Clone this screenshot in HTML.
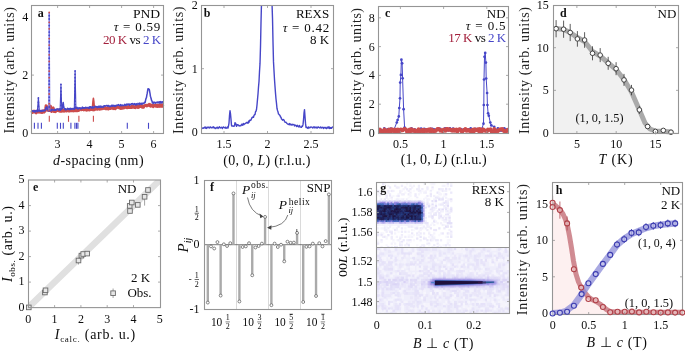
<!DOCTYPE html><html><head><meta charset="utf-8"><style>html,body{margin:0;padding:0;background:#fff;overflow:hidden}svg{display:block;will-change:transform} text{font-family:"Liberation Serif", serif}</style></head><body><svg width="685" height="351" viewBox="0 0 685 351"><rect width="685" height="351" fill="#fff"/><path d="M32.00,111.85 L32.40,112.48 L32.80,112.23 L33.20,111.25 L33.60,111.19 L34.00,111.24 L34.40,111.92 L34.80,111.30 L35.20,112.29 L35.60,112.17 L36.00,112.94 L36.40,112.69 L36.80,111.24 L37.20,111.55 L37.60,111.27 L38.00,112.17 L38.40,111.96 L38.80,110.97 L39.20,112.19 L39.60,111.43 L40.00,111.69 L40.40,112.35 L40.80,111.23 L41.20,111.77 L41.60,112.16 L42.00,112.64 L42.40,111.50 L42.80,110.94 L43.20,110.70 L43.60,112.13 L44.00,112.32 L44.40,111.90 L44.80,111.44 L45.20,111.18 L45.60,108.72 L46.00,105.67 L46.40,105.75 L46.80,107.15 L47.20,108.46 L47.60,109.42 L48.00,110.45 L48.40,110.42 L48.80,110.52 L49.20,110.58 L49.60,108.24 L50.00,106.37 L50.40,106.00 L50.80,107.17 L51.20,109.72 L51.60,111.59 L52.00,109.39 L52.40,108.27 L52.80,108.30 L53.20,107.77 L53.60,109.71 L54.00,111.65 L54.40,111.01 L54.80,111.36 L55.20,111.79 L55.60,111.72 L56.00,110.74 L56.40,110.14 L56.80,110.04 L57.20,110.31 L57.60,110.55 L58.00,109.85 L58.40,110.03 L58.80,109.86 L59.20,111.02 L59.60,110.27 L60.00,110.47 L60.40,111.42 L60.80,110.64 L61.20,109.86 L61.60,110.35 L62.00,111.30 L62.40,109.67 L62.80,110.66 L63.20,110.67 L63.60,110.62 L64.00,111.27 L64.40,110.04 L64.80,109.83 L65.20,110.54 L65.60,110.12 L66.00,111.06 L66.40,111.12 L66.80,111.03 L67.20,109.83 L67.60,110.06 L68.00,109.39 L68.40,109.83 L68.80,111.20 L69.20,111.14 L69.60,111.16 L70.00,109.67 L70.40,109.60 L70.80,110.43 L71.20,110.85 L71.60,110.45 L72.00,109.29 L72.40,110.92 L72.80,110.58 L73.20,109.42 L73.60,109.71 L74.00,110.96 L74.40,109.80 L74.80,110.43 L75.20,109.21 L75.60,110.75 L76.00,109.21 L76.40,110.86 L76.80,109.58 L77.20,109.12 L77.60,110.77 L78.00,109.87 L78.40,109.66 L78.80,110.42 L79.20,109.25 L79.60,109.21 L80.00,109.23 L80.40,108.95 L80.80,109.37 L81.20,109.81 L81.60,109.47 L82.00,109.61 L82.40,109.63 L82.80,109.44 L83.20,108.55 L83.60,108.87 L84.00,109.95 L84.40,109.13 L84.80,109.57 L85.20,108.65 L85.60,108.91 L86.00,109.94 L86.40,109.50 L86.80,110.18 L87.20,109.56 L87.60,109.34 L88.00,109.20 L88.40,109.23 L88.80,109.65 L89.20,110.12 L89.60,109.33 L90.00,109.87 L90.40,108.41 L90.80,108.29 L91.20,108.27 L91.60,109.67 L92.00,108.39 L92.40,109.39 L92.80,109.81 L93.20,108.46 L93.60,108.80 L94.00,109.96 L94.40,108.28 L94.80,108.97 L95.20,108.31 L95.60,109.34 L96.00,108.99 L96.40,107.89 L96.80,109.08 L97.20,107.94 L97.60,109.37 L98.00,107.98 L98.40,107.83 L98.80,108.27 L99.20,108.56 L99.60,109.33 L100.00,107.97 L100.40,108.79 L100.80,107.81 L101.20,108.98 L101.60,107.73 L102.00,108.84 L102.40,107.71 L102.80,107.66 L103.20,108.41 L103.60,108.59 L104.00,108.00 L104.40,108.50 L104.80,107.64 L105.20,107.50 L105.60,108.00 L106.00,108.88 L106.40,108.34 L106.80,108.01 L107.20,107.80 L107.60,108.74 L108.00,107.63 L108.40,109.10 L108.80,108.85 L109.20,108.18 L109.60,107.96 L110.00,108.53 L110.40,107.82 L110.80,108.52 L111.20,107.90 L111.60,107.18 L112.00,107.19 L112.40,107.54 L112.80,107.17 L113.20,108.73 L113.60,107.53 L114.00,107.53 L114.40,107.24 L114.80,107.43 L115.20,108.83 L115.60,107.35 L116.00,107.46 L116.40,106.82 L116.80,107.75 L117.20,107.18 L117.60,106.77 L118.00,106.92 L118.40,106.80 L118.80,107.30 L119.20,107.84 L119.60,108.15 L120.00,108.06 L120.40,107.39 L120.80,108.56 L121.20,108.02 L121.60,106.64 L122.00,108.31 L122.40,107.98 L122.80,106.77 L123.20,107.47 L123.60,108.05 L124.00,107.59 L124.40,107.77 L124.80,106.84 L125.20,106.63 L125.60,106.55 L126.00,107.44 L126.40,107.55 L126.80,107.26 L127.20,107.85 L127.60,107.24 L128.00,107.54 L128.40,107.67 L128.80,106.32 L129.20,107.61 L129.60,107.61 L130.00,107.10 L130.40,107.05 L130.80,107.61 L131.20,107.34 L131.60,106.32 L132.00,107.50 L132.40,107.12 L132.80,106.09 L133.20,107.29 L133.60,107.28 L134.00,106.94 L134.40,106.82 L134.80,107.65 L135.20,107.80 L135.60,105.86 L136.00,107.44 L136.40,106.68 L136.80,106.18 L137.20,106.16 L137.60,106.00 L138.00,107.60 L138.40,107.32 L138.80,107.43 L139.20,106.10 L139.60,106.59 L140.00,105.60 L140.40,106.47 L140.80,105.83 L141.20,106.16 L141.60,105.51 L142.00,107.17 L142.40,107.32 L142.80,107.24 L143.20,106.16 L143.60,107.37 L144.00,106.05 L144.40,105.81 L144.80,105.38 L145.20,105.63 L145.60,105.41 L146.00,105.75 L146.40,105.27 L146.80,106.06 L147.20,105.34 L147.60,105.76 L148.00,105.18 L148.40,105.12 L148.80,105.16 L149.20,104.30 L149.60,105.71 L150.00,104.97 L150.40,104.81 L150.80,106.34 L151.20,105.86 L151.60,105.78 L152.00,105.09 L152.40,105.23 L152.80,105.85 L153.20,106.68 L153.60,105.76 L154.00,105.24 L154.40,105.52 L154.80,105.30 L155.20,105.94 L155.60,106.28 L156.00,105.59 L156.40,105.50 L156.80,104.85 L157.20,106.64 L157.60,105.69 L158.00,106.39 L158.40,105.18 L158.80,105.42 L159.20,106.51 L159.60,106.32 L160.00,104.62 L160.40,106.33 L160.80,105.69 L161.20,105.28 L161.60,106.12 L162.00,106.40 L162.40,104.65 L162.80,105.46" stroke="#cc4c4c" stroke-width="2.8" fill="none" stroke-linejoin="round" stroke-linecap="round" />
<path d="M92.30,109.07 L93.00,101.00 L93.40,98.30 L93.80,101.00 L94.50,108.96" stroke="#cc4c4c" stroke-width="1.6" fill="none" stroke-linejoin="round" stroke-linecap="round" />
<path d="M32.00,110.94 L32.40,110.79 L32.80,111.23 L33.20,111.43 L33.60,111.28 L34.00,110.70 L34.40,111.85 L34.80,110.86 L35.20,111.99 L35.60,111.08 L36.00,110.49 L36.40,110.85 L36.80,110.55 L37.20,111.64 L37.60,111.23 L38.00,110.87 L38.40,110.35 L38.80,110.55 L39.20,110.87 L39.60,111.10 L40.00,110.61 L40.40,111.22 L40.80,110.99 L41.20,111.45 L41.60,110.48 L42.00,110.18 L42.40,111.17 L42.80,110.72 L43.20,110.97 L43.60,110.79 L44.00,110.35 L44.40,110.74 L44.80,110.35 L45.20,110.60 L45.60,108.98 L46.00,107.55 L46.40,107.27 L46.80,106.82 L47.20,108.88 L47.60,109.66 L48.00,109.58 L48.40,110.74 L48.80,109.90 L49.20,110.87 L49.60,110.17 L50.00,110.84 L50.40,110.78 L50.80,110.03 L51.20,110.75 L51.60,109.55 L52.00,109.65 L52.40,110.03 L52.80,109.64 L53.20,109.87 L53.60,110.07 L54.00,110.24 L54.40,110.10 L54.80,109.17 L55.20,110.30 L55.60,110.30 L56.00,109.63 L56.40,109.98 L56.80,109.05 L57.20,109.17 L57.60,108.97 L58.00,109.10 L58.40,109.41 L58.80,110.20 L59.20,109.01 L59.60,109.30 L60.00,108.91 L60.40,110.27 L60.80,109.43 L61.20,108.79 L61.60,108.99 L62.00,108.51 L62.40,108.44 L62.80,104.42 L63.20,102.53 L63.60,105.69 L64.00,107.92 L64.40,108.67 L64.80,109.57 L65.20,109.59 L65.60,108.67 L66.00,109.86 L66.40,109.55 L66.80,109.41 L67.20,109.03 L67.60,108.22 L68.00,108.59 L68.40,109.22 L68.80,108.80 L69.20,109.64 L69.60,108.61 L70.00,108.37 L70.40,108.30 L70.80,109.39 L71.20,108.68 L71.60,109.17 L72.00,108.92 L72.40,109.08 L72.80,108.57 L73.20,109.04 L73.60,109.03 L74.00,108.35 L74.40,109.20 L74.80,107.81 L75.20,107.14 L75.60,107.11 L76.00,107.11 L76.40,107.86 L76.80,108.27 L77.20,107.51 L77.60,108.50 L78.00,108.93 L78.40,108.80 L78.80,107.72 L79.20,107.82 L79.60,108.26 L80.00,107.96 L80.40,108.72 L80.80,107.97 L81.20,108.65 L81.60,108.65 L82.00,108.00 L82.40,107.15 L82.80,107.39 L83.20,108.34 L83.60,107.79 L84.00,107.90 L84.40,107.81 L84.80,108.21 L85.20,107.82 L85.60,107.34 L86.00,107.68 L86.40,108.05 L86.80,107.52 L87.20,107.59 L87.60,107.86 L88.00,107.58 L88.40,108.20 L88.80,108.07 L89.20,107.05 L89.60,108.12 L90.00,106.80 L90.40,107.26 L90.80,106.91 L91.20,107.57 L91.60,107.90 L92.00,107.59 L92.40,106.64 L92.80,107.93 L93.20,107.88 L93.60,107.11 L94.00,107.63 L94.40,106.96 L94.80,106.78 L95.20,106.72 L95.60,106.22 L96.00,106.86 L96.40,106.66 L96.80,106.92 L97.20,107.65 L97.60,107.60 L98.00,106.44 L98.40,107.23 L98.80,106.16 L99.20,107.39 L99.60,106.31 L100.00,107.34 L100.40,106.96 L100.80,105.91 L101.20,106.47 L101.60,107.26 L102.00,107.01 L102.40,107.07 L102.80,107.05 L103.20,106.19 L103.60,107.10 L104.00,105.80 L104.40,105.94 L104.80,105.79 L105.20,105.83 L105.60,105.96 L106.00,105.91 L106.40,105.70 L106.80,105.42 L107.20,105.39 L107.60,106.21 L108.00,106.06 L108.40,105.45 L108.80,105.94 L109.20,106.55 L109.60,106.00 L110.00,106.73 L110.40,106.47 L110.80,106.12 L111.20,105.63 L111.60,105.26 L112.00,106.21 L112.40,105.25 L112.80,106.31 L113.20,106.01 L113.60,105.29 L114.00,105.61 L114.40,105.56 L114.80,106.36 L115.20,105.67 L115.60,106.31 L116.00,105.31 L116.40,105.32 L116.80,105.48 L117.20,105.46 L117.60,105.05 L118.00,105.23 L118.40,104.60 L118.80,104.91 L119.20,105.36 L119.60,105.53 L120.00,105.86 L120.40,104.95 L120.80,104.64 L121.20,105.40 L121.60,105.68 L122.00,105.31 L122.40,105.58 L122.80,105.09 L123.20,105.56 L123.60,105.52 L124.00,105.60 L124.40,105.25 L124.80,104.16 L125.20,104.66 L125.60,105.39 L126.00,105.03 L126.40,105.09 L126.80,103.98 L127.20,105.14 L127.60,104.77 L128.00,103.99 L128.40,104.26 L128.80,104.25 L129.20,104.13 L129.60,105.33 L130.00,104.35 L130.40,104.81 L130.80,104.67 L131.20,103.78 L131.60,104.04 L132.00,104.09 L132.40,103.59 L132.80,103.97 L133.20,104.62 L133.60,103.95 L134.00,104.20 L134.40,103.62 L134.80,103.72 L135.20,104.87 L135.60,104.08 L136.00,104.87 L136.40,103.72 L136.80,104.77 L137.20,104.16 L137.60,104.04 L138.00,103.39 L138.40,103.96 L138.80,104.24 L139.20,104.53 L139.60,103.10 L140.00,103.82 L140.40,103.49 L140.80,103.53 L141.20,104.29 L141.60,104.12 L142.00,103.08 L142.40,103.99 L142.80,103.27 L143.20,103.36 L143.60,103.56 L144.00,103.12 L144.40,102.19 L144.80,102.94 L145.20,102.31 L145.60,100.10 L146.00,98.46 L146.40,97.81 L146.80,95.45 L147.20,93.45 L147.60,90.93 L148.00,88.71 L148.40,88.69 L148.80,89.18 L149.20,89.24 L149.60,91.02 L150.00,93.40 L150.40,96.15 L150.80,97.35 L151.20,99.06 L151.60,100.48 L152.00,101.01 L152.40,102.78 L152.80,102.04 L153.20,103.47 L153.60,102.18 L154.00,102.14 L154.40,102.14 L154.80,102.39 L155.20,103.37 L155.60,102.58 L156.00,102.74 L156.40,102.41 L156.80,102.28 L157.20,102.01 L157.60,102.79 L158.00,102.10 L158.40,102.12 L158.80,102.41 L159.20,103.03 L159.60,101.68 L160.00,102.75 L160.40,102.34 L160.80,101.56 L161.20,103.01 L161.60,102.87 L162.00,101.87 L162.40,101.69 L162.80,102.51" stroke="#4646c8" stroke-width="1.5" fill="none" stroke-linejoin="round" stroke-linecap="round" />
<path d="M37.50,110.55 L38.40,98.00 L39.30,110.55" stroke="#4646c8" stroke-width="1.2" fill="none" stroke-linejoin="round" stroke-linecap="round" />
<circle cx="38.40" cy="98.00" r="0.9" fill="#4646c8"/>
<circle cx="38.40" cy="102.18" r="0.9" fill="#4646c8"/>
<circle cx="38.40" cy="106.36" r="0.9" fill="#4646c8"/>
<circle cx="38.40" cy="110.55" r="0.9" fill="#4646c8"/>
<path d="M48.70,110.28 L49.20,12.50 L49.90,110.28" stroke="#7a7ae6" stroke-width="1.0" fill="none" stroke-linejoin="round" stroke-linecap="round" />
<circle cx="49.20" cy="12.50" r="0.9" fill="#cc4c4c"/>
<circle cx="49.20" cy="15.76" r="0.9" fill="#4646c8"/>
<circle cx="49.20" cy="19.02" r="0.9" fill="#4646c8"/>
<circle cx="49.20" cy="22.28" r="0.9" fill="#cc4c4c"/>
<circle cx="49.20" cy="25.54" r="0.9" fill="#4646c8"/>
<circle cx="49.20" cy="28.80" r="0.9" fill="#cc4c4c"/>
<circle cx="49.20" cy="32.06" r="0.9" fill="#4646c8"/>
<circle cx="49.20" cy="35.32" r="0.9" fill="#4646c8"/>
<circle cx="49.20" cy="38.57" r="0.9" fill="#cc4c4c"/>
<circle cx="49.20" cy="41.83" r="0.9" fill="#4646c8"/>
<circle cx="49.20" cy="45.09" r="0.9" fill="#cc4c4c"/>
<circle cx="49.20" cy="48.35" r="0.9" fill="#4646c8"/>
<circle cx="49.20" cy="51.61" r="0.9" fill="#4646c8"/>
<circle cx="49.20" cy="54.87" r="0.9" fill="#cc4c4c"/>
<circle cx="49.20" cy="58.13" r="0.9" fill="#4646c8"/>
<circle cx="49.20" cy="61.39" r="0.9" fill="#cc4c4c"/>
<circle cx="49.20" cy="64.65" r="0.9" fill="#4646c8"/>
<circle cx="49.20" cy="67.91" r="0.9" fill="#4646c8"/>
<circle cx="49.20" cy="71.17" r="0.9" fill="#cc4c4c"/>
<circle cx="49.20" cy="74.43" r="0.9" fill="#4646c8"/>
<circle cx="49.20" cy="77.69" r="0.9" fill="#cc4c4c"/>
<circle cx="49.20" cy="80.95" r="0.9" fill="#4646c8"/>
<circle cx="49.20" cy="84.20" r="0.9" fill="#4646c8"/>
<circle cx="49.20" cy="87.46" r="0.9" fill="#cc4c4c"/>
<circle cx="49.20" cy="90.72" r="0.9" fill="#4646c8"/>
<circle cx="49.20" cy="93.98" r="0.9" fill="#cc4c4c"/>
<circle cx="49.20" cy="97.24" r="0.9" fill="#4646c8"/>
<circle cx="49.20" cy="100.50" r="0.9" fill="#4646c8"/>
<circle cx="49.20" cy="103.76" r="0.9" fill="#cc4c4c"/>
<circle cx="49.20" cy="107.02" r="0.9" fill="#4646c8"/>
<circle cx="49.20" cy="110.28" r="0.9" fill="#cc4c4c"/>
<path d="M60.15,108.94 L60.95,84.30 L61.75,108.94" stroke="#4646c8" stroke-width="1.1" fill="none" stroke-linejoin="round" stroke-linecap="round" />
<circle cx="60.95" cy="84.30" r="0.9" fill="#4646c8"/>
<circle cx="60.95" cy="87.82" r="0.9" fill="#4646c8"/>
<circle cx="60.95" cy="91.34" r="0.9" fill="#4646c8"/>
<circle cx="60.95" cy="94.86" r="0.9" fill="#4646c8"/>
<circle cx="60.95" cy="98.38" r="0.9" fill="#4646c8"/>
<circle cx="60.95" cy="101.90" r="0.9" fill="#4646c8"/>
<circle cx="60.95" cy="105.42" r="0.9" fill="#4646c8"/>
<circle cx="60.95" cy="108.94" r="0.9" fill="#4646c8"/>
<path d="M74.30,107.94 L75.10,71.00 L75.90,107.94" stroke="#4646c8" stroke-width="1.1" fill="none" stroke-linejoin="round" stroke-linecap="round" />
<circle cx="75.10" cy="71.00" r="0.9" fill="#4646c8"/>
<circle cx="75.10" cy="74.36" r="0.9" fill="#4646c8"/>
<circle cx="75.10" cy="77.72" r="0.9" fill="#4646c8"/>
<circle cx="75.10" cy="81.07" r="0.9" fill="#4646c8"/>
<circle cx="75.10" cy="84.43" r="0.9" fill="#4646c8"/>
<circle cx="75.10" cy="87.79" r="0.9" fill="#4646c8"/>
<circle cx="75.10" cy="91.15" r="0.9" fill="#4646c8"/>
<circle cx="75.10" cy="94.51" r="0.9" fill="#4646c8"/>
<circle cx="75.10" cy="97.87" r="0.9" fill="#4646c8"/>
<circle cx="75.10" cy="101.22" r="0.9" fill="#4646c8"/>
<circle cx="75.10" cy="104.58" r="0.9" fill="#4646c8"/>
<circle cx="75.10" cy="107.94" r="0.9" fill="#4646c8"/>
<line x1="49.3" y1="115.8" x2="49.3" y2="121.8" stroke="#cc4c4c" stroke-width="1.1"/>
<line x1="68.5" y1="115.8" x2="68.5" y2="121.8" stroke="#cc4c4c" stroke-width="1.1"/>
<line x1="78.9" y1="115.8" x2="78.9" y2="121.8" stroke="#cc4c4c" stroke-width="1.1"/>
<line x1="93.4" y1="115.8" x2="93.4" y2="121.8" stroke="#cc4c4c" stroke-width="1.1"/>
<line x1="34.4" y1="122.8" x2="34.4" y2="128.8" stroke="#4646c8" stroke-width="1.1"/>
<line x1="38" y1="122.8" x2="38" y2="128.8" stroke="#4646c8" stroke-width="1.1"/>
<line x1="41.4" y1="122.8" x2="41.4" y2="128.8" stroke="#4646c8" stroke-width="1.1"/>
<line x1="57.3" y1="122.8" x2="57.3" y2="128.8" stroke="#4646c8" stroke-width="1.1"/>
<line x1="60.5" y1="122.8" x2="60.5" y2="128.8" stroke="#4646c8" stroke-width="1.1"/>
<line x1="63.3" y1="122.8" x2="63.3" y2="128.8" stroke="#4646c8" stroke-width="1.1"/>
<line x1="70.9" y1="122.8" x2="70.9" y2="128.8" stroke="#4646c8" stroke-width="1.1"/>
<line x1="74.9" y1="122.8" x2="74.9" y2="128.8" stroke="#4646c8" stroke-width="1.1"/>
<line x1="76.5" y1="122.8" x2="76.5" y2="128.8" stroke="#4646c8" stroke-width="1.1"/>
<line x1="77.9" y1="122.8" x2="77.9" y2="128.8" stroke="#4646c8" stroke-width="1.1"/>
<line x1="127.3" y1="122.8" x2="127.3" y2="128.8" stroke="#4646c8" stroke-width="1.1"/>
<line x1="148.5" y1="122.8" x2="148.5" y2="128.8" stroke="#4646c8" stroke-width="1.1"/>
<rect x="31.5" y="5.5" width="132.0" height="128.0" fill="none" stroke="#959595" stroke-width="1.1"/>
<line x1="57.6" y1="133.5" x2="57.6" y2="131.0" stroke="#959595" stroke-width="0.8"/>
<line x1="57.6" y1="5.5" x2="57.6" y2="8.0" stroke="#959595" stroke-width="0.8"/>
<line x1="89.6" y1="133.5" x2="89.6" y2="131.0" stroke="#959595" stroke-width="0.8"/>
<line x1="89.6" y1="5.5" x2="89.6" y2="8.0" stroke="#959595" stroke-width="0.8"/>
<line x1="121.6" y1="133.5" x2="121.6" y2="131.0" stroke="#959595" stroke-width="0.8"/>
<line x1="121.6" y1="5.5" x2="121.6" y2="8.0" stroke="#959595" stroke-width="0.8"/>
<line x1="153.6" y1="133.5" x2="153.6" y2="131.0" stroke="#959595" stroke-width="0.8"/>
<line x1="153.6" y1="5.5" x2="153.6" y2="8.0" stroke="#959595" stroke-width="0.8"/>
<line x1="31.5" y1="75.10000000000001" x2="34.0" y2="75.10000000000001" stroke="#959595" stroke-width="0.8"/>
<line x1="163.5" y1="75.10000000000001" x2="161.0" y2="75.10000000000001" stroke="#959595" stroke-width="0.8"/>
<text x="28.2" y="137.3" font-size="12" text-anchor="end" fill="#0c0c0c" font-weight="normal" font-style="normal" >0</text>
<text x="28.2" y="79.10000000000001" font-size="12" text-anchor="end" fill="#0c0c0c" font-weight="normal" font-style="normal" >2</text>
<text x="28.2" y="20.900000000000006" font-size="12" text-anchor="end" fill="#0c0c0c" font-weight="normal" font-style="normal" >4</text>
<text x="57.6" y="148" font-size="12" text-anchor="middle" fill="#0c0c0c" font-weight="normal" font-style="normal" >3</text>
<text x="89.6" y="148" font-size="12" text-anchor="middle" fill="#0c0c0c" font-weight="normal" font-style="normal" >4</text>
<text x="121.6" y="148" font-size="12" text-anchor="middle" fill="#0c0c0c" font-weight="normal" font-style="normal" >5</text>
<text x="153.6" y="148" font-size="12" text-anchor="middle" fill="#0c0c0c" font-weight="normal" font-style="normal" >6</text>
<text x="98.3" y="164.6" font-size="14" text-anchor="middle" fill="#0c0c0c" textLength="90.5" lengthAdjust="spacing"><tspan font-style="italic">d</tspan>-spacing (nm)</text>
<text x="14.3" y="70.2" font-size="14" text-anchor="middle" fill="#222" transform="rotate(-90 14.3 70.2)" textLength="126.5" lengthAdjust="spacing">Intensity (arb. units)</text>
<text x="37.8" y="16.7" font-size="12" text-anchor="start" fill="#111" font-weight="bold" font-style="normal" >a</text>
<text x="160.2" y="18.1" font-size="13" text-anchor="end" fill="#0c0c0c" font-weight="normal" font-style="normal" textLength="27.2" lengthAdjust="spacingAndGlyphs" >PND</text>
<text x="160.2" y="31" font-size="13" text-anchor="end" fill="#0c0c0c" textLength="46.5" lengthAdjust="spacing"><tspan font-style="italic">τ</tspan> = 0.59</text>
<text x="161.2" y="43.8" font-size="13" text-anchor="end" fill="#0c0c0c" textLength="58.2" lengthAdjust="spacing"><tspan fill="#a3203c">20 K</tspan> vs <tspan fill="#4646c8">2 K</tspan></text>
<clipPath id="cb"><rect x="201.5" y="5.5" width="132" height="128"/></clipPath>
<path d="M202.00,128.49 L202.50,128.10 L203.00,127.97 L203.50,128.18 L204.00,127.62 L204.50,127.79 L205.00,126.87 L205.50,128.21 L206.00,127.22 L206.50,128.46 L207.00,127.96 L207.50,127.35 L208.00,127.03 L208.50,127.25 L209.00,127.95 L209.50,128.06 L210.00,127.00 L210.50,126.93 L211.00,127.74 L211.50,127.85 L212.00,127.50 L212.50,127.20 L213.00,127.88 L213.50,126.82 L214.00,127.34 L214.50,127.63 L215.00,128.53 L215.50,127.96 L216.00,128.39 L216.50,127.66 L217.00,127.22 L217.50,127.24 L218.00,128.53 L218.50,128.07 L219.00,127.35 L219.50,126.84 L220.00,127.70 L220.50,128.01 L221.00,127.56 L221.50,127.26 L222.00,128.00 L222.50,128.47 L223.00,127.21 L223.50,126.86 L224.00,127.41 L224.50,127.56 L225.00,128.03 L225.50,127.16 L226.00,128.23 L226.50,128.13 L227.00,127.67 L227.50,127.01 L228.00,128.11 L228.50,125.78 L229.00,123.06 L229.50,115.51 L230.00,110.72 L230.50,113.79 L231.00,119.37 L231.50,125.32 L232.00,126.22 L232.50,125.95 L233.00,125.96 L233.50,126.18 L234.00,126.24 L234.50,125.57 L235.00,122.61 L235.50,123.16 L236.00,124.24 L236.50,126.40 L237.00,125.00 L237.50,124.75 L238.00,124.67 L238.50,125.17 L239.00,125.98 L239.50,125.85 L240.00,125.48 L240.50,125.86 L241.00,125.64 L241.50,124.45 L242.00,124.09 L242.50,125.34 L243.00,124.90 L243.50,123.52 L244.00,124.56 L244.50,123.94 L245.00,123.78 L245.50,123.47 L246.00,122.94 L246.50,122.41 L247.00,122.68 L247.50,122.57 L248.00,123.31 L248.50,121.30 L249.00,122.30 L249.50,120.42 L250.00,120.18 L250.50,120.50 L251.00,119.99 L251.50,118.74 L252.00,117.47 L252.50,117.65 L253.00,116.88 L253.50,117.28 L254.00,115.38 L254.50,114.74 L255.00,114.51 L255.50,111.76 L256.00,111.25 L256.50,109.48 L257.00,104.96 L257.50,99.37 L258.00,94.03 L258.50,87.00 L259.00,81.46 L259.50,71.51 L260.00,63.65 L260.50,46.67 L261.00,22.74 L261.50,3.00 L262.00,3.00 L262.50,3.00 L263.00,3.00 L263.50,3.00 L264.00,3.00 L264.50,3.00 L265.00,3.00 L265.50,3.00 L266.00,3.00 L266.50,3.00 L267.00,3.00 L267.50,3.00 L268.00,3.00 L268.50,3.00 L269.00,3.00 L269.50,3.00 L270.00,3.00 L270.50,3.00 L271.00,3.00 L271.50,3.00 L272.00,3.00 L272.50,17.88 L273.00,41.91 L273.50,61.88 L274.00,70.78 L274.50,79.44 L275.00,86.56 L275.50,93.14 L276.00,99.04 L276.50,103.34 L277.00,108.54 L277.50,110.42 L278.00,111.82 L278.50,114.01 L279.00,114.29 L279.50,115.03 L280.00,115.56 L280.50,117.08 L281.00,117.26 L281.50,119.03 L282.00,119.44 L282.50,120.18 L283.00,119.40 L283.50,119.59 L284.00,120.12 L284.50,121.36 L285.00,122.25 L285.50,122.30 L286.00,122.31 L286.50,122.88 L287.00,123.48 L287.50,123.81 L288.00,124.17 L288.50,124.58 L289.00,124.44 L289.50,123.56 L290.00,124.95 L290.50,124.07 L291.00,124.66 L291.50,124.41 L292.00,125.17 L292.50,124.30 L293.00,124.49 L293.50,124.58 L294.00,124.52 L294.50,125.93 L295.00,125.48 L295.50,125.13 L296.00,125.35 L296.50,126.53 L297.00,125.75 L297.50,125.36 L298.00,126.50 L298.50,126.32 L299.00,127.02 L299.50,125.52 L300.00,126.29 L300.50,127.01 L301.00,127.15 L301.50,127.39 L302.00,125.90 L302.50,126.26 L303.00,124.65 L303.50,119.86 L304.00,113.22 L304.50,109.61 L305.00,116.57 L305.50,123.17 L306.00,127.44 L306.50,127.47 L307.00,127.26 L307.50,128.20 L308.00,128.50 L308.50,126.99 L309.00,127.87 L309.50,127.92 L310.00,127.19 L310.50,127.46 L311.00,127.05 L311.50,127.17 L312.00,127.26 L312.50,127.88 L313.00,127.97 L313.50,127.17 L314.00,126.82 L314.50,127.39 L315.00,128.02 L315.50,127.13 L316.00,127.36 L316.50,127.17 L317.00,128.23 L317.50,127.79 L318.00,126.91 L318.50,126.98 L319.00,127.51 L319.50,127.79 L320.00,127.95 L320.50,126.96 L321.00,127.09 L321.50,128.05 L322.00,127.54 L322.50,127.31 L323.00,127.35 L323.50,128.52 L324.00,127.36 L324.50,127.82 L325.00,127.44 L325.50,127.55 L326.00,128.36 L326.50,128.59 L327.00,127.45 L327.50,127.15 L328.00,128.11 L328.50,127.17 L329.00,126.81 L329.50,128.42 L330.00,127.56 L330.50,128.28 L331.00,127.53 L331.50,128.39 L332.00,127.63 L332.50,127.09 L333.00,126.83" stroke="#4646c8" stroke-width="1.4" fill="none" stroke-linejoin="round" stroke-linecap="round" clip-path="url(#cb)"/>
<rect x="201.5" y="5.5" width="132.0" height="128.0" fill="none" stroke="#959595" stroke-width="1.1"/>
<line x1="224.0" y1="133.5" x2="224.0" y2="131.0" stroke="#959595" stroke-width="0.8"/>
<line x1="224.0" y1="5.5" x2="224.0" y2="8.0" stroke="#959595" stroke-width="0.8"/>
<line x1="267.5" y1="133.5" x2="267.5" y2="131.0" stroke="#959595" stroke-width="0.8"/>
<line x1="267.5" y1="5.5" x2="267.5" y2="8.0" stroke="#959595" stroke-width="0.8"/>
<line x1="311.0" y1="133.5" x2="311.0" y2="131.0" stroke="#959595" stroke-width="0.8"/>
<line x1="311.0" y1="5.5" x2="311.0" y2="8.0" stroke="#959595" stroke-width="0.8"/>
<line x1="201.5" y1="68.7" x2="204.0" y2="68.7" stroke="#959595" stroke-width="0.8"/>
<line x1="333.5" y1="68.7" x2="331.0" y2="68.7" stroke="#959595" stroke-width="0.8"/>
<text x="197.7" y="136.4" font-size="12" text-anchor="end" fill="#0c0c0c" font-weight="normal" font-style="normal" >0</text>
<text x="197.7" y="72.7" font-size="12" text-anchor="end" fill="#0c0c0c" font-weight="normal" font-style="normal" >1</text>
<text x="197.7" y="9.0" font-size="12" text-anchor="end" fill="#0c0c0c" font-weight="normal" font-style="normal" >2</text>
<text x="224.0" y="148" font-size="12" text-anchor="middle" fill="#0c0c0c" font-weight="normal" font-style="normal" >1.5</text>
<text x="267.5" y="148" font-size="12" text-anchor="middle" fill="#0c0c0c" font-weight="normal" font-style="normal" >2</text>
<text x="311.0" y="148" font-size="12" text-anchor="middle" fill="#0c0c0c" font-weight="normal" font-style="normal" >2.5</text>
<text x="266.8" y="164.5" font-size="14" text-anchor="middle" fill="#0c0c0c" textLength="87" lengthAdjust="spacing">(0, 0, <tspan font-style="italic">L</tspan>) (r.l.u.)</text>
<text x="182.8" y="70.3" font-size="14" text-anchor="middle" fill="#222" transform="rotate(-90 182.8 70.3)" textLength="127.5" lengthAdjust="spacing">Intensity (arb. units)</text>
<text x="203.7" y="16.7" font-size="12" text-anchor="start" fill="#111" font-weight="bold" font-style="normal" >b</text>
<text x="329.2" y="18.4" font-size="13" text-anchor="end" fill="#0c0c0c" font-weight="normal" font-style="normal" >REXS</text>
<text x="329.2" y="31.6" font-size="13" text-anchor="end" fill="#0c0c0c" textLength="46.5" lengthAdjust="spacing"><tspan font-style="italic">τ</tspan> = 0.42</text>
<text x="329.2" y="43.9" font-size="13" text-anchor="end" fill="#0c0c0c" font-weight="normal" font-style="normal" >8 K</text>
<clipPath id="cc"><rect x="378.5" y="6.5" width="130" height="127"/></clipPath>
<g clip-path="url(#cc)">
<path d="M379.50,129.85 L381.10,130.12 L382.70,130.93 L384.30,128.47 L385.90,130.07 L387.50,129.31 L389.10,129.71 L390.70,128.64 L392.30,129.05 L393.90,129.76 L396.80,122.50 L397.60,120.00 L398.80,116.40 L399.30,108.00 L400.00,98.30 L400.20,82.60 L400.90,74.90 L401.40,59.70 L402.10,63.30 L402.60,78.30 L403.60,109.20 L404.60,127.50 L406.70,131.03 L408.30,131.13 L409.90,129.65 L411.50,128.36 L413.10,130.98 L414.70,129.36 L416.30,130.91 L417.90,130.06 L419.50,130.67 L421.10,128.68 L422.70,130.56 L424.30,128.87 L425.90,129.41 L427.50,130.74 L429.10,130.69 L430.70,128.75 L432.30,128.85 L433.90,129.40 L435.50,129.75 L437.10,129.35 L438.70,128.57 L440.30,128.94 L441.90,130.37 L443.50,130.89 L445.10,128.32 L446.70,129.89 L448.30,130.47 L449.90,128.31 L451.50,130.71 L453.10,128.55 L454.70,130.00 L456.30,129.85 L457.90,130.08 L459.50,129.12 L461.10,129.46 L462.70,129.95 L464.30,129.48 L465.90,130.18 L467.50,129.54 L469.10,129.52 L470.70,128.27 L472.30,130.06 L473.90,129.67 L475.50,128.91 L477.10,130.49 L478.70,130.54 L480.30,129.57 L481.90,128.74 L483.50,123.70 L483.80,105.00 L484.00,79.50 L484.50,56.80 L485.20,52.90 L485.90,62.60 L486.20,78.50 L487.10,93.00 L487.40,105.00 L488.10,113.30 L488.80,115.70 L490.30,122.50 L491.30,125.40 L494.20,126.80 L496.30,130.11 L497.90,128.45 L499.50,130.40 L501.10,130.53 L502.70,129.73 L504.30,128.36 L505.90,129.71 L507.50,129.33" stroke="#4646c8" stroke-width="1.0" fill="none" stroke-linejoin="round" stroke-linecap="round" />
<circle cx="379.50" cy="129.85" r="1.35" fill="#4646c8"/>
<circle cx="381.10" cy="130.12" r="1.35" fill="#4646c8"/>
<circle cx="382.70" cy="130.93" r="1.35" fill="#4646c8"/>
<circle cx="384.30" cy="128.47" r="1.35" fill="#4646c8"/>
<circle cx="385.90" cy="130.07" r="1.35" fill="#4646c8"/>
<circle cx="387.50" cy="129.31" r="1.35" fill="#4646c8"/>
<circle cx="389.10" cy="129.71" r="1.35" fill="#4646c8"/>
<circle cx="390.70" cy="128.64" r="1.35" fill="#4646c8"/>
<circle cx="392.30" cy="129.05" r="1.35" fill="#4646c8"/>
<circle cx="393.90" cy="129.76" r="1.35" fill="#4646c8"/>
<circle cx="396.80" cy="122.50" r="1.35" fill="#4646c8"/>
<circle cx="397.60" cy="120.00" r="1.35" fill="#4646c8"/>
<circle cx="398.80" cy="116.40" r="1.35" fill="#4646c8"/>
<circle cx="399.30" cy="108.00" r="1.35" fill="#4646c8"/>
<circle cx="400.00" cy="98.30" r="1.35" fill="#4646c8"/>
<circle cx="400.20" cy="82.60" r="1.35" fill="#4646c8"/>
<circle cx="400.90" cy="74.90" r="1.35" fill="#4646c8"/>
<circle cx="401.40" cy="59.70" r="1.35" fill="#4646c8"/>
<circle cx="402.10" cy="63.30" r="1.35" fill="#4646c8"/>
<circle cx="402.60" cy="78.30" r="1.35" fill="#4646c8"/>
<circle cx="403.60" cy="109.20" r="1.35" fill="#4646c8"/>
<circle cx="404.60" cy="127.50" r="1.35" fill="#4646c8"/>
<circle cx="406.70" cy="131.03" r="1.35" fill="#4646c8"/>
<circle cx="408.30" cy="131.13" r="1.35" fill="#4646c8"/>
<circle cx="409.90" cy="129.65" r="1.35" fill="#4646c8"/>
<circle cx="411.50" cy="128.36" r="1.35" fill="#4646c8"/>
<circle cx="413.10" cy="130.98" r="1.35" fill="#4646c8"/>
<circle cx="414.70" cy="129.36" r="1.35" fill="#4646c8"/>
<circle cx="416.30" cy="130.91" r="1.35" fill="#4646c8"/>
<circle cx="417.90" cy="130.06" r="1.35" fill="#4646c8"/>
<circle cx="419.50" cy="130.67" r="1.35" fill="#4646c8"/>
<circle cx="421.10" cy="128.68" r="1.35" fill="#4646c8"/>
<circle cx="422.70" cy="130.56" r="1.35" fill="#4646c8"/>
<circle cx="424.30" cy="128.87" r="1.35" fill="#4646c8"/>
<circle cx="425.90" cy="129.41" r="1.35" fill="#4646c8"/>
<circle cx="427.50" cy="130.74" r="1.35" fill="#4646c8"/>
<circle cx="429.10" cy="130.69" r="1.35" fill="#4646c8"/>
<circle cx="430.70" cy="128.75" r="1.35" fill="#4646c8"/>
<circle cx="432.30" cy="128.85" r="1.35" fill="#4646c8"/>
<circle cx="433.90" cy="129.40" r="1.35" fill="#4646c8"/>
<circle cx="435.50" cy="129.75" r="1.35" fill="#4646c8"/>
<circle cx="437.10" cy="129.35" r="1.35" fill="#4646c8"/>
<circle cx="438.70" cy="128.57" r="1.35" fill="#4646c8"/>
<circle cx="440.30" cy="128.94" r="1.35" fill="#4646c8"/>
<circle cx="441.90" cy="130.37" r="1.35" fill="#4646c8"/>
<circle cx="443.50" cy="130.89" r="1.35" fill="#4646c8"/>
<circle cx="445.10" cy="128.32" r="1.35" fill="#4646c8"/>
<circle cx="446.70" cy="129.89" r="1.35" fill="#4646c8"/>
<circle cx="448.30" cy="130.47" r="1.35" fill="#4646c8"/>
<circle cx="449.90" cy="128.31" r="1.35" fill="#4646c8"/>
<circle cx="451.50" cy="130.71" r="1.35" fill="#4646c8"/>
<circle cx="453.10" cy="128.55" r="1.35" fill="#4646c8"/>
<circle cx="454.70" cy="130.00" r="1.35" fill="#4646c8"/>
<circle cx="456.30" cy="129.85" r="1.35" fill="#4646c8"/>
<circle cx="457.90" cy="130.08" r="1.35" fill="#4646c8"/>
<circle cx="459.50" cy="129.12" r="1.35" fill="#4646c8"/>
<circle cx="461.10" cy="129.46" r="1.35" fill="#4646c8"/>
<circle cx="462.70" cy="129.95" r="1.35" fill="#4646c8"/>
<circle cx="464.30" cy="129.48" r="1.35" fill="#4646c8"/>
<circle cx="465.90" cy="130.18" r="1.35" fill="#4646c8"/>
<circle cx="467.50" cy="129.54" r="1.35" fill="#4646c8"/>
<circle cx="469.10" cy="129.52" r="1.35" fill="#4646c8"/>
<circle cx="470.70" cy="128.27" r="1.35" fill="#4646c8"/>
<circle cx="472.30" cy="130.06" r="1.35" fill="#4646c8"/>
<circle cx="473.90" cy="129.67" r="1.35" fill="#4646c8"/>
<circle cx="475.50" cy="128.91" r="1.35" fill="#4646c8"/>
<circle cx="477.10" cy="130.49" r="1.35" fill="#4646c8"/>
<circle cx="478.70" cy="130.54" r="1.35" fill="#4646c8"/>
<circle cx="480.30" cy="129.57" r="1.35" fill="#4646c8"/>
<circle cx="481.90" cy="128.74" r="1.35" fill="#4646c8"/>
<circle cx="483.50" cy="123.70" r="1.35" fill="#4646c8"/>
<circle cx="483.80" cy="105.00" r="1.35" fill="#4646c8"/>
<circle cx="484.00" cy="79.50" r="1.35" fill="#4646c8"/>
<circle cx="484.50" cy="56.80" r="1.35" fill="#4646c8"/>
<circle cx="485.20" cy="52.90" r="1.35" fill="#4646c8"/>
<circle cx="485.90" cy="62.60" r="1.35" fill="#4646c8"/>
<circle cx="486.20" cy="78.50" r="1.35" fill="#4646c8"/>
<circle cx="487.10" cy="93.00" r="1.35" fill="#4646c8"/>
<circle cx="487.40" cy="105.00" r="1.35" fill="#4646c8"/>
<circle cx="488.10" cy="113.30" r="1.35" fill="#4646c8"/>
<circle cx="488.80" cy="115.70" r="1.35" fill="#4646c8"/>
<circle cx="490.30" cy="122.50" r="1.35" fill="#4646c8"/>
<circle cx="491.30" cy="125.40" r="1.35" fill="#4646c8"/>
<circle cx="494.20" cy="126.80" r="1.35" fill="#4646c8"/>
<circle cx="496.30" cy="130.11" r="1.35" fill="#4646c8"/>
<circle cx="497.90" cy="128.45" r="1.35" fill="#4646c8"/>
<circle cx="499.50" cy="130.40" r="1.35" fill="#4646c8"/>
<circle cx="501.10" cy="130.53" r="1.35" fill="#4646c8"/>
<circle cx="502.70" cy="129.73" r="1.35" fill="#4646c8"/>
<circle cx="504.30" cy="128.36" r="1.35" fill="#4646c8"/>
<circle cx="505.90" cy="129.71" r="1.35" fill="#4646c8"/>
<circle cx="507.50" cy="129.33" r="1.35" fill="#4646c8"/>
<path d="M379.00,131.75 L379.90,129.31 L380.80,131.47 L381.70,131.89 L382.60,131.10 L383.50,131.34 L384.40,129.48 L385.30,131.85 L386.20,130.38 L387.10,131.77 L388.00,131.65 L388.90,129.40 L389.80,131.27 L390.70,131.69 L391.60,129.10 L392.50,129.95 L393.40,131.17 L394.30,129.38 L395.20,131.59 L396.10,129.72 L397.00,131.35 L397.90,129.33 L398.80,130.41 L399.70,131.66 L400.60,129.52 L401.50,129.69 L402.40,130.42 L403.30,129.86 L404.20,129.01 L405.10,129.45 L406.00,129.38 L406.90,131.71 L407.80,130.94 L408.70,131.59 L409.60,129.41 L410.50,131.25 L411.40,129.25 L412.30,130.49 L413.20,130.81 L414.10,129.98 L415.00,131.52 L415.90,130.57 L416.80,130.64 L417.70,131.55 L418.60,129.21 L419.50,131.88 L420.40,130.79 L421.30,130.08 L422.20,131.29 L423.10,129.69 L424.00,131.87 L424.90,130.63 L425.80,129.98 L426.70,131.19 L427.60,130.23 L428.50,129.43 L429.40,131.13 L430.30,129.04 L431.20,131.36 L432.10,129.66 L433.00,130.82 L433.90,131.85 L434.80,130.66 L435.70,130.89 L436.60,129.84 L437.50,128.91 L438.40,129.00 L439.30,129.35 L440.20,130.75 L441.10,130.20 L442.00,130.44 L442.90,131.59 L443.80,129.30 L444.70,129.58 L445.60,130.86 L446.50,128.97 L447.40,128.91 L448.30,129.96 L449.20,129.22 L450.10,129.97 L451.00,129.57 L451.90,130.65 L452.80,130.67 L453.70,129.51 L454.60,130.77 L455.50,130.32 L456.40,129.30 L457.30,131.71 L458.20,129.63 L459.10,129.35 L460.00,129.19 L460.90,130.81 L461.80,131.51 L462.70,131.25 L463.60,130.11 L464.50,129.69 L465.40,128.93 L466.30,130.83 L467.20,130.59 L468.10,129.95 L469.00,130.84 L469.90,130.23 L470.80,131.71 L471.70,131.10 L472.60,129.65 L473.50,131.61 L474.40,129.03 L475.30,130.49 L476.20,130.12 L477.10,129.61 L478.00,129.08 L478.90,131.24 L479.80,128.94 L480.70,130.55 L481.60,131.72 L482.50,129.33 L483.40,129.50 L484.30,130.72 L485.20,130.42 L486.10,130.82 L487.00,131.34 L487.90,129.42 L488.80,129.83 L489.70,129.80 L490.60,129.05 L491.50,131.57 L492.40,131.25 L493.30,131.05 L494.20,128.92 L495.10,131.43 L496.00,131.14 L496.90,130.30 L497.80,131.13 L498.70,130.26 L499.60,129.58 L500.50,129.22 L501.40,129.60 L502.30,129.02 L503.20,129.91 L504.10,131.15 L505.00,130.99 L505.90,131.44 L506.80,131.04 L507.70,129.70" stroke="#cc4c4c" stroke-width="1.0" fill="none" stroke-linejoin="round" stroke-linecap="round" />
<circle cx="379.00" cy="131.75" r="1.9" fill="#cc4c4c"/>
<circle cx="379.90" cy="129.31" r="1.9" fill="#cc4c4c"/>
<circle cx="380.80" cy="131.47" r="1.9" fill="#cc4c4c"/>
<circle cx="381.70" cy="131.89" r="1.9" fill="#cc4c4c"/>
<circle cx="382.60" cy="131.10" r="1.9" fill="#cc4c4c"/>
<circle cx="383.50" cy="131.34" r="1.9" fill="#cc4c4c"/>
<circle cx="384.40" cy="129.48" r="1.9" fill="#cc4c4c"/>
<circle cx="385.30" cy="131.85" r="1.9" fill="#cc4c4c"/>
<circle cx="386.20" cy="130.38" r="1.9" fill="#cc4c4c"/>
<circle cx="387.10" cy="131.77" r="1.9" fill="#cc4c4c"/>
<circle cx="388.00" cy="131.65" r="1.9" fill="#cc4c4c"/>
<circle cx="388.90" cy="129.40" r="1.9" fill="#cc4c4c"/>
<circle cx="389.80" cy="131.27" r="1.9" fill="#cc4c4c"/>
<circle cx="390.70" cy="131.69" r="1.9" fill="#cc4c4c"/>
<circle cx="391.60" cy="129.10" r="1.9" fill="#cc4c4c"/>
<circle cx="392.50" cy="129.95" r="1.9" fill="#cc4c4c"/>
<circle cx="393.40" cy="131.17" r="1.9" fill="#cc4c4c"/>
<circle cx="394.30" cy="129.38" r="1.9" fill="#cc4c4c"/>
<circle cx="395.20" cy="131.59" r="1.9" fill="#cc4c4c"/>
<circle cx="396.10" cy="129.72" r="1.9" fill="#cc4c4c"/>
<circle cx="397.00" cy="131.35" r="1.9" fill="#cc4c4c"/>
<circle cx="397.90" cy="129.33" r="1.9" fill="#cc4c4c"/>
<circle cx="398.80" cy="130.41" r="1.9" fill="#cc4c4c"/>
<circle cx="399.70" cy="131.66" r="1.9" fill="#cc4c4c"/>
<circle cx="400.60" cy="129.52" r="1.9" fill="#cc4c4c"/>
<circle cx="401.50" cy="129.69" r="1.9" fill="#cc4c4c"/>
<circle cx="402.40" cy="130.42" r="1.9" fill="#cc4c4c"/>
<circle cx="403.30" cy="129.86" r="1.9" fill="#cc4c4c"/>
<circle cx="404.20" cy="129.01" r="1.9" fill="#cc4c4c"/>
<circle cx="405.10" cy="129.45" r="1.9" fill="#cc4c4c"/>
<circle cx="406.00" cy="129.38" r="1.9" fill="#cc4c4c"/>
<circle cx="406.90" cy="131.71" r="1.9" fill="#cc4c4c"/>
<circle cx="407.80" cy="130.94" r="1.9" fill="#cc4c4c"/>
<circle cx="408.70" cy="131.59" r="1.9" fill="#cc4c4c"/>
<circle cx="409.60" cy="129.41" r="1.9" fill="#cc4c4c"/>
<circle cx="410.50" cy="131.25" r="1.9" fill="#cc4c4c"/>
<circle cx="411.40" cy="129.25" r="1.9" fill="#cc4c4c"/>
<circle cx="412.30" cy="130.49" r="1.9" fill="#cc4c4c"/>
<circle cx="413.20" cy="130.81" r="1.9" fill="#cc4c4c"/>
<circle cx="414.10" cy="129.98" r="1.9" fill="#cc4c4c"/>
<circle cx="415.00" cy="131.52" r="1.9" fill="#cc4c4c"/>
<circle cx="415.90" cy="130.57" r="1.9" fill="#cc4c4c"/>
<circle cx="416.80" cy="130.64" r="1.9" fill="#cc4c4c"/>
<circle cx="417.70" cy="131.55" r="1.9" fill="#cc4c4c"/>
<circle cx="418.60" cy="129.21" r="1.9" fill="#cc4c4c"/>
<circle cx="419.50" cy="131.88" r="1.9" fill="#cc4c4c"/>
<circle cx="420.40" cy="130.79" r="1.9" fill="#cc4c4c"/>
<circle cx="421.30" cy="130.08" r="1.9" fill="#cc4c4c"/>
<circle cx="422.20" cy="131.29" r="1.9" fill="#cc4c4c"/>
<circle cx="423.10" cy="129.69" r="1.9" fill="#cc4c4c"/>
<circle cx="424.00" cy="131.87" r="1.9" fill="#cc4c4c"/>
<circle cx="424.90" cy="130.63" r="1.9" fill="#cc4c4c"/>
<circle cx="425.80" cy="129.98" r="1.9" fill="#cc4c4c"/>
<circle cx="426.70" cy="131.19" r="1.9" fill="#cc4c4c"/>
<circle cx="427.60" cy="130.23" r="1.9" fill="#cc4c4c"/>
<circle cx="428.50" cy="129.43" r="1.9" fill="#cc4c4c"/>
<circle cx="429.40" cy="131.13" r="1.9" fill="#cc4c4c"/>
<circle cx="430.30" cy="129.04" r="1.9" fill="#cc4c4c"/>
<circle cx="431.20" cy="131.36" r="1.9" fill="#cc4c4c"/>
<circle cx="432.10" cy="129.66" r="1.9" fill="#cc4c4c"/>
<circle cx="433.00" cy="130.82" r="1.9" fill="#cc4c4c"/>
<circle cx="433.90" cy="131.85" r="1.9" fill="#cc4c4c"/>
<circle cx="434.80" cy="130.66" r="1.9" fill="#cc4c4c"/>
<circle cx="435.70" cy="130.89" r="1.9" fill="#cc4c4c"/>
<circle cx="436.60" cy="129.84" r="1.9" fill="#cc4c4c"/>
<circle cx="437.50" cy="128.91" r="1.9" fill="#cc4c4c"/>
<circle cx="438.40" cy="129.00" r="1.9" fill="#cc4c4c"/>
<circle cx="439.30" cy="129.35" r="1.9" fill="#cc4c4c"/>
<circle cx="440.20" cy="130.75" r="1.9" fill="#cc4c4c"/>
<circle cx="441.10" cy="130.20" r="1.9" fill="#cc4c4c"/>
<circle cx="442.00" cy="130.44" r="1.9" fill="#cc4c4c"/>
<circle cx="442.90" cy="131.59" r="1.9" fill="#cc4c4c"/>
<circle cx="443.80" cy="129.30" r="1.9" fill="#cc4c4c"/>
<circle cx="444.70" cy="129.58" r="1.9" fill="#cc4c4c"/>
<circle cx="445.60" cy="130.86" r="1.9" fill="#cc4c4c"/>
<circle cx="446.50" cy="128.97" r="1.9" fill="#cc4c4c"/>
<circle cx="447.40" cy="128.91" r="1.9" fill="#cc4c4c"/>
<circle cx="448.30" cy="129.96" r="1.9" fill="#cc4c4c"/>
<circle cx="449.20" cy="129.22" r="1.9" fill="#cc4c4c"/>
<circle cx="450.10" cy="129.97" r="1.9" fill="#cc4c4c"/>
<circle cx="451.00" cy="129.57" r="1.9" fill="#cc4c4c"/>
<circle cx="451.90" cy="130.65" r="1.9" fill="#cc4c4c"/>
<circle cx="452.80" cy="130.67" r="1.9" fill="#cc4c4c"/>
<circle cx="453.70" cy="129.51" r="1.9" fill="#cc4c4c"/>
<circle cx="454.60" cy="130.77" r="1.9" fill="#cc4c4c"/>
<circle cx="455.50" cy="130.32" r="1.9" fill="#cc4c4c"/>
<circle cx="456.40" cy="129.30" r="1.9" fill="#cc4c4c"/>
<circle cx="457.30" cy="131.71" r="1.9" fill="#cc4c4c"/>
<circle cx="458.20" cy="129.63" r="1.9" fill="#cc4c4c"/>
<circle cx="459.10" cy="129.35" r="1.9" fill="#cc4c4c"/>
<circle cx="460.00" cy="129.19" r="1.9" fill="#cc4c4c"/>
<circle cx="460.90" cy="130.81" r="1.9" fill="#cc4c4c"/>
<circle cx="461.80" cy="131.51" r="1.9" fill="#cc4c4c"/>
<circle cx="462.70" cy="131.25" r="1.9" fill="#cc4c4c"/>
<circle cx="463.60" cy="130.11" r="1.9" fill="#cc4c4c"/>
<circle cx="464.50" cy="129.69" r="1.9" fill="#cc4c4c"/>
<circle cx="465.40" cy="128.93" r="1.9" fill="#cc4c4c"/>
<circle cx="466.30" cy="130.83" r="1.9" fill="#cc4c4c"/>
<circle cx="467.20" cy="130.59" r="1.9" fill="#cc4c4c"/>
<circle cx="468.10" cy="129.95" r="1.9" fill="#cc4c4c"/>
<circle cx="469.00" cy="130.84" r="1.9" fill="#cc4c4c"/>
<circle cx="469.90" cy="130.23" r="1.9" fill="#cc4c4c"/>
<circle cx="470.80" cy="131.71" r="1.9" fill="#cc4c4c"/>
<circle cx="471.70" cy="131.10" r="1.9" fill="#cc4c4c"/>
<circle cx="472.60" cy="129.65" r="1.9" fill="#cc4c4c"/>
<circle cx="473.50" cy="131.61" r="1.9" fill="#cc4c4c"/>
<circle cx="474.40" cy="129.03" r="1.9" fill="#cc4c4c"/>
<circle cx="475.30" cy="130.49" r="1.9" fill="#cc4c4c"/>
<circle cx="476.20" cy="130.12" r="1.9" fill="#cc4c4c"/>
<circle cx="477.10" cy="129.61" r="1.9" fill="#cc4c4c"/>
<circle cx="478.00" cy="129.08" r="1.9" fill="#cc4c4c"/>
<circle cx="478.90" cy="131.24" r="1.9" fill="#cc4c4c"/>
<circle cx="479.80" cy="128.94" r="1.9" fill="#cc4c4c"/>
<circle cx="480.70" cy="130.55" r="1.9" fill="#cc4c4c"/>
<circle cx="481.60" cy="131.72" r="1.9" fill="#cc4c4c"/>
<circle cx="482.50" cy="129.33" r="1.9" fill="#cc4c4c"/>
<circle cx="483.40" cy="129.50" r="1.9" fill="#cc4c4c"/>
<circle cx="484.30" cy="130.72" r="1.9" fill="#cc4c4c"/>
<circle cx="485.20" cy="130.42" r="1.9" fill="#cc4c4c"/>
<circle cx="486.10" cy="130.82" r="1.9" fill="#cc4c4c"/>
<circle cx="487.00" cy="131.34" r="1.9" fill="#cc4c4c"/>
<circle cx="487.90" cy="129.42" r="1.9" fill="#cc4c4c"/>
<circle cx="488.80" cy="129.83" r="1.9" fill="#cc4c4c"/>
<circle cx="489.70" cy="129.80" r="1.9" fill="#cc4c4c"/>
<circle cx="490.60" cy="129.05" r="1.9" fill="#cc4c4c"/>
<circle cx="491.50" cy="131.57" r="1.9" fill="#cc4c4c"/>
<circle cx="492.40" cy="131.25" r="1.9" fill="#cc4c4c"/>
<circle cx="493.30" cy="131.05" r="1.9" fill="#cc4c4c"/>
<circle cx="494.20" cy="128.92" r="1.9" fill="#cc4c4c"/>
<circle cx="495.10" cy="131.43" r="1.9" fill="#cc4c4c"/>
<circle cx="496.00" cy="131.14" r="1.9" fill="#cc4c4c"/>
<circle cx="496.90" cy="130.30" r="1.9" fill="#cc4c4c"/>
<circle cx="497.80" cy="131.13" r="1.9" fill="#cc4c4c"/>
<circle cx="498.70" cy="130.26" r="1.9" fill="#cc4c4c"/>
<circle cx="499.60" cy="129.58" r="1.9" fill="#cc4c4c"/>
<circle cx="500.50" cy="129.22" r="1.9" fill="#cc4c4c"/>
<circle cx="501.40" cy="129.60" r="1.9" fill="#cc4c4c"/>
<circle cx="502.30" cy="129.02" r="1.9" fill="#cc4c4c"/>
<circle cx="503.20" cy="129.91" r="1.9" fill="#cc4c4c"/>
<circle cx="504.10" cy="131.15" r="1.9" fill="#cc4c4c"/>
<circle cx="505.00" cy="130.99" r="1.9" fill="#cc4c4c"/>
<circle cx="505.90" cy="131.44" r="1.9" fill="#cc4c4c"/>
<circle cx="506.80" cy="131.04" r="1.9" fill="#cc4c4c"/>
<circle cx="507.70" cy="129.70" r="1.9" fill="#cc4c4c"/>
</g>
<rect x="378.5" y="6.5" width="130.0" height="127.0" fill="none" stroke="#959595" stroke-width="1.1"/>
<line x1="400.40000000000003" y1="133.5" x2="400.40000000000003" y2="131.0" stroke="#959595" stroke-width="0.8"/>
<line x1="400.40000000000003" y1="6.5" x2="400.40000000000003" y2="9.0" stroke="#959595" stroke-width="0.8"/>
<line x1="443.6" y1="133.5" x2="443.6" y2="131.0" stroke="#959595" stroke-width="0.8"/>
<line x1="443.6" y1="6.5" x2="443.6" y2="9.0" stroke="#959595" stroke-width="0.8"/>
<line x1="486.8" y1="133.5" x2="486.8" y2="131.0" stroke="#959595" stroke-width="0.8"/>
<line x1="486.8" y1="6.5" x2="486.8" y2="9.0" stroke="#959595" stroke-width="0.8"/>
<line x1="378.5" y1="104.2" x2="381.0" y2="104.2" stroke="#959595" stroke-width="0.8"/>
<line x1="508.5" y1="104.2" x2="506.0" y2="104.2" stroke="#959595" stroke-width="0.8"/>
<line x1="378.5" y1="75.4" x2="381.0" y2="75.4" stroke="#959595" stroke-width="0.8"/>
<line x1="508.5" y1="75.4" x2="506.0" y2="75.4" stroke="#959595" stroke-width="0.8"/>
<line x1="378.5" y1="46.599999999999994" x2="381.0" y2="46.599999999999994" stroke="#959595" stroke-width="0.8"/>
<line x1="508.5" y1="46.599999999999994" x2="506.0" y2="46.599999999999994" stroke="#959595" stroke-width="0.8"/>
<line x1="378.5" y1="17.799999999999997" x2="381.0" y2="17.799999999999997" stroke="#959595" stroke-width="0.8"/>
<line x1="508.5" y1="17.799999999999997" x2="506.0" y2="17.799999999999997" stroke="#959595" stroke-width="0.8"/>
<text x="374.7" y="137.0" font-size="12" text-anchor="end" fill="#0c0c0c" font-weight="normal" font-style="normal" >0</text>
<text x="374.7" y="108.2" font-size="12" text-anchor="end" fill="#0c0c0c" font-weight="normal" font-style="normal" >2</text>
<text x="374.7" y="79.4" font-size="12" text-anchor="end" fill="#0c0c0c" font-weight="normal" font-style="normal" >4</text>
<text x="374.7" y="50.599999999999994" font-size="12" text-anchor="end" fill="#0c0c0c" font-weight="normal" font-style="normal" >6</text>
<text x="374.7" y="21.799999999999997" font-size="12" text-anchor="end" fill="#0c0c0c" font-weight="normal" font-style="normal" >8</text>
<text x="400.40000000000003" y="148" font-size="12" text-anchor="middle" fill="#0c0c0c" font-weight="normal" font-style="normal" >0.5</text>
<text x="443.6" y="148" font-size="12" text-anchor="middle" fill="#0c0c0c" font-weight="normal" font-style="normal" >1</text>
<text x="486.8" y="148" font-size="12" text-anchor="middle" fill="#0c0c0c" font-weight="normal" font-style="normal" >1.5</text>
<text x="443.7" y="164" font-size="14" text-anchor="middle" fill="#0c0c0c" textLength="86" lengthAdjust="spacing">(1, 0, <tspan font-style="italic">L</tspan>) (r.l.u.)</text>
<text x="361" y="70.4" font-size="14" text-anchor="middle" fill="#222" transform="rotate(-90 361 70.4)" textLength="124.9" lengthAdjust="spacing">Intensity (arb. units)</text>
<text x="385" y="16.7" font-size="12" text-anchor="start" fill="#111" font-weight="bold" font-style="normal" >c</text>
<text x="505.6" y="17.9" font-size="13" text-anchor="end" fill="#0c0c0c" font-weight="normal" font-style="normal" >ND</text>
<text x="505.6" y="29.7" font-size="13" text-anchor="end" fill="#0c0c0c" textLength="39.9" lengthAdjust="spacing"><tspan font-style="italic">τ</tspan> = 0.5</text>
<text x="506.2" y="41.8" font-size="13" text-anchor="end" fill="#0c0c0c" textLength="58" lengthAdjust="spacing"><tspan fill="#a3203c">17 K</tspan> vs <tspan fill="#4646c8">2 K</tspan></text>
<path d="M553.50,28.50 L556.10,28.60 L563.60,29.40 L570.20,32.60 L577.40,37.50 L584.60,41.50 L592.50,51.50 L600.20,56.00 L608.20,62.80 L616.10,69.50 L624.00,79.50 L631.50,92.00 L639.40,110.00 L645.00,123.00 L650.00,129.00 L655.40,131.00 L663.30,131.20 L671.00,132.00 L678.00,132.60 L678.00,133.00 L553.50,133.00" stroke="none" stroke-width="0" fill="#f1f1f1" stroke-linejoin="round" stroke-linecap="round" />
<path d="M556.10,28.60 L563.60,29.40 L570.20,32.60 L577.40,37.50 L584.60,41.50 L592.50,51.50 L600.20,56.00 L608.20,62.80 L616.10,69.50 L624.00,79.50 L631.50,92.00 L639.40,110.00 L645.00,123.00 L650.00,129.00 L655.40,131.00 L663.30,131.20 L671.00,132.00" stroke="#aaaaaa" stroke-width="5" fill="none" stroke-linejoin="round" stroke-linecap="round" />
<line x1="556.1" y1="20.1" x2="556.1" y2="37.3" stroke="#333" stroke-width="0.8"/>
<line x1="563.6" y1="20.6" x2="563.6" y2="37.8" stroke="#333" stroke-width="0.8"/>
<line x1="570.2" y1="23.9" x2="570.2" y2="41.1" stroke="#333" stroke-width="0.8"/>
<line x1="577.4" y1="31.099999999999998" x2="577.4" y2="46.699999999999996" stroke="#333" stroke-width="0.8"/>
<line x1="584.6" y1="32.2" x2="584.6" y2="47.8" stroke="#333" stroke-width="0.8"/>
<line x1="592.5" y1="46.3" x2="592.5" y2="60.3" stroke="#333" stroke-width="0.8"/>
<line x1="600.2" y1="48.1" x2="600.2" y2="62.1" stroke="#333" stroke-width="0.8"/>
<line x1="608.2" y1="56.8" x2="608.2" y2="69.8" stroke="#333" stroke-width="0.8"/>
<line x1="616.1" y1="62.2" x2="616.1" y2="75.2" stroke="#333" stroke-width="0.8"/>
<line x1="624" y1="73.9" x2="624" y2="85.9" stroke="#333" stroke-width="0.8"/>
<line x1="631.5" y1="84.89999999999999" x2="631.5" y2="95.3" stroke="#333" stroke-width="0.8"/>
<line x1="639.4" y1="105.9" x2="639.4" y2="113.9" stroke="#333" stroke-width="0.8"/>
<line x1="647.6" y1="124.0" x2="647.6" y2="129.0" stroke="#333" stroke-width="0.8"/>
<line x1="655.4" y1="129.6" x2="655.4" y2="133.20000000000002" stroke="#333" stroke-width="0.8"/>
<line x1="663.3" y1="128.6" x2="663.3" y2="132.20000000000002" stroke="#333" stroke-width="0.8"/>
<line x1="671" y1="130.7" x2="671" y2="133.7" stroke="#333" stroke-width="0.8"/>
<circle cx="556.1" cy="28.7" r="2.3" fill="#fff" stroke="#333" stroke-width="0.9"/>
<circle cx="563.6" cy="29.2" r="2.3" fill="#fff" stroke="#333" stroke-width="0.9"/>
<circle cx="570.2" cy="32.5" r="2.3" fill="#fff" stroke="#333" stroke-width="0.9"/>
<circle cx="577.4" cy="38.9" r="2.3" fill="#fff" stroke="#333" stroke-width="0.9"/>
<circle cx="584.6" cy="40" r="2.3" fill="#fff" stroke="#333" stroke-width="0.9"/>
<circle cx="592.5" cy="53.3" r="2.3" fill="#fff" stroke="#333" stroke-width="0.9"/>
<circle cx="600.2" cy="55.1" r="2.3" fill="#fff" stroke="#333" stroke-width="0.9"/>
<circle cx="608.2" cy="63.3" r="2.3" fill="#fff" stroke="#333" stroke-width="0.9"/>
<circle cx="616.1" cy="68.7" r="2.3" fill="#fff" stroke="#333" stroke-width="0.9"/>
<circle cx="624" cy="79.9" r="2.3" fill="#fff" stroke="#333" stroke-width="0.9"/>
<circle cx="631.5" cy="90.1" r="2.3" fill="#fff" stroke="#333" stroke-width="0.9"/>
<circle cx="639.4" cy="109.9" r="2.3" fill="#fff" stroke="#333" stroke-width="0.9"/>
<circle cx="647.6" cy="126.5" r="2.3" fill="#fff" stroke="#333" stroke-width="0.9"/>
<circle cx="655.4" cy="131.4" r="2.3" fill="#fff" stroke="#333" stroke-width="0.9"/>
<circle cx="663.3" cy="130.4" r="2.3" fill="#fff" stroke="#333" stroke-width="0.9"/>
<circle cx="671" cy="132.2" r="2.3" fill="#fff" stroke="#333" stroke-width="0.9"/>
<rect x="553.5" y="5.5" width="125.0" height="128.0" fill="none" stroke="#959595" stroke-width="1.1"/>
<line x1="576.88" y1="133.5" x2="576.88" y2="131.0" stroke="#959595" stroke-width="0.8"/>
<line x1="576.88" y1="5.5" x2="576.88" y2="8.0" stroke="#959595" stroke-width="0.8"/>
<line x1="616.18" y1="133.5" x2="616.18" y2="131.0" stroke="#959595" stroke-width="0.8"/>
<line x1="616.18" y1="5.5" x2="616.18" y2="8.0" stroke="#959595" stroke-width="0.8"/>
<line x1="655.48" y1="133.5" x2="655.48" y2="131.0" stroke="#959595" stroke-width="0.8"/>
<line x1="655.48" y1="5.5" x2="655.48" y2="8.0" stroke="#959595" stroke-width="0.8"/>
<line x1="553.5" y1="90.35" x2="556.0" y2="90.35" stroke="#959595" stroke-width="0.8"/>
<line x1="678.5" y1="90.35" x2="676.0" y2="90.35" stroke="#959595" stroke-width="0.8"/>
<line x1="553.5" y1="47.7" x2="556.0" y2="47.7" stroke="#959595" stroke-width="0.8"/>
<line x1="678.5" y1="47.7" x2="676.0" y2="47.7" stroke="#959595" stroke-width="0.8"/>
<text x="548.7" y="137.0" font-size="12" text-anchor="end" fill="#0c0c0c" font-weight="normal" font-style="normal" >0</text>
<text x="548.7" y="94.35" font-size="12" text-anchor="end" fill="#0c0c0c" font-weight="normal" font-style="normal" >5</text>
<text x="548.7" y="51.7" font-size="12" text-anchor="end" fill="#0c0c0c" font-weight="normal" font-style="normal" >10</text>
<text x="548.7" y="9.050000000000011" font-size="12" text-anchor="end" fill="#0c0c0c" font-weight="normal" font-style="normal" >15</text>
<text x="576.88" y="148" font-size="12" text-anchor="middle" fill="#0c0c0c" font-weight="normal" font-style="normal" >5</text>
<text x="616.18" y="148" font-size="12" text-anchor="middle" fill="#0c0c0c" font-weight="normal" font-style="normal" >10</text>
<text x="655.48" y="148" font-size="12" text-anchor="middle" fill="#0c0c0c" font-weight="normal" font-style="normal" >15</text>
<text x="615.6" y="164" font-size="14" text-anchor="middle" fill="#0c0c0c" textLength="34" lengthAdjust="spacing"><tspan font-style="italic">T</tspan> (K)</text>
<text x="529.3" y="70.5" font-size="14" text-anchor="middle" fill="#222" transform="rotate(-90 529.3 70.5)" textLength="127.1" lengthAdjust="spacing">Intensity (arb. units)</text>
<text x="560" y="16.7" font-size="12" text-anchor="start" fill="#111" font-weight="bold" font-style="normal" >d</text>
<text x="676.3" y="18.3" font-size="13" text-anchor="end" fill="#0c0c0c" font-weight="normal" font-style="normal" >ND</text>
<text x="599.5" y="122" font-size="13" text-anchor="middle" fill="#0c0c0c" font-weight="normal" font-style="normal" textLength="48" lengthAdjust="spacingAndGlyphs" >(1, 0, 1.5)</text>
<clipPath id="ce"><rect x="28.5" y="180.0" width="132" height="127.6"/></clipPath>
<line x1="28.3" y1="307.6" x2="159.8" y2="180.10000000000002" stroke="#e0e0e0" stroke-width="6.5" clip-path="url(#ce)"/>
<line x1="144.6" y1="196.8" x2="144.6" y2="205.6" stroke="#999" stroke-width="0.9"/>
<line x1="78.5" y1="260.5" x2="78.5" y2="264.5" stroke="#999" stroke-width="0.9"/>
<rect x="26.5" y="305.09999999999997" width="4.6" height="4.6" fill="#e6e6e6" stroke="#6a6a6a" stroke-width="0.9"/>
<rect x="42.6" y="290.2" width="4.6" height="4.6" fill="#e6e6e6" stroke="#6a6a6a" stroke-width="0.9"/>
<rect x="43.2" y="288.0" width="4.6" height="4.6" fill="#e6e6e6" stroke="#6a6a6a" stroke-width="0.9"/>
<rect x="76.2" y="258.2" width="4.6" height="4.6" fill="#e6e6e6" stroke="#6a6a6a" stroke-width="0.9"/>
<rect x="79.10000000000001" y="253.29999999999998" width="4.6" height="4.6" fill="#e6e6e6" stroke="#6a6a6a" stroke-width="0.9"/>
<rect x="80.9" y="251.7" width="4.6" height="4.6" fill="#e6e6e6" stroke="#6a6a6a" stroke-width="0.9"/>
<rect x="84.9" y="251.29999999999998" width="4.6" height="4.6" fill="#e6e6e6" stroke="#6a6a6a" stroke-width="0.9"/>
<rect x="127.7" y="208.7" width="4.6" height="4.6" fill="#e6e6e6" stroke="#6a6a6a" stroke-width="0.9"/>
<rect x="127.39999999999999" y="203.6" width="4.6" height="4.6" fill="#e6e6e6" stroke="#6a6a6a" stroke-width="0.9"/>
<rect x="129.5" y="200.2" width="4.6" height="4.6" fill="#e6e6e6" stroke="#6a6a6a" stroke-width="0.9"/>
<rect x="135.5" y="202.6" width="4.6" height="4.6" fill="#e6e6e6" stroke="#6a6a6a" stroke-width="0.9"/>
<rect x="142.29999999999998" y="194.5" width="4.6" height="4.6" fill="#e6e6e6" stroke="#6a6a6a" stroke-width="0.9"/>
<rect x="145.7" y="187.7" width="4.6" height="4.6" fill="#e6e6e6" stroke="#6a6a6a" stroke-width="0.9"/>
<rect x="28.5" y="180.0" width="132.0" height="127.60000000000002" fill="none" stroke="#959595" stroke-width="1.1"/>
<line x1="54.6" y1="307.6" x2="54.6" y2="305.1" stroke="#959595" stroke-width="0.8"/>
<line x1="54.6" y1="180.0" x2="54.6" y2="182.5" stroke="#959595" stroke-width="0.8"/>
<line x1="80.9" y1="307.6" x2="80.9" y2="305.1" stroke="#959595" stroke-width="0.8"/>
<line x1="80.9" y1="180.0" x2="80.9" y2="182.5" stroke="#959595" stroke-width="0.8"/>
<line x1="107.2" y1="307.6" x2="107.2" y2="305.1" stroke="#959595" stroke-width="0.8"/>
<line x1="107.2" y1="180.0" x2="107.2" y2="182.5" stroke="#959595" stroke-width="0.8"/>
<line x1="133.5" y1="307.6" x2="133.5" y2="305.1" stroke="#959595" stroke-width="0.8"/>
<line x1="133.5" y1="180.0" x2="133.5" y2="182.5" stroke="#959595" stroke-width="0.8"/>
<line x1="28.5" y1="282.1" x2="31.0" y2="282.1" stroke="#959595" stroke-width="0.8"/>
<line x1="160.5" y1="282.1" x2="158.0" y2="282.1" stroke="#959595" stroke-width="0.8"/>
<line x1="28.5" y1="256.6" x2="31.0" y2="256.6" stroke="#959595" stroke-width="0.8"/>
<line x1="160.5" y1="256.6" x2="158.0" y2="256.6" stroke="#959595" stroke-width="0.8"/>
<line x1="28.5" y1="231.10000000000002" x2="31.0" y2="231.10000000000002" stroke="#959595" stroke-width="0.8"/>
<line x1="160.5" y1="231.10000000000002" x2="158.0" y2="231.10000000000002" stroke="#959595" stroke-width="0.8"/>
<line x1="28.5" y1="205.60000000000002" x2="31.0" y2="205.60000000000002" stroke="#959595" stroke-width="0.8"/>
<line x1="160.5" y1="205.60000000000002" x2="158.0" y2="205.60000000000002" stroke="#959595" stroke-width="0.8"/>
<text x="24.6" y="310.8" font-size="12" text-anchor="end" fill="#0c0c0c" font-weight="normal" font-style="normal" >0</text>
<text x="28.3" y="323.0" font-size="12" text-anchor="middle" fill="#0c0c0c" font-weight="normal" font-style="normal" >0</text>
<text x="24.6" y="285.3" font-size="12" text-anchor="end" fill="#0c0c0c" font-weight="normal" font-style="normal" >1</text>
<text x="54.6" y="323.0" font-size="12" text-anchor="middle" fill="#0c0c0c" font-weight="normal" font-style="normal" >1</text>
<text x="24.6" y="259.8" font-size="12" text-anchor="end" fill="#0c0c0c" font-weight="normal" font-style="normal" >2</text>
<text x="80.9" y="323.0" font-size="12" text-anchor="middle" fill="#0c0c0c" font-weight="normal" font-style="normal" >2</text>
<text x="24.6" y="234.3" font-size="12" text-anchor="end" fill="#0c0c0c" font-weight="normal" font-style="normal" >3</text>
<text x="107.2" y="323.0" font-size="12" text-anchor="middle" fill="#0c0c0c" font-weight="normal" font-style="normal" >3</text>
<text x="24.6" y="208.8" font-size="12" text-anchor="end" fill="#0c0c0c" font-weight="normal" font-style="normal" >4</text>
<text x="133.5" y="323.0" font-size="12" text-anchor="middle" fill="#0c0c0c" font-weight="normal" font-style="normal" >4</text>
<text x="24.6" y="183.3" font-size="12" text-anchor="end" fill="#0c0c0c" font-weight="normal" font-style="normal" >5</text>
<text x="159.8" y="323.0" font-size="12" text-anchor="middle" fill="#0c0c0c" font-weight="normal" font-style="normal" >5</text>
<line x1="113.1" y1="288.5" x2="113.1" y2="298" stroke="#999" stroke-width="0.9"/>
<rect x="110.8" y="290.9" width="4.6" height="4.6" fill="#e6e6e6" stroke="#6a6a6a" stroke-width="0.9"/>
<text x="150.2" y="281.6" font-size="13" text-anchor="end" fill="#0c0c0c" font-weight="normal" font-style="normal" >2 K</text>
<text x="151.6" y="296.6" font-size="13" text-anchor="end" fill="#0c0c0c" font-weight="normal" font-style="normal" >Obs.</text>
<text x="136.5" y="192.6" font-size="13" text-anchor="end" fill="#0c0c0c" font-weight="normal" font-style="normal" >ND</text>
<text x="33" y="191" font-size="12" text-anchor="start" fill="#111" font-weight="bold" font-style="normal" >e</text>
<text x="95" y="339.2" font-size="14" text-anchor="middle" fill="#0c0c0c" textLength="80.5" lengthAdjust="spacing"><tspan font-style="italic">I</tspan><tspan font-size="9" dy="2.5">calc.</tspan><tspan dy="-2.5"> (arb. u.)</tspan></text>
<text x="12" y="244" font-size="14" text-anchor="middle" fill="#0c0c0c" transform="rotate(-90 12 244)" textLength="76" lengthAdjust="spacing"><tspan font-style="italic">I</tspan><tspan font-size="9" dy="2.5">obs.</tspan><tspan dy="-2.5"> (arb. u.)</tspan></text>
<line x1="236.5" y1="180.5" x2="236.5" y2="309.5" stroke="#d0d0d0" stroke-width="0.8"/>
<line x1="268.5" y1="180.5" x2="268.5" y2="309.5" stroke="#d0d0d0" stroke-width="0.8"/>
<line x1="300.5" y1="180.5" x2="300.5" y2="309.5" stroke="#d0d0d0" stroke-width="0.8"/>
<line x1="204.5" y1="244.7" x2="331.5" y2="244.7" stroke="#555" stroke-width="0.8"/>
<line x1="207.80" y1="244.7" x2="207.80" y2="302.6" stroke="#aaaaaa" stroke-width="2.4"/>
<line x1="220.64" y1="244.7" x2="220.64" y2="295.6" stroke="#aaaaaa" stroke-width="2.4"/>
<line x1="233.48" y1="244.7" x2="233.48" y2="193.4" stroke="#aaaaaa" stroke-width="2.4"/>
<circle cx="207.80" cy="302.6" r="1.45" fill="#fff" stroke="#555" stroke-width="0.7"/>
<circle cx="211.01" cy="246.4" r="1.45" fill="#fff" stroke="#555" stroke-width="0.7"/>
<circle cx="214.22" cy="248.5" r="1.45" fill="#fff" stroke="#555" stroke-width="0.7"/>
<circle cx="217.43" cy="242.1" r="1.45" fill="#fff" stroke="#555" stroke-width="0.7"/>
<circle cx="220.64" cy="295.6" r="1.45" fill="#fff" stroke="#555" stroke-width="0.7"/>
<circle cx="223.85" cy="244.3" r="1.45" fill="#fff" stroke="#555" stroke-width="0.7"/>
<circle cx="227.06" cy="246" r="1.45" fill="#fff" stroke="#555" stroke-width="0.7"/>
<circle cx="230.27" cy="243.2" r="1.45" fill="#fff" stroke="#555" stroke-width="0.7"/>
<circle cx="233.48" cy="193.4" r="1.45" fill="#fff" stroke="#555" stroke-width="0.7"/>
<line x1="239.40" y1="244.7" x2="239.40" y2="301.5" stroke="#aaaaaa" stroke-width="2.4"/>
<line x1="252.24" y1="244.7" x2="252.24" y2="275.3" stroke="#aaaaaa" stroke-width="2.4"/>
<line x1="265.08" y1="244.7" x2="265.08" y2="216.9" stroke="#aaaaaa" stroke-width="2.4"/>
<circle cx="239.40" cy="301.5" r="1.45" fill="#fff" stroke="#555" stroke-width="0.7"/>
<circle cx="242.61" cy="247" r="1.45" fill="#fff" stroke="#555" stroke-width="0.7"/>
<circle cx="245.82" cy="246.4" r="1.45" fill="#fff" stroke="#555" stroke-width="0.7"/>
<circle cx="249.03" cy="243.2" r="1.45" fill="#fff" stroke="#555" stroke-width="0.7"/>
<circle cx="252.24" cy="275.3" r="1.45" fill="#fff" stroke="#555" stroke-width="0.7"/>
<circle cx="255.45" cy="247.5" r="1.45" fill="#fff" stroke="#555" stroke-width="0.7"/>
<circle cx="258.66" cy="246" r="1.45" fill="#fff" stroke="#555" stroke-width="0.7"/>
<circle cx="261.87" cy="243.6" r="1.45" fill="#fff" stroke="#555" stroke-width="0.7"/>
<circle cx="265.08" cy="216.9" r="1.45" fill="#fff" stroke="#555" stroke-width="0.7"/>
<line x1="271.40" y1="244.7" x2="271.40" y2="305.2" stroke="#aaaaaa" stroke-width="2.4"/>
<line x1="284.24" y1="244.7" x2="284.24" y2="261.4" stroke="#aaaaaa" stroke-width="2.4"/>
<line x1="297.08" y1="244.7" x2="297.08" y2="232.9" stroke="#aaaaaa" stroke-width="2.4"/>
<circle cx="271.40" cy="305.2" r="1.45" fill="#fff" stroke="#555" stroke-width="0.7"/>
<circle cx="274.61" cy="243.6" r="1.45" fill="#fff" stroke="#555" stroke-width="0.7"/>
<circle cx="277.82" cy="247" r="1.45" fill="#fff" stroke="#555" stroke-width="0.7"/>
<circle cx="281.03" cy="244.7" r="1.45" fill="#fff" stroke="#555" stroke-width="0.7"/>
<circle cx="284.24" cy="261.4" r="1.45" fill="#fff" stroke="#555" stroke-width="0.7"/>
<circle cx="287.45" cy="241.7" r="1.45" fill="#fff" stroke="#555" stroke-width="0.7"/>
<circle cx="290.66" cy="242.8" r="1.45" fill="#fff" stroke="#555" stroke-width="0.7"/>
<circle cx="293.87" cy="242.6" r="1.45" fill="#fff" stroke="#555" stroke-width="0.7"/>
<circle cx="297.08" cy="232.9" r="1.45" fill="#fff" stroke="#555" stroke-width="0.7"/>
<line x1="303.20" y1="244.7" x2="303.20" y2="302" stroke="#aaaaaa" stroke-width="2.4"/>
<line x1="316.04" y1="244.7" x2="316.04" y2="296" stroke="#aaaaaa" stroke-width="2.4"/>
<line x1="328.88" y1="244.7" x2="328.88" y2="194.4" stroke="#aaaaaa" stroke-width="2.4"/>
<circle cx="303.20" cy="302" r="1.45" fill="#fff" stroke="#555" stroke-width="0.7"/>
<circle cx="306.41" cy="246.8" r="1.45" fill="#fff" stroke="#555" stroke-width="0.7"/>
<circle cx="309.62" cy="246.4" r="1.45" fill="#fff" stroke="#555" stroke-width="0.7"/>
<circle cx="312.83" cy="243.6" r="1.45" fill="#fff" stroke="#555" stroke-width="0.7"/>
<circle cx="316.04" cy="296" r="1.45" fill="#fff" stroke="#555" stroke-width="0.7"/>
<circle cx="319.25" cy="243.2" r="1.45" fill="#fff" stroke="#555" stroke-width="0.7"/>
<circle cx="322.46" cy="246.4" r="1.45" fill="#fff" stroke="#555" stroke-width="0.7"/>
<circle cx="325.67" cy="241.1" r="1.45" fill="#fff" stroke="#555" stroke-width="0.7"/>
<circle cx="328.88" cy="194.4" r="1.45" fill="#fff" stroke="#555" stroke-width="0.7"/>
<line x1="296.8" y1="229" x2="296.8" y2="232" stroke="#333" stroke-width="0.8"/>
<rect x="204.5" y="180.5" width="127.0" height="129.0" fill="none" stroke="#959595" stroke-width="1.1"/>
<text x="199.6" y="183.6" font-size="12" text-anchor="end" fill="#0c0c0c" font-weight="normal" font-style="normal" >1</text>
<text x="199.6" y="248.3" font-size="12" text-anchor="end" fill="#0c0c0c" font-weight="normal" font-style="normal" >0</text>
<text x="199.6" y="313.2" font-size="12" text-anchor="end" fill="#0c0c0c" font-weight="normal" font-style="normal" >1</text>
<text x="193.5" y="313.2" font-size="12" text-anchor="end" fill="#0c0c0c" font-weight="normal" font-style="normal" >-</text>
<text x="196.8" y="212.05" font-size="8" text-anchor="middle" fill="#0c0c0c">1</text>
<line x1="194.6" y1="213.25" x2="199" y2="213.25" stroke="#0c0c0c" stroke-width="0.6"/>
<text x="196.8" y="220.25" font-size="8" text-anchor="middle" fill="#0c0c0c">2</text>
<text x="196.8" y="278.3" font-size="8" text-anchor="middle" fill="#0c0c0c">1</text>
<line x1="194.6" y1="279.5" x2="199" y2="279.5" stroke="#0c0c0c" stroke-width="0.6"/>
<text x="196.8" y="286.5" font-size="8" text-anchor="middle" fill="#0c0c0c">2</text>
<line x1="189" y1="279.5" x2="191.4" y2="279.5" stroke="#0c0c0c" stroke-width="0.7"/>
<text x="210.9" y="326" font-size="11.8" fill="#0c0c0c" textLength="11.4" lengthAdjust="spacingAndGlyphs">10</text>
<text x="227.7" y="320.3" font-size="8" text-anchor="middle" fill="#0c0c0c">1</text>
<line x1="225.5" y1="321.9" x2="229.9" y2="321.9" stroke="#0c0c0c" stroke-width="0.5"/>
<text x="227.7" y="329.4" font-size="8" text-anchor="middle" fill="#0c0c0c">2</text>
<text x="242.6" y="326" font-size="11.8" fill="#0c0c0c" textLength="11.4" lengthAdjust="spacingAndGlyphs">10</text>
<text x="259.4" y="320.3" font-size="8" text-anchor="middle" fill="#0c0c0c">3</text>
<line x1="257.2" y1="321.9" x2="261.59999999999997" y2="321.9" stroke="#0c0c0c" stroke-width="0.5"/>
<text x="259.4" y="329.4" font-size="8" text-anchor="middle" fill="#0c0c0c">2</text>
<text x="274.4" y="326" font-size="11.8" fill="#0c0c0c" textLength="11.4" lengthAdjust="spacingAndGlyphs">10</text>
<text x="291.2" y="320.3" font-size="8" text-anchor="middle" fill="#0c0c0c">5</text>
<line x1="289.0" y1="321.9" x2="293.4" y2="321.9" stroke="#0c0c0c" stroke-width="0.5"/>
<text x="291.2" y="329.4" font-size="8" text-anchor="middle" fill="#0c0c0c">2</text>
<line x1="289.5" y1="314.2" x2="292.9" y2="314.2" stroke="#0c0c0c" stroke-width="0.6"/>
<text x="306.09999999999997" y="326" font-size="11.8" fill="#0c0c0c" textLength="11.4" lengthAdjust="spacingAndGlyphs">10</text>
<text x="322.9" y="320.3" font-size="8" text-anchor="middle" fill="#0c0c0c">1</text>
<line x1="320.7" y1="321.9" x2="325.09999999999997" y2="321.9" stroke="#0c0c0c" stroke-width="0.5"/>
<text x="322.9" y="329.4" font-size="8" text-anchor="middle" fill="#0c0c0c">2</text>
<line x1="321.2" y1="314.2" x2="324.59999999999997" y2="314.2" stroke="#0c0c0c" stroke-width="0.6"/>
<text x="210" y="191.2" font-size="12" text-anchor="start" fill="#111" font-weight="bold" font-style="normal" >f</text>
<text x="330.5" y="192.3" font-size="13" text-anchor="end" fill="#0c0c0c" font-weight="normal" font-style="normal" >SNP</text>
<text x="242" y="194.4" font-size="13.5" fill="#0c0c0c" font-style="italic">P</text>
<text x="251" y="188" font-size="9.5" fill="#0c0c0c" textLength="17" lengthAdjust="spacing">obs.</text>
<text x="251" y="198" font-size="8.5" fill="#0c0c0c" font-style="italic">ij</text>
<path d="M247.5,197.5 Q250,212 262,216" stroke="#444" stroke-width="0.7" fill="none"/>
<path d="M263.5,216.5 L259.5,213.6 L260.3,218.2 Z" fill="#444"/>
<text x="278.8" y="209.4" font-size="13.5" fill="#0c0c0c" font-style="italic">P</text>
<text x="288.8" y="204.5" font-size="9.5" fill="#0c0c0c" textLength="21" lengthAdjust="spacing">helix</text>
<text x="288.5" y="213" font-size="8.5" fill="#0c0c0c" font-style="italic">ij</text>
<path d="M287.8,215 Q285,226 268.5,227.5" stroke="#444" stroke-width="0.7" fill="none"/>
<path d="M267,227.7 L271.5,225.2 L271.3,229.8 Z" fill="#444"/>
<text x="188" y="245" font-size="14" text-anchor="middle" fill="#0c0c0c" transform="rotate(-90 188 245)"><tspan font-style="italic" font-size="15">P</tspan><tspan font-size="10" font-style="italic" dy="2.5">ij</tspan></text>
<rect x="376.5" y="247.5" width="133" height="66" fill="#efeefb"/>
<defs><filter id="blg" x="0" y="0" width="1" height="1"><feGaussianBlur stdDeviation="0.55"/></filter></defs>
<clipPath id="cg"><rect x="376.5" y="182.5" width="133" height="131"/></clipPath>
<g clip-path="url(#cg)"><g filter="url(#blg)">
<rect x="382.1" y="183.0" width="2.30" height="2.30" fill="#ebe8fa"/>
<rect x="383.8" y="183.0" width="2.30" height="2.30" fill="#f6f5fd"/>
<rect x="405.9" y="183.0" width="2.30" height="2.30" fill="#f8f8fd"/>
<rect x="409.3" y="183.0" width="2.30" height="2.30" fill="#faf9fe"/>
<rect x="422.9" y="183.0" width="2.30" height="2.30" fill="#f8f8fd"/>
<rect x="429.7" y="183.0" width="2.30" height="2.30" fill="#f9f8fd"/>
<rect x="431.4" y="183.0" width="2.30" height="2.30" fill="#f5f4fc"/>
<rect x="433.1" y="183.0" width="2.30" height="2.30" fill="#f6f5fd"/>
<rect x="446.7" y="183.0" width="2.30" height="2.30" fill="#ebe9fa"/>
<rect x="450.1" y="183.0" width="2.30" height="2.30" fill="#f7f6fd"/>
<rect x="387.2" y="184.7" width="2.30" height="2.30" fill="#f3f2fc"/>
<rect x="394.0" y="184.7" width="2.30" height="2.30" fill="#f0eefb"/>
<rect x="400.8" y="184.7" width="2.30" height="2.30" fill="#eeecfa"/>
<rect x="409.3" y="184.7" width="2.30" height="2.30" fill="#f3f2fc"/>
<rect x="412.7" y="184.7" width="2.30" height="2.30" fill="#f3f2fc"/>
<rect x="417.8" y="184.7" width="2.30" height="2.30" fill="#efedfb"/>
<rect x="441.6" y="184.7" width="2.30" height="2.30" fill="#f5f4fc"/>
<rect x="443.3" y="184.7" width="2.30" height="2.30" fill="#f3f2fc"/>
<rect x="446.7" y="184.7" width="2.30" height="2.30" fill="#f6f5fd"/>
<rect x="450.1" y="184.7" width="2.30" height="2.30" fill="#eceafa"/>
<rect x="380.4" y="186.4" width="2.30" height="2.30" fill="#f6f5fd"/>
<rect x="388.9" y="186.4" width="2.30" height="2.30" fill="#ece9fa"/>
<rect x="395.7" y="186.4" width="2.30" height="2.30" fill="#efedfb"/>
<rect x="397.4" y="186.4" width="2.30" height="2.30" fill="#f0eefb"/>
<rect x="404.2" y="186.4" width="2.30" height="2.30" fill="#eeecfa"/>
<rect x="411.0" y="186.4" width="2.30" height="2.30" fill="#f3f1fc"/>
<rect x="417.8" y="186.4" width="2.30" height="2.30" fill="#f1f0fb"/>
<rect x="426.3" y="186.4" width="2.30" height="2.30" fill="#eeecfa"/>
<rect x="431.4" y="186.4" width="2.30" height="2.30" fill="#eae7f9"/>
<rect x="445.0" y="186.4" width="2.30" height="2.30" fill="#faf9fe"/>
<rect x="402.5" y="188.1" width="2.30" height="2.30" fill="#f3f2fc"/>
<rect x="405.9" y="188.1" width="2.30" height="2.30" fill="#eceafa"/>
<rect x="409.3" y="188.1" width="2.30" height="2.30" fill="#ebe9fa"/>
<rect x="416.1" y="188.1" width="2.30" height="2.30" fill="#edebfa"/>
<rect x="417.8" y="188.1" width="2.30" height="2.30" fill="#f0eefb"/>
<rect x="421.2" y="188.1" width="2.30" height="2.30" fill="#edebfa"/>
<rect x="426.3" y="188.1" width="2.30" height="2.30" fill="#f0effb"/>
<rect x="431.4" y="188.1" width="2.30" height="2.30" fill="#f7f6fd"/>
<rect x="438.2" y="188.1" width="2.30" height="2.30" fill="#e8e5f9"/>
<rect x="439.9" y="188.1" width="2.30" height="2.30" fill="#efeefb"/>
<rect x="441.6" y="188.1" width="2.30" height="2.30" fill="#f0eefb"/>
<rect x="445.0" y="188.1" width="2.30" height="2.30" fill="#e8e5f9"/>
<rect x="448.4" y="188.1" width="2.30" height="2.30" fill="#edebfa"/>
<rect x="377.0" y="189.8" width="2.30" height="2.30" fill="#eae7f9"/>
<rect x="383.8" y="189.8" width="2.30" height="2.30" fill="#f6f5fd"/>
<rect x="387.2" y="189.8" width="2.30" height="2.30" fill="#ebe9fa"/>
<rect x="390.6" y="189.8" width="2.30" height="2.30" fill="#ece9fa"/>
<rect x="392.3" y="189.8" width="2.30" height="2.30" fill="#f2f0fb"/>
<rect x="399.1" y="189.8" width="2.30" height="2.30" fill="#f2f1fc"/>
<rect x="400.8" y="189.8" width="2.30" height="2.30" fill="#f7f6fd"/>
<rect x="407.6" y="189.8" width="2.30" height="2.30" fill="#eeecfa"/>
<rect x="412.7" y="189.8" width="2.30" height="2.30" fill="#fafafe"/>
<rect x="417.8" y="189.8" width="2.30" height="2.30" fill="#f0effb"/>
<rect x="419.5" y="189.8" width="2.30" height="2.30" fill="#edebfa"/>
<rect x="421.2" y="189.8" width="2.30" height="2.30" fill="#f9f8fd"/>
<rect x="424.6" y="189.8" width="2.30" height="2.30" fill="#f7f6fd"/>
<rect x="429.7" y="189.8" width="2.30" height="2.30" fill="#edecfa"/>
<rect x="441.6" y="189.8" width="2.30" height="2.30" fill="#eceafa"/>
<rect x="443.3" y="189.8" width="2.30" height="2.30" fill="#f4f3fc"/>
<rect x="445.0" y="189.8" width="2.30" height="2.30" fill="#f1f0fb"/>
<rect x="378.7" y="191.5" width="2.30" height="2.30" fill="#f3f1fc"/>
<rect x="380.4" y="191.5" width="2.30" height="2.30" fill="#f8f7fd"/>
<rect x="387.2" y="191.5" width="2.30" height="2.30" fill="#efedfb"/>
<rect x="399.1" y="191.5" width="2.30" height="2.30" fill="#f0eefb"/>
<rect x="404.2" y="191.5" width="2.30" height="2.30" fill="#f8f7fd"/>
<rect x="409.3" y="191.5" width="2.30" height="2.30" fill="#f1effb"/>
<rect x="419.5" y="191.5" width="2.30" height="2.30" fill="#f6f5fd"/>
<rect x="422.9" y="191.5" width="2.30" height="2.30" fill="#f4f3fc"/>
<rect x="424.6" y="191.5" width="2.30" height="2.30" fill="#f1effb"/>
<rect x="429.7" y="191.5" width="2.30" height="2.30" fill="#f9f8fd"/>
<rect x="436.5" y="191.5" width="2.30" height="2.30" fill="#e9e6f9"/>
<rect x="438.2" y="191.5" width="2.30" height="2.30" fill="#f4f3fc"/>
<rect x="450.1" y="191.5" width="2.30" height="2.30" fill="#ebe9fa"/>
<rect x="377.0" y="193.2" width="2.30" height="2.30" fill="#f5f4fc"/>
<rect x="380.4" y="193.2" width="2.30" height="2.30" fill="#eae8fa"/>
<rect x="385.5" y="193.2" width="2.30" height="2.30" fill="#f5f4fc"/>
<rect x="388.9" y="193.2" width="2.30" height="2.30" fill="#efeefb"/>
<rect x="397.4" y="193.2" width="2.30" height="2.30" fill="#f5f4fc"/>
<rect x="400.8" y="193.2" width="2.30" height="2.30" fill="#f2f0fb"/>
<rect x="402.5" y="193.2" width="2.30" height="2.30" fill="#efedfb"/>
<rect x="407.6" y="193.2" width="2.30" height="2.30" fill="#edebfa"/>
<rect x="409.3" y="193.2" width="2.30" height="2.30" fill="#f7f6fd"/>
<rect x="414.4" y="193.2" width="2.30" height="2.30" fill="#edebfa"/>
<rect x="417.8" y="193.2" width="2.30" height="2.30" fill="#f6f5fd"/>
<rect x="429.7" y="193.2" width="2.30" height="2.30" fill="#eae7f9"/>
<rect x="438.2" y="193.2" width="2.30" height="2.30" fill="#f3f2fc"/>
<rect x="439.9" y="193.2" width="2.30" height="2.30" fill="#f5f4fc"/>
<rect x="443.3" y="193.2" width="2.30" height="2.30" fill="#f7f6fd"/>
<rect x="445.0" y="193.2" width="2.30" height="2.30" fill="#e9e6f9"/>
<rect x="378.7" y="194.9" width="2.30" height="2.30" fill="#f5f4fc"/>
<rect x="385.5" y="194.9" width="2.30" height="2.30" fill="#ebe9fa"/>
<rect x="388.9" y="194.9" width="2.30" height="2.30" fill="#eae7fa"/>
<rect x="392.3" y="194.9" width="2.30" height="2.30" fill="#f7f7fd"/>
<rect x="395.7" y="194.9" width="2.30" height="2.30" fill="#f5f4fc"/>
<rect x="397.4" y="194.9" width="2.30" height="2.30" fill="#ece9fa"/>
<rect x="409.3" y="194.9" width="2.30" height="2.30" fill="#f6f5fd"/>
<rect x="414.4" y="194.9" width="2.30" height="2.30" fill="#eeecfb"/>
<rect x="426.3" y="194.9" width="2.30" height="2.30" fill="#eeecfb"/>
<rect x="429.7" y="194.9" width="2.30" height="2.30" fill="#edebfa"/>
<rect x="433.1" y="194.9" width="2.30" height="2.30" fill="#f1effb"/>
<rect x="436.5" y="194.9" width="2.30" height="2.30" fill="#f9f9fd"/>
<rect x="443.3" y="194.9" width="2.30" height="2.30" fill="#f6f5fd"/>
<rect x="385.5" y="196.6" width="2.30" height="2.30" fill="#eeedfb"/>
<rect x="388.9" y="196.6" width="2.30" height="2.30" fill="#faf9fe"/>
<rect x="390.6" y="196.6" width="2.30" height="2.30" fill="#eeecfa"/>
<rect x="407.6" y="196.6" width="2.30" height="2.30" fill="#f9f8fd"/>
<rect x="416.1" y="196.6" width="2.30" height="2.30" fill="#eeedfb"/>
<rect x="424.6" y="196.6" width="2.30" height="2.30" fill="#f7f6fd"/>
<rect x="434.8" y="196.6" width="2.30" height="2.30" fill="#eae8fa"/>
<rect x="436.5" y="196.6" width="2.30" height="2.30" fill="#ebe9fa"/>
<rect x="438.2" y="196.6" width="2.30" height="2.30" fill="#f1f0fb"/>
<rect x="441.6" y="196.6" width="2.30" height="2.30" fill="#f0effb"/>
<rect x="445.0" y="196.6" width="2.30" height="2.30" fill="#f3f2fc"/>
<rect x="378.7" y="198.3" width="2.30" height="2.30" fill="#fcfcfe"/>
<rect x="380.4" y="198.3" width="2.30" height="2.30" fill="#eceafa"/>
<rect x="382.1" y="198.3" width="2.30" height="2.30" fill="#fdfcfe"/>
<rect x="383.8" y="198.3" width="2.30" height="2.30" fill="#ebe9fa"/>
<rect x="387.2" y="198.3" width="2.30" height="2.30" fill="#f5f3fc"/>
<rect x="390.6" y="198.3" width="2.30" height="2.30" fill="#f7f6fd"/>
<rect x="394.0" y="198.3" width="2.30" height="2.30" fill="#fdfcfe"/>
<rect x="395.7" y="198.3" width="2.30" height="2.30" fill="#f0effb"/>
<rect x="397.4" y="198.3" width="2.30" height="2.30" fill="#f2f1fc"/>
<rect x="399.1" y="198.3" width="2.30" height="2.30" fill="#f8f7fd"/>
<rect x="400.8" y="198.3" width="2.30" height="2.30" fill="#f5f4fc"/>
<rect x="402.5" y="198.3" width="2.30" height="2.30" fill="#f0effb"/>
<rect x="404.2" y="198.3" width="2.30" height="2.30" fill="#fdfcfe"/>
<rect x="405.9" y="198.3" width="2.30" height="2.30" fill="#f0effb"/>
<rect x="407.6" y="198.3" width="2.30" height="2.30" fill="#fcfcfe"/>
<rect x="409.3" y="198.3" width="2.30" height="2.30" fill="#fcfcfe"/>
<rect x="411.0" y="198.3" width="2.30" height="2.30" fill="#fdfcfe"/>
<rect x="414.4" y="198.3" width="2.30" height="2.30" fill="#fcfcfe"/>
<rect x="416.1" y="198.3" width="2.30" height="2.30" fill="#fdfcfe"/>
<rect x="417.8" y="198.3" width="2.30" height="2.30" fill="#fcfcfe"/>
<rect x="419.5" y="198.3" width="2.30" height="2.30" fill="#fdfcfe"/>
<rect x="422.9" y="198.3" width="2.30" height="2.30" fill="#f4f3fc"/>
<rect x="426.3" y="198.3" width="2.30" height="2.30" fill="#f2f1fc"/>
<rect x="428.0" y="198.3" width="2.30" height="2.30" fill="#f4f3fc"/>
<rect x="433.1" y="198.3" width="2.30" height="2.30" fill="#f4f2fc"/>
<rect x="434.8" y="198.3" width="2.30" height="2.30" fill="#f1effb"/>
<rect x="438.2" y="198.3" width="2.30" height="2.30" fill="#e2def8"/>
<rect x="439.9" y="198.3" width="2.30" height="2.30" fill="#ebe9fa"/>
<rect x="441.6" y="198.3" width="2.30" height="2.30" fill="#e6e3f9"/>
<rect x="446.7" y="198.3" width="2.30" height="2.30" fill="#f7f6fd"/>
<rect x="448.4" y="198.3" width="2.30" height="2.30" fill="#f3f1fc"/>
<rect x="450.1" y="198.3" width="2.30" height="2.30" fill="#e4e0f8"/>
<rect x="377.0" y="200.0" width="2.30" height="2.30" fill="#e9e7f9"/>
<rect x="378.7" y="200.0" width="2.30" height="2.30" fill="#e3dff8"/>
<rect x="380.4" y="200.0" width="2.30" height="2.30" fill="#edebfa"/>
<rect x="382.1" y="200.0" width="2.30" height="2.30" fill="#e6e3f9"/>
<rect x="383.8" y="200.0" width="2.30" height="2.30" fill="#e9e7f9"/>
<rect x="385.5" y="200.0" width="2.30" height="2.30" fill="#e3dff8"/>
<rect x="387.2" y="200.0" width="2.30" height="2.30" fill="#eeedfb"/>
<rect x="388.9" y="200.0" width="2.30" height="2.30" fill="#dfdaf7"/>
<rect x="390.6" y="200.0" width="2.30" height="2.30" fill="#eae7f9"/>
<rect x="392.3" y="200.0" width="2.30" height="2.30" fill="#eae8fa"/>
<rect x="394.0" y="200.0" width="2.30" height="2.30" fill="#e3dff8"/>
<rect x="395.7" y="200.0" width="2.30" height="2.30" fill="#e9e6f9"/>
<rect x="397.4" y="200.0" width="2.30" height="2.30" fill="#e6e3f9"/>
<rect x="399.1" y="200.0" width="2.30" height="2.30" fill="#e0dbf7"/>
<rect x="400.8" y="200.0" width="2.30" height="2.30" fill="#ebe9fa"/>
<rect x="402.5" y="200.0" width="2.30" height="2.30" fill="#ece9fa"/>
<rect x="404.2" y="200.0" width="2.30" height="2.30" fill="#e5e1f8"/>
<rect x="405.9" y="200.0" width="2.30" height="2.30" fill="#eceafa"/>
<rect x="407.6" y="200.0" width="2.30" height="2.30" fill="#e1dcf8"/>
<rect x="409.3" y="200.0" width="2.30" height="2.30" fill="#e3dff8"/>
<rect x="411.0" y="200.0" width="2.30" height="2.30" fill="#eae7fa"/>
<rect x="412.7" y="200.0" width="2.30" height="2.30" fill="#edebfa"/>
<rect x="414.4" y="200.0" width="2.30" height="2.30" fill="#e8e5f9"/>
<rect x="416.1" y="200.0" width="2.30" height="2.30" fill="#eceafa"/>
<rect x="417.8" y="200.0" width="2.30" height="2.30" fill="#e2def8"/>
<rect x="419.5" y="200.0" width="2.30" height="2.30" fill="#e1dcf8"/>
<rect x="421.2" y="200.0" width="2.30" height="2.30" fill="#f0effb"/>
<rect x="422.9" y="200.0" width="2.30" height="2.30" fill="#f8f7fd"/>
<rect x="426.3" y="200.0" width="2.30" height="2.30" fill="#f5f4fc"/>
<rect x="431.4" y="200.0" width="2.30" height="2.30" fill="#e5e2f9"/>
<rect x="433.1" y="200.0" width="2.30" height="2.30" fill="#f2f1fc"/>
<rect x="434.8" y="200.0" width="2.30" height="2.30" fill="#e0dcf7"/>
<rect x="445.0" y="200.0" width="2.30" height="2.30" fill="#edebfa"/>
<rect x="446.7" y="200.0" width="2.30" height="2.30" fill="#f3f1fc"/>
<rect x="450.1" y="200.0" width="2.30" height="2.30" fill="#f2f0fb"/>
<rect x="377.0" y="201.7" width="2.30" height="2.30" fill="#c7bdf2"/>
<rect x="378.7" y="201.7" width="2.30" height="2.30" fill="#aea3e9"/>
<rect x="380.4" y="201.7" width="2.30" height="2.30" fill="#968ae1"/>
<rect x="382.1" y="201.7" width="2.30" height="2.30" fill="#9589e1"/>
<rect x="383.8" y="201.7" width="2.30" height="2.30" fill="#9589e1"/>
<rect x="385.5" y="201.7" width="2.30" height="2.30" fill="#cfc7f4"/>
<rect x="387.2" y="201.7" width="2.30" height="2.30" fill="#958ae1"/>
<rect x="388.9" y="201.7" width="2.30" height="2.30" fill="#c5bbf1"/>
<rect x="390.6" y="201.7" width="2.30" height="2.30" fill="#978be2"/>
<rect x="392.3" y="201.7" width="2.30" height="2.30" fill="#cdc4f3"/>
<rect x="394.0" y="201.7" width="2.30" height="2.30" fill="#a094e5"/>
<rect x="395.7" y="201.7" width="2.30" height="2.30" fill="#978be2"/>
<rect x="397.4" y="201.7" width="2.30" height="2.30" fill="#a196e5"/>
<rect x="399.1" y="201.7" width="2.30" height="2.30" fill="#c6bcf1"/>
<rect x="400.8" y="201.7" width="2.30" height="2.30" fill="#baafed"/>
<rect x="402.5" y="201.7" width="2.30" height="2.30" fill="#aa9fe8"/>
<rect x="404.2" y="201.7" width="2.30" height="2.30" fill="#9e92e4"/>
<rect x="405.9" y="201.7" width="2.30" height="2.30" fill="#c6bbf1"/>
<rect x="407.6" y="201.7" width="2.30" height="2.30" fill="#a599e6"/>
<rect x="409.3" y="201.7" width="2.30" height="2.30" fill="#b6acec"/>
<rect x="411.0" y="201.7" width="2.30" height="2.30" fill="#bbb0ee"/>
<rect x="412.7" y="201.7" width="2.30" height="2.30" fill="#bbb1ee"/>
<rect x="414.4" y="201.7" width="2.30" height="2.30" fill="#b8aded"/>
<rect x="416.1" y="201.7" width="2.30" height="2.30" fill="#bcb2ee"/>
<rect x="417.8" y="201.7" width="2.30" height="2.30" fill="#8c80de"/>
<rect x="419.5" y="201.7" width="2.30" height="2.30" fill="#9e93e4"/>
<rect x="421.2" y="201.7" width="2.30" height="2.30" fill="#cac1f3"/>
<rect x="422.9" y="201.7" width="2.30" height="2.30" fill="#e8e5f9"/>
<rect x="426.3" y="201.7" width="2.30" height="2.30" fill="#eeecfa"/>
<rect x="441.6" y="201.7" width="2.30" height="2.30" fill="#f5f4fc"/>
<rect x="443.3" y="201.7" width="2.30" height="2.30" fill="#e6e3f9"/>
<rect x="445.0" y="201.7" width="2.30" height="2.30" fill="#e8e5f9"/>
<rect x="446.7" y="201.7" width="2.30" height="2.30" fill="#eeedfb"/>
<rect x="377.0" y="203.4" width="2.30" height="2.30" fill="#3561b1"/>
<rect x="378.7" y="203.4" width="2.30" height="2.30" fill="#3f67ba"/>
<rect x="380.4" y="203.4" width="2.30" height="2.30" fill="#3d66b8"/>
<rect x="382.1" y="203.4" width="2.30" height="2.30" fill="#3c65b8"/>
<rect x="383.8" y="203.4" width="2.30" height="2.30" fill="#6f77d2"/>
<rect x="385.5" y="203.4" width="2.30" height="2.30" fill="#6b76d1"/>
<rect x="387.2" y="203.4" width="2.30" height="2.30" fill="#2c5ba6"/>
<rect x="388.9" y="203.4" width="2.30" height="2.30" fill="#857edb"/>
<rect x="390.6" y="203.4" width="2.30" height="2.30" fill="#6073cc"/>
<rect x="392.3" y="203.4" width="2.30" height="2.30" fill="#4168bc"/>
<rect x="394.0" y="203.4" width="2.30" height="2.30" fill="#8d82de"/>
<rect x="395.7" y="203.4" width="2.30" height="2.30" fill="#5a71ca"/>
<rect x="397.4" y="203.4" width="2.30" height="2.30" fill="#325fae"/>
<rect x="399.1" y="203.4" width="2.30" height="2.30" fill="#2a519a"/>
<rect x="400.8" y="203.4" width="2.30" height="2.30" fill="#6f78d3"/>
<rect x="402.5" y="203.4" width="2.30" height="2.30" fill="#506ec6"/>
<rect x="404.2" y="203.4" width="2.30" height="2.30" fill="#526fc7"/>
<rect x="405.9" y="203.4" width="2.30" height="2.30" fill="#496cc3"/>
<rect x="407.6" y="203.4" width="2.30" height="2.30" fill="#7278d4"/>
<rect x="409.3" y="203.4" width="2.30" height="2.30" fill="#797ad7"/>
<rect x="411.0" y="203.4" width="2.30" height="2.30" fill="#446abf"/>
<rect x="412.7" y="203.4" width="2.30" height="2.30" fill="#2b57a2"/>
<rect x="414.4" y="203.4" width="2.30" height="2.30" fill="#6976d0"/>
<rect x="416.1" y="203.4" width="2.30" height="2.30" fill="#3963b4"/>
<rect x="417.8" y="203.4" width="2.30" height="2.30" fill="#6e77d2"/>
<rect x="419.5" y="203.4" width="2.30" height="2.30" fill="#8d81de"/>
<rect x="421.2" y="203.4" width="2.30" height="2.30" fill="#6073cd"/>
<rect x="422.9" y="203.4" width="2.30" height="2.30" fill="#d2caf4"/>
<rect x="424.6" y="203.4" width="2.30" height="2.30" fill="#fdfcfe"/>
<rect x="426.3" y="203.4" width="2.30" height="2.30" fill="#e9e6f9"/>
<rect x="428.0" y="203.4" width="2.30" height="2.30" fill="#f0effb"/>
<rect x="431.4" y="203.4" width="2.30" height="2.30" fill="#e3dff8"/>
<rect x="434.8" y="203.4" width="2.30" height="2.30" fill="#f4f3fc"/>
<rect x="438.2" y="203.4" width="2.30" height="2.30" fill="#f3f2fc"/>
<rect x="439.9" y="203.4" width="2.30" height="2.30" fill="#edebfa"/>
<rect x="441.6" y="203.4" width="2.30" height="2.30" fill="#edebfa"/>
<rect x="445.0" y="203.4" width="2.30" height="2.30" fill="#f4f3fc"/>
<rect x="446.7" y="203.4" width="2.30" height="2.30" fill="#eceafa"/>
<rect x="377.0" y="205.1" width="2.30" height="2.30" fill="#202158"/>
<rect x="378.7" y="205.1" width="2.30" height="2.30" fill="#201f55"/>
<rect x="380.4" y="205.1" width="2.30" height="2.30" fill="#253d80"/>
<rect x="382.1" y="205.1" width="2.30" height="2.30" fill="#243a7d"/>
<rect x="383.8" y="205.1" width="2.30" height="2.30" fill="#201d50"/>
<rect x="385.5" y="205.1" width="2.30" height="2.30" fill="#21245d"/>
<rect x="387.2" y="205.1" width="2.30" height="2.30" fill="#202158"/>
<rect x="388.9" y="205.1" width="2.30" height="2.30" fill="#21255f"/>
<rect x="390.6" y="205.1" width="2.30" height="2.30" fill="#202056"/>
<rect x="392.3" y="205.1" width="2.30" height="2.30" fill="#264489"/>
<rect x="394.0" y="205.1" width="2.30" height="2.30" fill="#201f55"/>
<rect x="395.7" y="205.1" width="2.30" height="2.30" fill="#212964"/>
<rect x="397.4" y="205.1" width="2.30" height="2.30" fill="#202158"/>
<rect x="399.1" y="205.1" width="2.30" height="2.30" fill="#222d6b"/>
<rect x="400.8" y="205.1" width="2.30" height="2.30" fill="#264287"/>
<rect x="402.5" y="205.1" width="2.30" height="2.30" fill="#22306f"/>
<rect x="404.2" y="205.1" width="2.30" height="2.30" fill="#222e6d"/>
<rect x="405.9" y="205.1" width="2.30" height="2.30" fill="#253c7f"/>
<rect x="407.6" y="205.1" width="2.30" height="2.30" fill="#201f54"/>
<rect x="409.3" y="205.1" width="2.30" height="2.30" fill="#243779"/>
<rect x="411.0" y="205.1" width="2.30" height="2.30" fill="#24387b"/>
<rect x="412.7" y="205.1" width="2.30" height="2.30" fill="#222f6e"/>
<rect x="414.4" y="205.1" width="2.30" height="2.30" fill="#202057"/>
<rect x="416.1" y="205.1" width="2.30" height="2.30" fill="#21255f"/>
<rect x="417.8" y="205.1" width="2.30" height="2.30" fill="#202056"/>
<rect x="419.5" y="205.1" width="2.30" height="2.30" fill="#24387b"/>
<rect x="421.2" y="205.1" width="2.30" height="2.30" fill="#5d72cc"/>
<rect x="422.9" y="205.1" width="2.30" height="2.30" fill="#a59ae6"/>
<rect x="424.6" y="205.1" width="2.30" height="2.30" fill="#faf9fe"/>
<rect x="426.3" y="205.1" width="2.30" height="2.30" fill="#f4f3fc"/>
<rect x="428.0" y="205.1" width="2.30" height="2.30" fill="#e1ddf8"/>
<rect x="431.4" y="205.1" width="2.30" height="2.30" fill="#f5f4fc"/>
<rect x="434.8" y="205.1" width="2.30" height="2.30" fill="#e2def8"/>
<rect x="443.3" y="205.1" width="2.30" height="2.30" fill="#eceafa"/>
<rect x="446.7" y="205.1" width="2.30" height="2.30" fill="#e1dcf7"/>
<rect x="377.0" y="206.8" width="2.30" height="2.30" fill="#1f1a4c"/>
<rect x="378.7" y="206.8" width="2.30" height="2.30" fill="#202259"/>
<rect x="380.4" y="206.8" width="2.30" height="2.30" fill="#1f1a4c"/>
<rect x="382.1" y="206.8" width="2.30" height="2.30" fill="#212a66"/>
<rect x="383.8" y="206.8" width="2.30" height="2.30" fill="#20235b"/>
<rect x="385.5" y="206.8" width="2.30" height="2.30" fill="#201f54"/>
<rect x="387.2" y="206.8" width="2.30" height="2.30" fill="#1f194b"/>
<rect x="388.9" y="206.8" width="2.30" height="2.30" fill="#1f1747"/>
<rect x="390.6" y="206.8" width="2.30" height="2.30" fill="#212a67"/>
<rect x="392.3" y="206.8" width="2.30" height="2.30" fill="#222e6c"/>
<rect x="394.0" y="206.8" width="2.30" height="2.30" fill="#24397c"/>
<rect x="395.7" y="206.8" width="2.30" height="2.30" fill="#1f1a4c"/>
<rect x="397.4" y="206.8" width="2.30" height="2.30" fill="#212863"/>
<rect x="399.1" y="206.8" width="2.30" height="2.30" fill="#233678"/>
<rect x="400.8" y="206.8" width="2.30" height="2.30" fill="#201e53"/>
<rect x="402.5" y="206.8" width="2.30" height="2.30" fill="#201f54"/>
<rect x="404.2" y="206.8" width="2.30" height="2.30" fill="#1f194b"/>
<rect x="405.9" y="206.8" width="2.30" height="2.30" fill="#1e1240"/>
<rect x="407.6" y="206.8" width="2.30" height="2.30" fill="#212b67"/>
<rect x="409.3" y="206.8" width="2.30" height="2.30" fill="#1f1849"/>
<rect x="411.0" y="206.8" width="2.30" height="2.30" fill="#223272"/>
<rect x="412.7" y="206.8" width="2.30" height="2.30" fill="#20235b"/>
<rect x="414.4" y="206.8" width="2.30" height="2.30" fill="#201d52"/>
<rect x="416.1" y="206.8" width="2.30" height="2.30" fill="#233576"/>
<rect x="417.8" y="206.8" width="2.30" height="2.30" fill="#24397c"/>
<rect x="419.5" y="206.8" width="2.30" height="2.30" fill="#21245d"/>
<rect x="421.2" y="206.8" width="2.30" height="2.30" fill="#2c5ca8"/>
<rect x="422.9" y="206.8" width="2.30" height="2.30" fill="#cbc1f3"/>
<rect x="424.6" y="206.8" width="2.30" height="2.30" fill="#e6e3f9"/>
<rect x="431.4" y="206.8" width="2.30" height="2.30" fill="#e8e5f9"/>
<rect x="433.1" y="206.8" width="2.30" height="2.30" fill="#eae8fa"/>
<rect x="434.8" y="206.8" width="2.30" height="2.30" fill="#f2f1fc"/>
<rect x="443.3" y="206.8" width="2.30" height="2.30" fill="#f4f3fc"/>
<rect x="445.0" y="206.8" width="2.30" height="2.30" fill="#ece9fa"/>
<rect x="446.7" y="206.8" width="2.30" height="2.30" fill="#f5f4fc"/>
<rect x="450.1" y="206.8" width="2.30" height="2.30" fill="#ebe9fa"/>
<rect x="377.0" y="208.5" width="2.30" height="2.30" fill="#1f1849"/>
<rect x="378.7" y="208.5" width="2.30" height="2.30" fill="#243779"/>
<rect x="380.4" y="208.5" width="2.30" height="2.30" fill="#233475"/>
<rect x="382.1" y="208.5" width="2.30" height="2.30" fill="#21255f"/>
<rect x="383.8" y="208.5" width="2.30" height="2.30" fill="#1e1442"/>
<rect x="385.5" y="208.5" width="2.30" height="2.30" fill="#21255e"/>
<rect x="387.2" y="208.5" width="2.30" height="2.30" fill="#233577"/>
<rect x="388.9" y="208.5" width="2.30" height="2.30" fill="#202259"/>
<rect x="390.6" y="208.5" width="2.30" height="2.30" fill="#223070"/>
<rect x="392.3" y="208.5" width="2.30" height="2.30" fill="#253c7f"/>
<rect x="394.0" y="208.5" width="2.30" height="2.30" fill="#1f1c4f"/>
<rect x="395.7" y="208.5" width="2.30" height="2.30" fill="#1e113d"/>
<rect x="397.4" y="208.5" width="2.30" height="2.30" fill="#1f1b4e"/>
<rect x="399.1" y="208.5" width="2.30" height="2.30" fill="#1f1848"/>
<rect x="400.8" y="208.5" width="2.30" height="2.30" fill="#233576"/>
<rect x="402.5" y="208.5" width="2.30" height="2.30" fill="#223070"/>
<rect x="404.2" y="208.5" width="2.30" height="2.30" fill="#212965"/>
<rect x="405.9" y="208.5" width="2.30" height="2.30" fill="#1f1747"/>
<rect x="407.6" y="208.5" width="2.30" height="2.30" fill="#21265f"/>
<rect x="409.3" y="208.5" width="2.30" height="2.30" fill="#1f1443"/>
<rect x="411.0" y="208.5" width="2.30" height="2.30" fill="#24397b"/>
<rect x="412.7" y="208.5" width="2.30" height="2.30" fill="#201f55"/>
<rect x="414.4" y="208.5" width="2.30" height="2.30" fill="#21255e"/>
<rect x="416.1" y="208.5" width="2.30" height="2.30" fill="#223070"/>
<rect x="417.8" y="208.5" width="2.30" height="2.30" fill="#1e1442"/>
<rect x="419.5" y="208.5" width="2.30" height="2.30" fill="#243779"/>
<rect x="421.2" y="208.5" width="2.30" height="2.30" fill="#5770c9"/>
<rect x="422.9" y="208.5" width="2.30" height="2.30" fill="#b2a7eb"/>
<rect x="424.6" y="208.5" width="2.30" height="2.30" fill="#fcfcfe"/>
<rect x="429.7" y="208.5" width="2.30" height="2.30" fill="#e8e5f9"/>
<rect x="431.4" y="208.5" width="2.30" height="2.30" fill="#eae8fa"/>
<rect x="433.1" y="208.5" width="2.30" height="2.30" fill="#f2f1fc"/>
<rect x="438.2" y="208.5" width="2.30" height="2.30" fill="#e1dcf7"/>
<rect x="439.9" y="208.5" width="2.30" height="2.30" fill="#f2f1fc"/>
<rect x="441.6" y="208.5" width="2.30" height="2.30" fill="#e2def8"/>
<rect x="445.0" y="208.5" width="2.30" height="2.30" fill="#e6e3f9"/>
<rect x="448.4" y="208.5" width="2.30" height="2.30" fill="#f4f3fc"/>
<rect x="450.1" y="208.5" width="2.30" height="2.30" fill="#e3dff8"/>
<rect x="377.0" y="210.2" width="2.30" height="2.30" fill="#212b68"/>
<rect x="378.7" y="210.2" width="2.30" height="2.30" fill="#212761"/>
<rect x="380.4" y="210.2" width="2.30" height="2.30" fill="#201e53"/>
<rect x="382.1" y="210.2" width="2.30" height="2.30" fill="#1f1a4c"/>
<rect x="383.8" y="210.2" width="2.30" height="2.30" fill="#1e103c"/>
<rect x="385.5" y="210.2" width="2.30" height="2.30" fill="#222d6c"/>
<rect x="387.2" y="210.2" width="2.30" height="2.30" fill="#212863"/>
<rect x="388.9" y="210.2" width="2.30" height="2.30" fill="#222f6f"/>
<rect x="390.6" y="210.2" width="2.30" height="2.30" fill="#1e1341"/>
<rect x="392.3" y="210.2" width="2.30" height="2.30" fill="#1f194b"/>
<rect x="394.0" y="210.2" width="2.30" height="2.30" fill="#1f1443"/>
<rect x="395.7" y="210.2" width="2.30" height="2.30" fill="#20235b"/>
<rect x="397.4" y="210.2" width="2.30" height="2.30" fill="#1f1747"/>
<rect x="399.1" y="210.2" width="2.30" height="2.30" fill="#201f55"/>
<rect x="400.8" y="210.2" width="2.30" height="2.30" fill="#20235a"/>
<rect x="402.5" y="210.2" width="2.30" height="2.30" fill="#233374"/>
<rect x="404.2" y="210.2" width="2.30" height="2.30" fill="#201e53"/>
<rect x="405.9" y="210.2" width="2.30" height="2.30" fill="#1e1340"/>
<rect x="407.6" y="210.2" width="2.30" height="2.30" fill="#1e1342"/>
<rect x="409.3" y="210.2" width="2.30" height="2.30" fill="#1e113e"/>
<rect x="411.0" y="210.2" width="2.30" height="2.30" fill="#223070"/>
<rect x="412.7" y="210.2" width="2.30" height="2.30" fill="#1e1442"/>
<rect x="414.4" y="210.2" width="2.30" height="2.30" fill="#222e6d"/>
<rect x="416.1" y="210.2" width="2.30" height="2.30" fill="#1e103d"/>
<rect x="417.8" y="210.2" width="2.30" height="2.30" fill="#212761"/>
<rect x="419.5" y="210.2" width="2.30" height="2.30" fill="#201d50"/>
<rect x="421.2" y="210.2" width="2.30" height="2.30" fill="#4e6ec5"/>
<rect x="422.9" y="210.2" width="2.30" height="2.30" fill="#aea3e9"/>
<rect x="424.6" y="210.2" width="2.30" height="2.30" fill="#faf9fe"/>
<rect x="429.7" y="210.2" width="2.30" height="2.30" fill="#f7f6fd"/>
<rect x="431.4" y="210.2" width="2.30" height="2.30" fill="#edebfa"/>
<rect x="436.5" y="210.2" width="2.30" height="2.30" fill="#efedfb"/>
<rect x="439.9" y="210.2" width="2.30" height="2.30" fill="#f0eefb"/>
<rect x="441.6" y="210.2" width="2.30" height="2.30" fill="#f2f1fc"/>
<rect x="445.0" y="210.2" width="2.30" height="2.30" fill="#f3f2fc"/>
<rect x="446.7" y="210.2" width="2.30" height="2.30" fill="#ebe8fa"/>
<rect x="448.4" y="210.2" width="2.30" height="2.30" fill="#f5f4fc"/>
<rect x="450.1" y="210.2" width="2.30" height="2.30" fill="#e9e6f9"/>
<rect x="377.0" y="211.9" width="2.30" height="2.30" fill="#24397b"/>
<rect x="378.7" y="211.9" width="2.30" height="2.30" fill="#212c69"/>
<rect x="380.4" y="211.9" width="2.30" height="2.30" fill="#201e52"/>
<rect x="382.1" y="211.9" width="2.30" height="2.30" fill="#233677"/>
<rect x="383.8" y="211.9" width="2.30" height="2.30" fill="#21255e"/>
<rect x="385.5" y="211.9" width="2.30" height="2.30" fill="#253d80"/>
<rect x="387.2" y="211.9" width="2.30" height="2.30" fill="#20245c"/>
<rect x="388.9" y="211.9" width="2.30" height="2.30" fill="#21255f"/>
<rect x="390.6" y="211.9" width="2.30" height="2.30" fill="#20235a"/>
<rect x="392.3" y="211.9" width="2.30" height="2.30" fill="#21245d"/>
<rect x="394.0" y="211.9" width="2.30" height="2.30" fill="#201e53"/>
<rect x="395.7" y="211.9" width="2.30" height="2.30" fill="#1f1849"/>
<rect x="397.4" y="211.9" width="2.30" height="2.30" fill="#1f1b4d"/>
<rect x="399.1" y="211.9" width="2.30" height="2.30" fill="#212a66"/>
<rect x="400.8" y="211.9" width="2.30" height="2.30" fill="#223272"/>
<rect x="402.5" y="211.9" width="2.30" height="2.30" fill="#202056"/>
<rect x="404.2" y="211.9" width="2.30" height="2.30" fill="#24387b"/>
<rect x="405.9" y="211.9" width="2.30" height="2.30" fill="#253b7e"/>
<rect x="407.6" y="211.9" width="2.30" height="2.30" fill="#233576"/>
<rect x="409.3" y="211.9" width="2.30" height="2.30" fill="#1f1a4d"/>
<rect x="411.0" y="211.9" width="2.30" height="2.30" fill="#1e1240"/>
<rect x="412.7" y="211.9" width="2.30" height="2.30" fill="#201d51"/>
<rect x="414.4" y="211.9" width="2.30" height="2.30" fill="#1e123f"/>
<rect x="416.1" y="211.9" width="2.30" height="2.30" fill="#21255e"/>
<rect x="417.8" y="211.9" width="2.30" height="2.30" fill="#1e123f"/>
<rect x="419.5" y="211.9" width="2.30" height="2.30" fill="#1e103d"/>
<rect x="421.2" y="211.9" width="2.30" height="2.30" fill="#243a7d"/>
<rect x="422.9" y="211.9" width="2.30" height="2.30" fill="#bfb5ef"/>
<rect x="424.6" y="211.9" width="2.30" height="2.30" fill="#fbfbfe"/>
<rect x="428.0" y="211.9" width="2.30" height="2.30" fill="#f4f3fc"/>
<rect x="429.7" y="211.9" width="2.30" height="2.30" fill="#f2f0fc"/>
<rect x="433.1" y="211.9" width="2.30" height="2.30" fill="#f5f4fc"/>
<rect x="434.8" y="211.9" width="2.30" height="2.30" fill="#eceafa"/>
<rect x="438.2" y="211.9" width="2.30" height="2.30" fill="#ebe9fa"/>
<rect x="446.7" y="211.9" width="2.30" height="2.30" fill="#f5f4fc"/>
<rect x="448.4" y="211.9" width="2.30" height="2.30" fill="#f1f0fb"/>
<rect x="377.0" y="213.6" width="2.30" height="2.30" fill="#201d51"/>
<rect x="378.7" y="213.6" width="2.30" height="2.30" fill="#212a66"/>
<rect x="380.4" y="213.6" width="2.30" height="2.30" fill="#1f194b"/>
<rect x="382.1" y="213.6" width="2.30" height="2.30" fill="#201f54"/>
<rect x="383.8" y="213.6" width="2.30" height="2.30" fill="#1f1c4f"/>
<rect x="385.5" y="213.6" width="2.30" height="2.30" fill="#223171"/>
<rect x="387.2" y="213.6" width="2.30" height="2.30" fill="#222c6a"/>
<rect x="388.9" y="213.6" width="2.30" height="2.30" fill="#1f1748"/>
<rect x="390.6" y="213.6" width="2.30" height="2.30" fill="#1f1646"/>
<rect x="392.3" y="213.6" width="2.30" height="2.30" fill="#202157"/>
<rect x="394.0" y="213.6" width="2.30" height="2.30" fill="#253d80"/>
<rect x="395.7" y="213.6" width="2.30" height="2.30" fill="#1f1b4e"/>
<rect x="397.4" y="213.6" width="2.30" height="2.30" fill="#24397b"/>
<rect x="399.1" y="213.6" width="2.30" height="2.30" fill="#233273"/>
<rect x="400.8" y="213.6" width="2.30" height="2.30" fill="#253d81"/>
<rect x="402.5" y="213.6" width="2.30" height="2.30" fill="#222e6c"/>
<rect x="404.2" y="213.6" width="2.30" height="2.30" fill="#1e113d"/>
<rect x="405.9" y="213.6" width="2.30" height="2.30" fill="#233678"/>
<rect x="407.6" y="213.6" width="2.30" height="2.30" fill="#1e113e"/>
<rect x="409.3" y="213.6" width="2.30" height="2.30" fill="#212b68"/>
<rect x="411.0" y="213.6" width="2.30" height="2.30" fill="#212c69"/>
<rect x="412.7" y="213.6" width="2.30" height="2.30" fill="#21255e"/>
<rect x="414.4" y="213.6" width="2.30" height="2.30" fill="#243a7d"/>
<rect x="416.1" y="213.6" width="2.30" height="2.30" fill="#233374"/>
<rect x="417.8" y="213.6" width="2.30" height="2.30" fill="#201f55"/>
<rect x="419.5" y="213.6" width="2.30" height="2.30" fill="#222e6d"/>
<rect x="421.2" y="213.6" width="2.30" height="2.30" fill="#4269be"/>
<rect x="422.9" y="213.6" width="2.30" height="2.30" fill="#9b90e3"/>
<rect x="424.6" y="213.6" width="2.30" height="2.30" fill="#fcfbfe"/>
<rect x="429.7" y="213.6" width="2.30" height="2.30" fill="#f3f2fc"/>
<rect x="433.1" y="213.6" width="2.30" height="2.30" fill="#e9e6f9"/>
<rect x="434.8" y="213.6" width="2.30" height="2.30" fill="#ebe9fa"/>
<rect x="438.2" y="213.6" width="2.30" height="2.30" fill="#eceafa"/>
<rect x="439.9" y="213.6" width="2.30" height="2.30" fill="#f3f1fc"/>
<rect x="445.0" y="213.6" width="2.30" height="2.30" fill="#e9e6f9"/>
<rect x="446.7" y="213.6" width="2.30" height="2.30" fill="#e6e3f9"/>
<rect x="377.0" y="215.3" width="2.30" height="2.30" fill="#212b68"/>
<rect x="378.7" y="215.3" width="2.30" height="2.30" fill="#222f6e"/>
<rect x="380.4" y="215.3" width="2.30" height="2.30" fill="#233678"/>
<rect x="382.1" y="215.3" width="2.30" height="2.30" fill="#1f1b4d"/>
<rect x="383.8" y="215.3" width="2.30" height="2.30" fill="#1e1442"/>
<rect x="385.5" y="215.3" width="2.30" height="2.30" fill="#1e123f"/>
<rect x="387.2" y="215.3" width="2.30" height="2.30" fill="#222d6b"/>
<rect x="388.9" y="215.3" width="2.30" height="2.30" fill="#1f1c4f"/>
<rect x="390.6" y="215.3" width="2.30" height="2.30" fill="#233577"/>
<rect x="392.3" y="215.3" width="2.30" height="2.30" fill="#1e123f"/>
<rect x="394.0" y="215.3" width="2.30" height="2.30" fill="#1f1848"/>
<rect x="395.7" y="215.3" width="2.30" height="2.30" fill="#222e6e"/>
<rect x="397.4" y="215.3" width="2.30" height="2.30" fill="#21265f"/>
<rect x="399.1" y="215.3" width="2.30" height="2.30" fill="#233475"/>
<rect x="400.8" y="215.3" width="2.30" height="2.30" fill="#212c69"/>
<rect x="402.5" y="215.3" width="2.30" height="2.30" fill="#1f1a4d"/>
<rect x="404.2" y="215.3" width="2.30" height="2.30" fill="#223172"/>
<rect x="405.9" y="215.3" width="2.30" height="2.30" fill="#1f1748"/>
<rect x="407.6" y="215.3" width="2.30" height="2.30" fill="#202158"/>
<rect x="409.3" y="215.3" width="2.30" height="2.30" fill="#1f1a4c"/>
<rect x="411.0" y="215.3" width="2.30" height="2.30" fill="#1f1443"/>
<rect x="412.7" y="215.3" width="2.30" height="2.30" fill="#212b68"/>
<rect x="414.4" y="215.3" width="2.30" height="2.30" fill="#1f1748"/>
<rect x="416.1" y="215.3" width="2.30" height="2.30" fill="#212a66"/>
<rect x="417.8" y="215.3" width="2.30" height="2.30" fill="#212a67"/>
<rect x="419.5" y="215.3" width="2.30" height="2.30" fill="#233678"/>
<rect x="421.2" y="215.3" width="2.30" height="2.30" fill="#3c65b7"/>
<rect x="422.9" y="215.3" width="2.30" height="2.30" fill="#a99ee8"/>
<rect x="424.6" y="215.3" width="2.30" height="2.30" fill="#fafafe"/>
<rect x="428.0" y="215.3" width="2.30" height="2.30" fill="#efeefb"/>
<rect x="429.7" y="215.3" width="2.30" height="2.30" fill="#f0effb"/>
<rect x="431.4" y="215.3" width="2.30" height="2.30" fill="#e4e0f8"/>
<rect x="438.2" y="215.3" width="2.30" height="2.30" fill="#eceafa"/>
<rect x="439.9" y="215.3" width="2.30" height="2.30" fill="#e6e2f9"/>
<rect x="443.3" y="215.3" width="2.30" height="2.30" fill="#f2f1fc"/>
<rect x="445.0" y="215.3" width="2.30" height="2.30" fill="#f7f6fd"/>
<rect x="446.7" y="215.3" width="2.30" height="2.30" fill="#f6f5fd"/>
<rect x="448.4" y="215.3" width="2.30" height="2.30" fill="#efedfb"/>
<rect x="377.0" y="217.0" width="2.30" height="2.30" fill="#1f1443"/>
<rect x="378.7" y="217.0" width="2.30" height="2.30" fill="#20245c"/>
<rect x="380.4" y="217.0" width="2.30" height="2.30" fill="#202259"/>
<rect x="382.1" y="217.0" width="2.30" height="2.30" fill="#201f54"/>
<rect x="383.8" y="217.0" width="2.30" height="2.30" fill="#212762"/>
<rect x="385.5" y="217.0" width="2.30" height="2.30" fill="#222e6d"/>
<rect x="387.2" y="217.0" width="2.30" height="2.30" fill="#212762"/>
<rect x="388.9" y="217.0" width="2.30" height="2.30" fill="#21265f"/>
<rect x="390.6" y="217.0" width="2.30" height="2.30" fill="#253d81"/>
<rect x="392.3" y="217.0" width="2.30" height="2.30" fill="#1f1b4f"/>
<rect x="394.0" y="217.0" width="2.30" height="2.30" fill="#222f6e"/>
<rect x="395.7" y="217.0" width="2.30" height="2.30" fill="#20245c"/>
<rect x="397.4" y="217.0" width="2.30" height="2.30" fill="#202056"/>
<rect x="399.1" y="217.0" width="2.30" height="2.30" fill="#223171"/>
<rect x="400.8" y="217.0" width="2.30" height="2.30" fill="#1f1b4e"/>
<rect x="402.5" y="217.0" width="2.30" height="2.30" fill="#1f1c4f"/>
<rect x="404.2" y="217.0" width="2.30" height="2.30" fill="#222d6c"/>
<rect x="405.9" y="217.0" width="2.30" height="2.30" fill="#1e1341"/>
<rect x="407.6" y="217.0" width="2.30" height="2.30" fill="#1e1240"/>
<rect x="409.3" y="217.0" width="2.30" height="2.30" fill="#24387a"/>
<rect x="411.0" y="217.0" width="2.30" height="2.30" fill="#1f1849"/>
<rect x="412.7" y="217.0" width="2.30" height="2.30" fill="#233476"/>
<rect x="414.4" y="217.0" width="2.30" height="2.30" fill="#201f54"/>
<rect x="416.1" y="217.0" width="2.30" height="2.30" fill="#212b68"/>
<rect x="417.8" y="217.0" width="2.30" height="2.30" fill="#222f6e"/>
<rect x="419.5" y="217.0" width="2.30" height="2.30" fill="#233374"/>
<rect x="421.2" y="217.0" width="2.30" height="2.30" fill="#466bc1"/>
<rect x="422.9" y="217.0" width="2.30" height="2.30" fill="#d2caf4"/>
<rect x="424.6" y="217.0" width="2.30" height="2.30" fill="#eeecfb"/>
<rect x="431.4" y="217.0" width="2.30" height="2.30" fill="#e8e5f9"/>
<rect x="438.2" y="217.0" width="2.30" height="2.30" fill="#ebe9fa"/>
<rect x="441.6" y="217.0" width="2.30" height="2.30" fill="#eae7f9"/>
<rect x="445.0" y="217.0" width="2.30" height="2.30" fill="#ece9fa"/>
<rect x="448.4" y="217.0" width="2.30" height="2.30" fill="#e4e0f8"/>
<rect x="377.0" y="218.7" width="2.30" height="2.30" fill="#264287"/>
<rect x="378.7" y="218.7" width="2.30" height="2.30" fill="#212a67"/>
<rect x="380.4" y="218.7" width="2.30" height="2.30" fill="#201d50"/>
<rect x="382.1" y="218.7" width="2.30" height="2.30" fill="#201c50"/>
<rect x="383.8" y="218.7" width="2.30" height="2.30" fill="#233476"/>
<rect x="385.5" y="218.7" width="2.30" height="2.30" fill="#253e82"/>
<rect x="387.2" y="218.7" width="2.30" height="2.30" fill="#1f1c4f"/>
<rect x="388.9" y="218.7" width="2.30" height="2.30" fill="#264186"/>
<rect x="390.6" y="218.7" width="2.30" height="2.30" fill="#264388"/>
<rect x="392.3" y="218.7" width="2.30" height="2.30" fill="#21255f"/>
<rect x="394.0" y="218.7" width="2.30" height="2.30" fill="#222d6c"/>
<rect x="395.7" y="218.7" width="2.30" height="2.30" fill="#284a91"/>
<rect x="397.4" y="218.7" width="2.30" height="2.30" fill="#20235c"/>
<rect x="399.1" y="218.7" width="2.30" height="2.30" fill="#223171"/>
<rect x="400.8" y="218.7" width="2.30" height="2.30" fill="#212b67"/>
<rect x="402.5" y="218.7" width="2.30" height="2.30" fill="#233475"/>
<rect x="404.2" y="218.7" width="2.30" height="2.30" fill="#202157"/>
<rect x="405.9" y="218.7" width="2.30" height="2.30" fill="#222c6a"/>
<rect x="407.6" y="218.7" width="2.30" height="2.30" fill="#264186"/>
<rect x="409.3" y="218.7" width="2.30" height="2.30" fill="#212762"/>
<rect x="411.0" y="218.7" width="2.30" height="2.30" fill="#20235b"/>
<rect x="412.7" y="218.7" width="2.30" height="2.30" fill="#222e6d"/>
<rect x="414.4" y="218.7" width="2.30" height="2.30" fill="#20235b"/>
<rect x="416.1" y="218.7" width="2.30" height="2.30" fill="#212863"/>
<rect x="417.8" y="218.7" width="2.30" height="2.30" fill="#21265f"/>
<rect x="419.5" y="218.7" width="2.30" height="2.30" fill="#201d51"/>
<rect x="421.2" y="218.7" width="2.30" height="2.30" fill="#3260ae"/>
<rect x="422.9" y="218.7" width="2.30" height="2.30" fill="#cec5f3"/>
<rect x="424.6" y="218.7" width="2.30" height="2.30" fill="#fafafe"/>
<rect x="433.1" y="218.7" width="2.30" height="2.30" fill="#f5f4fc"/>
<rect x="441.6" y="218.7" width="2.30" height="2.30" fill="#f5f4fc"/>
<rect x="443.3" y="218.7" width="2.30" height="2.30" fill="#eeecfb"/>
<rect x="445.0" y="218.7" width="2.30" height="2.30" fill="#e9e6f9"/>
<rect x="448.4" y="218.7" width="2.30" height="2.30" fill="#f1f0fb"/>
<rect x="377.0" y="220.4" width="2.30" height="2.30" fill="#4a6cc4"/>
<rect x="378.7" y="220.4" width="2.30" height="2.30" fill="#9286e0"/>
<rect x="380.4" y="220.4" width="2.30" height="2.30" fill="#6574ce"/>
<rect x="382.1" y="220.4" width="2.30" height="2.30" fill="#5c72cb"/>
<rect x="383.8" y="220.4" width="2.30" height="2.30" fill="#9387e0"/>
<rect x="385.5" y="220.4" width="2.30" height="2.30" fill="#3561b0"/>
<rect x="387.2" y="220.4" width="2.30" height="2.30" fill="#5871c9"/>
<rect x="388.9" y="220.4" width="2.30" height="2.30" fill="#5d72cb"/>
<rect x="390.6" y="220.4" width="2.30" height="2.30" fill="#8d81de"/>
<rect x="392.3" y="220.4" width="2.30" height="2.30" fill="#516fc7"/>
<rect x="394.0" y="220.4" width="2.30" height="2.30" fill="#496cc4"/>
<rect x="395.7" y="220.4" width="2.30" height="2.30" fill="#516fc6"/>
<rect x="397.4" y="220.4" width="2.30" height="2.30" fill="#4c6dc4"/>
<rect x="399.1" y="220.4" width="2.30" height="2.30" fill="#807cd9"/>
<rect x="400.8" y="220.4" width="2.30" height="2.30" fill="#3460af"/>
<rect x="402.5" y="220.4" width="2.30" height="2.30" fill="#5c72cb"/>
<rect x="404.2" y="220.4" width="2.30" height="2.30" fill="#988de2"/>
<rect x="405.9" y="220.4" width="2.30" height="2.30" fill="#4a6cc4"/>
<rect x="407.6" y="220.4" width="2.30" height="2.30" fill="#4a6dc4"/>
<rect x="409.3" y="220.4" width="2.30" height="2.30" fill="#a196e5"/>
<rect x="411.0" y="220.4" width="2.30" height="2.30" fill="#7e7cd9"/>
<rect x="412.7" y="220.4" width="2.30" height="2.30" fill="#7078d3"/>
<rect x="414.4" y="220.4" width="2.30" height="2.30" fill="#3f67ba"/>
<rect x="416.1" y="220.4" width="2.30" height="2.30" fill="#9185e0"/>
<rect x="417.8" y="220.4" width="2.30" height="2.30" fill="#3762b2"/>
<rect x="419.5" y="220.4" width="2.30" height="2.30" fill="#6274cd"/>
<rect x="421.2" y="220.4" width="2.30" height="2.30" fill="#8b80de"/>
<rect x="422.9" y="220.4" width="2.30" height="2.30" fill="#cdc5f3"/>
<rect x="424.6" y="220.4" width="2.30" height="2.30" fill="#f0eefb"/>
<rect x="433.1" y="220.4" width="2.30" height="2.30" fill="#e3dff8"/>
<rect x="434.8" y="220.4" width="2.30" height="2.30" fill="#f4f3fc"/>
<rect x="443.3" y="220.4" width="2.30" height="2.30" fill="#f2f1fc"/>
<rect x="445.0" y="220.4" width="2.30" height="2.30" fill="#f2f1fc"/>
<rect x="448.4" y="220.4" width="2.30" height="2.30" fill="#e6e3f9"/>
<rect x="377.0" y="222.1" width="2.30" height="2.30" fill="#b4a9eb"/>
<rect x="378.7" y="222.1" width="2.30" height="2.30" fill="#d8d1f5"/>
<rect x="380.4" y="222.1" width="2.30" height="2.30" fill="#c4baf1"/>
<rect x="382.1" y="222.1" width="2.30" height="2.30" fill="#b1a6ea"/>
<rect x="383.8" y="222.1" width="2.30" height="2.30" fill="#bcb2ee"/>
<rect x="385.5" y="222.1" width="2.30" height="2.30" fill="#dad5f6"/>
<rect x="387.2" y="222.1" width="2.30" height="2.30" fill="#d1c9f4"/>
<rect x="388.9" y="222.1" width="2.30" height="2.30" fill="#c2b8f0"/>
<rect x="390.6" y="222.1" width="2.30" height="2.30" fill="#cec5f3"/>
<rect x="392.3" y="222.1" width="2.30" height="2.30" fill="#c1b7f0"/>
<rect x="394.0" y="222.1" width="2.30" height="2.30" fill="#d7d1f5"/>
<rect x="395.7" y="222.1" width="2.30" height="2.30" fill="#d8d2f6"/>
<rect x="397.4" y="222.1" width="2.30" height="2.30" fill="#dcd7f6"/>
<rect x="399.1" y="222.1" width="2.30" height="2.30" fill="#b8aded"/>
<rect x="400.8" y="222.1" width="2.30" height="2.30" fill="#b5abec"/>
<rect x="402.5" y="222.1" width="2.30" height="2.30" fill="#c9bff2"/>
<rect x="404.2" y="222.1" width="2.30" height="2.30" fill="#b3a8eb"/>
<rect x="405.9" y="222.1" width="2.30" height="2.30" fill="#cbc2f3"/>
<rect x="407.6" y="222.1" width="2.30" height="2.30" fill="#d0c8f4"/>
<rect x="409.3" y="222.1" width="2.30" height="2.30" fill="#d5cef5"/>
<rect x="411.0" y="222.1" width="2.30" height="2.30" fill="#ccc3f3"/>
<rect x="412.7" y="222.1" width="2.30" height="2.30" fill="#d6cff5"/>
<rect x="414.4" y="222.1" width="2.30" height="2.30" fill="#beb4ef"/>
<rect x="416.1" y="222.1" width="2.30" height="2.30" fill="#cbc2f3"/>
<rect x="417.8" y="222.1" width="2.30" height="2.30" fill="#ccc2f3"/>
<rect x="419.5" y="222.1" width="2.30" height="2.30" fill="#cfc7f4"/>
<rect x="421.2" y="222.1" width="2.30" height="2.30" fill="#d3cbf4"/>
<rect x="422.9" y="222.1" width="2.30" height="2.30" fill="#edebfa"/>
<rect x="424.6" y="222.1" width="2.30" height="2.30" fill="#e6e3f9"/>
<rect x="426.3" y="222.1" width="2.30" height="2.30" fill="#e6e2f9"/>
<rect x="431.4" y="222.1" width="2.30" height="2.30" fill="#f6f6fd"/>
<rect x="436.5" y="222.1" width="2.30" height="2.30" fill="#f5f4fc"/>
<rect x="439.9" y="222.1" width="2.30" height="2.30" fill="#f2f0fb"/>
<rect x="446.7" y="222.1" width="2.30" height="2.30" fill="#e1dcf7"/>
<rect x="448.4" y="222.1" width="2.30" height="2.30" fill="#e2def8"/>
<rect x="450.1" y="222.1" width="2.30" height="2.30" fill="#e4e0f8"/>
<rect x="377.0" y="223.8" width="2.30" height="2.30" fill="#f5f4fc"/>
<rect x="378.7" y="223.8" width="2.30" height="2.30" fill="#f5f4fc"/>
<rect x="380.4" y="223.8" width="2.30" height="2.30" fill="#f7f6fd"/>
<rect x="382.1" y="223.8" width="2.30" height="2.30" fill="#f5f4fc"/>
<rect x="383.8" y="223.8" width="2.30" height="2.30" fill="#f3f2fc"/>
<rect x="385.5" y="223.8" width="2.30" height="2.30" fill="#f7f6fd"/>
<rect x="387.2" y="223.8" width="2.30" height="2.30" fill="#f5f4fc"/>
<rect x="388.9" y="223.8" width="2.30" height="2.30" fill="#f2f1fc"/>
<rect x="390.6" y="223.8" width="2.30" height="2.30" fill="#f4f3fc"/>
<rect x="392.3" y="223.8" width="2.30" height="2.30" fill="#f7f6fd"/>
<rect x="394.0" y="223.8" width="2.30" height="2.30" fill="#f7f6fd"/>
<rect x="395.7" y="223.8" width="2.30" height="2.30" fill="#f6f5fd"/>
<rect x="397.4" y="223.8" width="2.30" height="2.30" fill="#f5f4fc"/>
<rect x="399.1" y="223.8" width="2.30" height="2.30" fill="#f5f4fc"/>
<rect x="400.8" y="223.8" width="2.30" height="2.30" fill="#f4f2fc"/>
<rect x="402.5" y="223.8" width="2.30" height="2.30" fill="#f5f4fc"/>
<rect x="404.2" y="223.8" width="2.30" height="2.30" fill="#f5f4fc"/>
<rect x="405.9" y="223.8" width="2.30" height="2.30" fill="#f3f2fc"/>
<rect x="407.6" y="223.8" width="2.30" height="2.30" fill="#f2f0fb"/>
<rect x="409.3" y="223.8" width="2.30" height="2.30" fill="#f5f3fc"/>
<rect x="411.0" y="223.8" width="2.30" height="2.30" fill="#f6f6fd"/>
<rect x="412.7" y="223.8" width="2.30" height="2.30" fill="#f6f5fd"/>
<rect x="414.4" y="223.8" width="2.30" height="2.30" fill="#f4f3fc"/>
<rect x="416.1" y="223.8" width="2.30" height="2.30" fill="#f6f5fd"/>
<rect x="417.8" y="223.8" width="2.30" height="2.30" fill="#f5f4fc"/>
<rect x="419.5" y="223.8" width="2.30" height="2.30" fill="#f6f5fd"/>
<rect x="421.2" y="223.8" width="2.30" height="2.30" fill="#f5f4fc"/>
<rect x="422.9" y="223.8" width="2.30" height="2.30" fill="#fbfbfe"/>
<rect x="426.3" y="223.8" width="2.30" height="2.30" fill="#eeecfa"/>
<rect x="429.7" y="223.8" width="2.30" height="2.30" fill="#f6f5fd"/>
<rect x="433.1" y="223.8" width="2.30" height="2.30" fill="#f3f2fc"/>
<rect x="441.6" y="223.8" width="2.30" height="2.30" fill="#f0effb"/>
<rect x="443.3" y="223.8" width="2.30" height="2.30" fill="#f6f5fd"/>
<rect x="446.7" y="223.8" width="2.30" height="2.30" fill="#f1f0fb"/>
<rect x="383.8" y="225.5" width="2.30" height="2.30" fill="#f3f2fc"/>
<rect x="385.5" y="225.5" width="2.30" height="2.30" fill="#f6f5fd"/>
<rect x="388.9" y="225.5" width="2.30" height="2.30" fill="#f0effb"/>
<rect x="397.4" y="225.5" width="2.30" height="2.30" fill="#edebfa"/>
<rect x="407.6" y="225.5" width="2.30" height="2.30" fill="#efedfb"/>
<rect x="409.3" y="225.5" width="2.30" height="2.30" fill="#f1effb"/>
<rect x="411.0" y="225.5" width="2.30" height="2.30" fill="#ece9fa"/>
<rect x="412.7" y="225.5" width="2.30" height="2.30" fill="#f6f5fd"/>
<rect x="414.4" y="225.5" width="2.30" height="2.30" fill="#f9f8fd"/>
<rect x="416.1" y="225.5" width="2.30" height="2.30" fill="#f5f4fc"/>
<rect x="421.2" y="225.5" width="2.30" height="2.30" fill="#fafafe"/>
<rect x="422.9" y="225.5" width="2.30" height="2.30" fill="#eeecfb"/>
<rect x="426.3" y="225.5" width="2.30" height="2.30" fill="#efedfb"/>
<rect x="428.0" y="225.5" width="2.30" height="2.30" fill="#f1effb"/>
<rect x="445.0" y="225.5" width="2.30" height="2.30" fill="#e3dff8"/>
<rect x="446.7" y="225.5" width="2.30" height="2.30" fill="#eae7f9"/>
<rect x="450.1" y="225.5" width="2.30" height="2.30" fill="#e7e4f9"/>
<rect x="377.0" y="227.2" width="2.30" height="2.30" fill="#f4f3fc"/>
<rect x="380.4" y="227.2" width="2.30" height="2.30" fill="#f6f5fd"/>
<rect x="382.1" y="227.2" width="2.30" height="2.30" fill="#f7f6fd"/>
<rect x="383.8" y="227.2" width="2.30" height="2.30" fill="#eceafa"/>
<rect x="385.5" y="227.2" width="2.30" height="2.30" fill="#f6f5fd"/>
<rect x="387.2" y="227.2" width="2.30" height="2.30" fill="#edebfa"/>
<rect x="392.3" y="227.2" width="2.30" height="2.30" fill="#f9f9fd"/>
<rect x="395.7" y="227.2" width="2.30" height="2.30" fill="#f2f0fb"/>
<rect x="400.8" y="227.2" width="2.30" height="2.30" fill="#efedfb"/>
<rect x="404.2" y="227.2" width="2.30" height="2.30" fill="#f8f8fd"/>
<rect x="414.4" y="227.2" width="2.30" height="2.30" fill="#eceafa"/>
<rect x="416.1" y="227.2" width="2.30" height="2.30" fill="#e8e5f9"/>
<rect x="419.5" y="227.2" width="2.30" height="2.30" fill="#ebe9fa"/>
<rect x="421.2" y="227.2" width="2.30" height="2.30" fill="#f0eefb"/>
<rect x="424.6" y="227.2" width="2.30" height="2.30" fill="#efedfb"/>
<rect x="429.7" y="227.2" width="2.30" height="2.30" fill="#e9e6f9"/>
<rect x="438.2" y="227.2" width="2.30" height="2.30" fill="#e9e6f9"/>
<rect x="443.3" y="227.2" width="2.30" height="2.30" fill="#edebfa"/>
<rect x="383.8" y="228.9" width="2.30" height="2.30" fill="#efeefb"/>
<rect x="385.5" y="228.9" width="2.30" height="2.30" fill="#eeedfb"/>
<rect x="387.2" y="228.9" width="2.30" height="2.30" fill="#f8f7fd"/>
<rect x="394.0" y="228.9" width="2.30" height="2.30" fill="#e9e6f9"/>
<rect x="395.7" y="228.9" width="2.30" height="2.30" fill="#f2f1fc"/>
<rect x="411.0" y="228.9" width="2.30" height="2.30" fill="#f4f3fc"/>
<rect x="412.7" y="228.9" width="2.30" height="2.30" fill="#f9f9fd"/>
<rect x="419.5" y="228.9" width="2.30" height="2.30" fill="#f4f2fc"/>
<rect x="426.3" y="228.9" width="2.30" height="2.30" fill="#eeecfa"/>
<rect x="433.1" y="228.9" width="2.30" height="2.30" fill="#ebe8fa"/>
<rect x="434.8" y="228.9" width="2.30" height="2.30" fill="#eae7fa"/>
<rect x="448.4" y="228.9" width="2.30" height="2.30" fill="#f2f1fc"/>
<rect x="385.5" y="230.6" width="2.30" height="2.30" fill="#f1effb"/>
<rect x="388.9" y="230.6" width="2.30" height="2.30" fill="#eeecfb"/>
<rect x="390.6" y="230.6" width="2.30" height="2.30" fill="#edebfa"/>
<rect x="397.4" y="230.6" width="2.30" height="2.30" fill="#f8f8fd"/>
<rect x="400.8" y="230.6" width="2.30" height="2.30" fill="#edebfa"/>
<rect x="404.2" y="230.6" width="2.30" height="2.30" fill="#efedfb"/>
<rect x="407.6" y="230.6" width="2.30" height="2.30" fill="#f4f3fc"/>
<rect x="417.8" y="230.6" width="2.30" height="2.30" fill="#f5f3fc"/>
<rect x="428.0" y="230.6" width="2.30" height="2.30" fill="#f8f8fd"/>
<rect x="450.1" y="230.6" width="2.30" height="2.30" fill="#eae7f9"/>
<rect x="377.0" y="232.3" width="2.30" height="2.30" fill="#f2f0fc"/>
<rect x="380.4" y="232.3" width="2.30" height="2.30" fill="#f2f1fc"/>
<rect x="382.1" y="232.3" width="2.30" height="2.30" fill="#f7f6fd"/>
<rect x="390.6" y="232.3" width="2.30" height="2.30" fill="#e9e6f9"/>
<rect x="394.0" y="232.3" width="2.30" height="2.30" fill="#f4f3fc"/>
<rect x="411.0" y="232.3" width="2.30" height="2.30" fill="#ebe8fa"/>
<rect x="416.1" y="232.3" width="2.30" height="2.30" fill="#edebfa"/>
<rect x="419.5" y="232.3" width="2.30" height="2.30" fill="#edebfa"/>
<rect x="422.9" y="232.3" width="2.30" height="2.30" fill="#efedfb"/>
<rect x="428.0" y="232.3" width="2.30" height="2.30" fill="#f1effb"/>
<rect x="433.1" y="232.3" width="2.30" height="2.30" fill="#f4f3fc"/>
<rect x="439.9" y="232.3" width="2.30" height="2.30" fill="#f6f5fd"/>
<rect x="441.6" y="232.3" width="2.30" height="2.30" fill="#ebe8fa"/>
<rect x="446.7" y="232.3" width="2.30" height="2.30" fill="#e9e6f9"/>
<rect x="448.4" y="232.3" width="2.30" height="2.30" fill="#f5f3fc"/>
<rect x="450.1" y="232.3" width="2.30" height="2.30" fill="#f3f1fc"/>
<rect x="377.0" y="234.0" width="2.30" height="2.30" fill="#ebe9fa"/>
<rect x="380.4" y="234.0" width="2.30" height="2.30" fill="#e9e6f9"/>
<rect x="387.2" y="234.0" width="2.30" height="2.30" fill="#e9e7f9"/>
<rect x="400.8" y="234.0" width="2.30" height="2.30" fill="#eeecfb"/>
<rect x="407.6" y="234.0" width="2.30" height="2.30" fill="#faf9fe"/>
<rect x="409.3" y="234.0" width="2.30" height="2.30" fill="#faf9fe"/>
<rect x="412.7" y="234.0" width="2.30" height="2.30" fill="#f8f7fd"/>
<rect x="416.1" y="234.0" width="2.30" height="2.30" fill="#f3f2fc"/>
<rect x="417.8" y="234.0" width="2.30" height="2.30" fill="#f3f2fc"/>
<rect x="429.7" y="234.0" width="2.30" height="2.30" fill="#ebe8fa"/>
<rect x="431.4" y="234.0" width="2.30" height="2.30" fill="#f6f5fd"/>
<rect x="438.2" y="234.0" width="2.30" height="2.30" fill="#faf9fe"/>
<rect x="450.1" y="234.0" width="2.30" height="2.30" fill="#f1effb"/>
<rect x="382.1" y="235.7" width="2.30" height="2.30" fill="#f0eefb"/>
<rect x="383.8" y="235.7" width="2.30" height="2.30" fill="#eae7f9"/>
<rect x="385.5" y="235.7" width="2.30" height="2.30" fill="#f6f5fd"/>
<rect x="390.6" y="235.7" width="2.30" height="2.30" fill="#eeecfa"/>
<rect x="395.7" y="235.7" width="2.30" height="2.30" fill="#f3f2fc"/>
<rect x="399.1" y="235.7" width="2.30" height="2.30" fill="#f8f7fd"/>
<rect x="400.8" y="235.7" width="2.30" height="2.30" fill="#f5f4fc"/>
<rect x="404.2" y="235.7" width="2.30" height="2.30" fill="#f0eefb"/>
<rect x="407.6" y="235.7" width="2.30" height="2.30" fill="#f3f1fc"/>
<rect x="409.3" y="235.7" width="2.30" height="2.30" fill="#f7f6fd"/>
<rect x="411.0" y="235.7" width="2.30" height="2.30" fill="#f4f3fc"/>
<rect x="419.5" y="235.7" width="2.30" height="2.30" fill="#e8e6f9"/>
<rect x="422.9" y="235.7" width="2.30" height="2.30" fill="#f8f7fd"/>
<rect x="428.0" y="235.7" width="2.30" height="2.30" fill="#f7f6fd"/>
<rect x="431.4" y="235.7" width="2.30" height="2.30" fill="#eeecfa"/>
<rect x="433.1" y="235.7" width="2.30" height="2.30" fill="#f6f5fd"/>
<rect x="445.0" y="235.7" width="2.30" height="2.30" fill="#f9f9fe"/>
<rect x="446.7" y="235.7" width="2.30" height="2.30" fill="#f1f0fb"/>
<rect x="450.1" y="235.7" width="2.30" height="2.30" fill="#e8e6f9"/>
<rect x="385.5" y="237.4" width="2.30" height="2.30" fill="#f6f5fd"/>
<rect x="390.6" y="237.4" width="2.30" height="2.30" fill="#eeecfb"/>
<rect x="399.1" y="237.4" width="2.30" height="2.30" fill="#eceafa"/>
<rect x="416.1" y="237.4" width="2.30" height="2.30" fill="#e9e6f9"/>
<rect x="422.9" y="237.4" width="2.30" height="2.30" fill="#eae7fa"/>
<rect x="424.6" y="237.4" width="2.30" height="2.30" fill="#efedfb"/>
<rect x="429.7" y="237.4" width="2.30" height="2.30" fill="#f6f5fd"/>
<rect x="431.4" y="237.4" width="2.30" height="2.30" fill="#f1f0fb"/>
<rect x="433.1" y="237.4" width="2.30" height="2.30" fill="#f1f0fb"/>
<rect x="377.0" y="239.1" width="2.30" height="2.30" fill="#fafafe"/>
<rect x="380.4" y="239.1" width="2.30" height="2.30" fill="#ebe9fa"/>
<rect x="392.3" y="239.1" width="2.30" height="2.30" fill="#f4f3fc"/>
<rect x="395.7" y="239.1" width="2.30" height="2.30" fill="#faf9fe"/>
<rect x="397.4" y="239.1" width="2.30" height="2.30" fill="#f0effb"/>
<rect x="402.5" y="239.1" width="2.30" height="2.30" fill="#eceafa"/>
<rect x="405.9" y="239.1" width="2.30" height="2.30" fill="#f4f3fc"/>
<rect x="407.6" y="239.1" width="2.30" height="2.30" fill="#eeecfb"/>
<rect x="409.3" y="239.1" width="2.30" height="2.30" fill="#eae7fa"/>
<rect x="412.7" y="239.1" width="2.30" height="2.30" fill="#f9f8fd"/>
<rect x="419.5" y="239.1" width="2.30" height="2.30" fill="#f1f0fb"/>
<rect x="426.3" y="239.1" width="2.30" height="2.30" fill="#ebe9fa"/>
<rect x="429.7" y="239.1" width="2.30" height="2.30" fill="#eae7f9"/>
<rect x="431.4" y="239.1" width="2.30" height="2.30" fill="#f3f2fc"/>
<rect x="434.8" y="239.1" width="2.30" height="2.30" fill="#eeecfa"/>
<rect x="436.5" y="239.1" width="2.30" height="2.30" fill="#eceafa"/>
<rect x="439.9" y="239.1" width="2.30" height="2.30" fill="#edebfa"/>
<rect x="446.7" y="239.1" width="2.30" height="2.30" fill="#f9f8fd"/>
<rect x="448.4" y="239.1" width="2.30" height="2.30" fill="#f6f5fd"/>
<rect x="377.0" y="240.8" width="2.30" height="2.30" fill="#f6f5fd"/>
<rect x="380.4" y="240.8" width="2.30" height="2.30" fill="#f5f4fc"/>
<rect x="392.3" y="240.8" width="2.30" height="2.30" fill="#faf9fe"/>
<rect x="399.1" y="240.8" width="2.30" height="2.30" fill="#f4f3fc"/>
<rect x="400.8" y="240.8" width="2.30" height="2.30" fill="#e8e6f9"/>
<rect x="409.3" y="240.8" width="2.30" height="2.30" fill="#faf9fe"/>
<rect x="446.7" y="240.8" width="2.30" height="2.30" fill="#f9f8fd"/>
<rect x="448.4" y="240.8" width="2.30" height="2.30" fill="#f9f9fe"/>
<rect x="377.0" y="242.5" width="2.30" height="2.30" fill="#ece9fa"/>
<rect x="390.6" y="242.5" width="2.30" height="2.30" fill="#f4f2fc"/>
<rect x="394.0" y="242.5" width="2.30" height="2.30" fill="#f5f4fc"/>
<rect x="399.1" y="242.5" width="2.30" height="2.30" fill="#f1effb"/>
<rect x="400.8" y="242.5" width="2.30" height="2.30" fill="#f8f7fd"/>
<rect x="405.9" y="242.5" width="2.30" height="2.30" fill="#f0eefb"/>
<rect x="407.6" y="242.5" width="2.30" height="2.30" fill="#f9f8fd"/>
<rect x="426.3" y="242.5" width="2.30" height="2.30" fill="#f0effb"/>
<rect x="428.0" y="242.5" width="2.30" height="2.30" fill="#edebfa"/>
<rect x="436.5" y="242.5" width="2.30" height="2.30" fill="#efedfb"/>
<rect x="446.7" y="242.5" width="2.30" height="2.30" fill="#f3f1fc"/>
<rect x="385.5" y="244.2" width="2.30" height="2.30" fill="#f8f7fd"/>
<rect x="399.1" y="244.2" width="2.30" height="2.30" fill="#edebfa"/>
<rect x="400.8" y="244.2" width="2.30" height="2.30" fill="#f1f0fb"/>
<rect x="404.2" y="244.2" width="2.30" height="2.30" fill="#f2f1fc"/>
<rect x="407.6" y="244.2" width="2.30" height="2.30" fill="#e8e6f9"/>
<rect x="416.1" y="244.2" width="2.30" height="2.30" fill="#f9f8fd"/>
<rect x="421.2" y="244.2" width="2.30" height="2.30" fill="#f1f0fb"/>
<rect x="422.9" y="244.2" width="2.30" height="2.30" fill="#f0effb"/>
<rect x="428.0" y="244.2" width="2.30" height="2.30" fill="#f9f9fe"/>
<rect x="433.1" y="244.2" width="2.30" height="2.30" fill="#ecebfa"/>
<rect x="438.2" y="244.2" width="2.30" height="2.30" fill="#f8f7fd"/>
<rect x="441.6" y="244.2" width="2.30" height="2.30" fill="#fafafe"/>
<rect x="443.3" y="244.2" width="2.30" height="2.30" fill="#f6f5fd"/>
<rect x="445.0" y="244.2" width="2.30" height="2.30" fill="#eceafa"/>
<rect x="448.4" y="244.2" width="2.30" height="2.30" fill="#f0eefb"/>
<rect x="380.4" y="245.9" width="2.30" height="2.30" fill="#f4f3fc"/>
<rect x="387.2" y="245.9" width="2.30" height="2.30" fill="#eeecfb"/>
<rect x="390.6" y="245.9" width="2.30" height="2.30" fill="#f2f1fc"/>
<rect x="394.0" y="245.9" width="2.30" height="2.30" fill="#eae8fa"/>
<rect x="395.7" y="245.9" width="2.30" height="2.30" fill="#eeecfb"/>
<rect x="405.9" y="245.9" width="2.30" height="2.30" fill="#f9f9fd"/>
<rect x="419.5" y="245.9" width="2.30" height="2.30" fill="#ebe9fa"/>
<rect x="422.9" y="245.9" width="2.30" height="2.30" fill="#eeecfb"/>
<rect x="431.4" y="245.9" width="2.30" height="2.30" fill="#f3f2fc"/>
<rect x="433.1" y="245.9" width="2.30" height="2.30" fill="#f8f7fd"/>
<rect x="436.5" y="245.9" width="2.30" height="2.30" fill="#e9e6f9"/>
<rect x="439.9" y="245.9" width="2.30" height="2.30" fill="#f2f0fc"/>
<rect x="377.0" y="248.0" width="2.80" height="2.80" fill="#e6e3f9"/>
<rect x="381.4" y="248.0" width="2.80" height="2.80" fill="#f7f6fd"/>
<rect x="383.6" y="248.0" width="2.80" height="2.80" fill="#e9e6f9"/>
<rect x="390.2" y="248.0" width="2.80" height="2.80" fill="#f6f5fd"/>
<rect x="392.4" y="248.0" width="2.80" height="2.80" fill="#f6f5fd"/>
<rect x="394.6" y="248.0" width="2.80" height="2.80" fill="#e6e3f9"/>
<rect x="401.2" y="248.0" width="2.80" height="2.80" fill="#e5e1f8"/>
<rect x="403.4" y="248.0" width="2.80" height="2.80" fill="#f4f2fc"/>
<rect x="407.8" y="248.0" width="2.80" height="2.80" fill="#f6f5fd"/>
<rect x="412.2" y="248.0" width="2.80" height="2.80" fill="#eae7f9"/>
<rect x="414.4" y="248.0" width="2.80" height="2.80" fill="#f4f3fc"/>
<rect x="416.6" y="248.0" width="2.80" height="2.80" fill="#e9e7f9"/>
<rect x="418.8" y="248.0" width="2.80" height="2.80" fill="#e5e1f8"/>
<rect x="421.0" y="248.0" width="2.80" height="2.80" fill="#e8e5f9"/>
<rect x="423.2" y="248.0" width="2.80" height="2.80" fill="#e9e6f9"/>
<rect x="425.4" y="248.0" width="2.80" height="2.80" fill="#e5e2f8"/>
<rect x="427.6" y="248.0" width="2.80" height="2.80" fill="#eae8fa"/>
<rect x="432.0" y="248.0" width="2.80" height="2.80" fill="#e8e5f9"/>
<rect x="434.2" y="248.0" width="2.80" height="2.80" fill="#e8e5f9"/>
<rect x="440.8" y="248.0" width="2.80" height="2.80" fill="#f4f3fc"/>
<rect x="447.4" y="248.0" width="2.80" height="2.80" fill="#e7e4f9"/>
<rect x="449.6" y="248.0" width="2.80" height="2.80" fill="#e9e6f9"/>
<rect x="454.0" y="248.0" width="2.80" height="2.80" fill="#e4e0f8"/>
<rect x="456.2" y="248.0" width="2.80" height="2.80" fill="#f6f5fd"/>
<rect x="458.4" y="248.0" width="2.80" height="2.80" fill="#f6f5fd"/>
<rect x="462.8" y="248.0" width="2.80" height="2.80" fill="#f6f5fd"/>
<rect x="465.0" y="248.0" width="2.80" height="2.80" fill="#e5e2f8"/>
<rect x="471.6" y="248.0" width="2.80" height="2.80" fill="#e7e4f9"/>
<rect x="482.6" y="248.0" width="2.80" height="2.80" fill="#e5e1f8"/>
<rect x="491.4" y="248.0" width="2.80" height="2.80" fill="#f5f4fc"/>
<rect x="493.6" y="248.0" width="2.80" height="2.80" fill="#f5f3fc"/>
<rect x="498.0" y="248.0" width="2.80" height="2.80" fill="#e8e6f9"/>
<rect x="502.4" y="248.0" width="2.80" height="2.80" fill="#f6f5fd"/>
<rect x="504.6" y="248.0" width="2.80" height="2.80" fill="#e5e2f9"/>
<rect x="506.8" y="248.0" width="2.80" height="2.80" fill="#f5f4fc"/>
<rect x="509.0" y="248.0" width="2.80" height="2.80" fill="#e7e3f9"/>
<rect x="377.0" y="250.2" width="2.80" height="2.80" fill="#f6f5fd"/>
<rect x="381.4" y="250.2" width="2.80" height="2.80" fill="#f5f3fc"/>
<rect x="388.0" y="250.2" width="2.80" height="2.80" fill="#e9e7f9"/>
<rect x="401.2" y="250.2" width="2.80" height="2.80" fill="#e5e1f8"/>
<rect x="403.4" y="250.2" width="2.80" height="2.80" fill="#f4f3fc"/>
<rect x="405.6" y="250.2" width="2.80" height="2.80" fill="#f5f4fc"/>
<rect x="412.2" y="250.2" width="2.80" height="2.80" fill="#eae8fa"/>
<rect x="414.4" y="250.2" width="2.80" height="2.80" fill="#f6f5fd"/>
<rect x="421.0" y="250.2" width="2.80" height="2.80" fill="#e6e2f9"/>
<rect x="438.6" y="250.2" width="2.80" height="2.80" fill="#eae8fa"/>
<rect x="447.4" y="250.2" width="2.80" height="2.80" fill="#eae8fa"/>
<rect x="454.0" y="250.2" width="2.80" height="2.80" fill="#f6f5fd"/>
<rect x="456.2" y="250.2" width="2.80" height="2.80" fill="#f5f4fc"/>
<rect x="458.4" y="250.2" width="2.80" height="2.80" fill="#f5f3fc"/>
<rect x="460.6" y="250.2" width="2.80" height="2.80" fill="#f4f3fc"/>
<rect x="462.8" y="250.2" width="2.80" height="2.80" fill="#f4f3fc"/>
<rect x="469.4" y="250.2" width="2.80" height="2.80" fill="#e6e3f9"/>
<rect x="476.0" y="250.2" width="2.80" height="2.80" fill="#f4f3fc"/>
<rect x="478.2" y="250.2" width="2.80" height="2.80" fill="#f5f3fc"/>
<rect x="480.4" y="250.2" width="2.80" height="2.80" fill="#ebe9fa"/>
<rect x="487.0" y="250.2" width="2.80" height="2.80" fill="#e8e5f9"/>
<rect x="500.2" y="250.2" width="2.80" height="2.80" fill="#f5f4fc"/>
<rect x="504.6" y="250.2" width="2.80" height="2.80" fill="#e5e2f8"/>
<rect x="377.0" y="252.4" width="2.80" height="2.80" fill="#f6f5fd"/>
<rect x="379.2" y="252.4" width="2.80" height="2.80" fill="#e9e6f9"/>
<rect x="381.4" y="252.4" width="2.80" height="2.80" fill="#e7e4f9"/>
<rect x="392.4" y="252.4" width="2.80" height="2.80" fill="#f3f2fc"/>
<rect x="394.6" y="252.4" width="2.80" height="2.80" fill="#f5f4fc"/>
<rect x="396.8" y="252.4" width="2.80" height="2.80" fill="#ebe9fa"/>
<rect x="401.2" y="252.4" width="2.80" height="2.80" fill="#e5e1f8"/>
<rect x="403.4" y="252.4" width="2.80" height="2.80" fill="#e5e1f8"/>
<rect x="405.6" y="252.4" width="2.80" height="2.80" fill="#e7e4f9"/>
<rect x="407.8" y="252.4" width="2.80" height="2.80" fill="#e5e2f8"/>
<rect x="410.0" y="252.4" width="2.80" height="2.80" fill="#e8e5f9"/>
<rect x="412.2" y="252.4" width="2.80" height="2.80" fill="#f7f6fd"/>
<rect x="414.4" y="252.4" width="2.80" height="2.80" fill="#f5f4fc"/>
<rect x="416.6" y="252.4" width="2.80" height="2.80" fill="#e5e1f8"/>
<rect x="418.8" y="252.4" width="2.80" height="2.80" fill="#e7e4f9"/>
<rect x="429.8" y="252.4" width="2.80" height="2.80" fill="#f5f3fc"/>
<rect x="436.4" y="252.4" width="2.80" height="2.80" fill="#f5f4fc"/>
<rect x="438.6" y="252.4" width="2.80" height="2.80" fill="#e7e4f9"/>
<rect x="443.0" y="252.4" width="2.80" height="2.80" fill="#e7e4f9"/>
<rect x="451.8" y="252.4" width="2.80" height="2.80" fill="#e8e5f9"/>
<rect x="454.0" y="252.4" width="2.80" height="2.80" fill="#f3f2fc"/>
<rect x="462.8" y="252.4" width="2.80" height="2.80" fill="#f6f5fd"/>
<rect x="469.4" y="252.4" width="2.80" height="2.80" fill="#e8e5f9"/>
<rect x="471.6" y="252.4" width="2.80" height="2.80" fill="#f4f2fc"/>
<rect x="473.8" y="252.4" width="2.80" height="2.80" fill="#f4f3fc"/>
<rect x="478.2" y="252.4" width="2.80" height="2.80" fill="#e8e6f9"/>
<rect x="484.8" y="252.4" width="2.80" height="2.80" fill="#f7f6fd"/>
<rect x="487.0" y="252.4" width="2.80" height="2.80" fill="#f6f5fd"/>
<rect x="489.2" y="252.4" width="2.80" height="2.80" fill="#eae8fa"/>
<rect x="493.6" y="252.4" width="2.80" height="2.80" fill="#f5f4fc"/>
<rect x="498.0" y="252.4" width="2.80" height="2.80" fill="#e5e2f9"/>
<rect x="509.0" y="252.4" width="2.80" height="2.80" fill="#f6f5fd"/>
<rect x="377.0" y="254.6" width="2.80" height="2.80" fill="#e7e3f9"/>
<rect x="385.8" y="254.6" width="2.80" height="2.80" fill="#f4f3fc"/>
<rect x="388.0" y="254.6" width="2.80" height="2.80" fill="#e5e2f9"/>
<rect x="390.2" y="254.6" width="2.80" height="2.80" fill="#e7e4f9"/>
<rect x="399.0" y="254.6" width="2.80" height="2.80" fill="#f4f2fc"/>
<rect x="401.2" y="254.6" width="2.80" height="2.80" fill="#f7f6fd"/>
<rect x="403.4" y="254.6" width="2.80" height="2.80" fill="#eae7fa"/>
<rect x="405.6" y="254.6" width="2.80" height="2.80" fill="#f4f3fc"/>
<rect x="410.0" y="254.6" width="2.80" height="2.80" fill="#f7f6fd"/>
<rect x="412.2" y="254.6" width="2.80" height="2.80" fill="#f7f6fd"/>
<rect x="414.4" y="254.6" width="2.80" height="2.80" fill="#f4f3fc"/>
<rect x="421.0" y="254.6" width="2.80" height="2.80" fill="#e4e0f8"/>
<rect x="427.6" y="254.6" width="2.80" height="2.80" fill="#f7f6fd"/>
<rect x="429.8" y="254.6" width="2.80" height="2.80" fill="#e5e1f8"/>
<rect x="434.2" y="254.6" width="2.80" height="2.80" fill="#e7e4f9"/>
<rect x="436.4" y="254.6" width="2.80" height="2.80" fill="#f6f5fd"/>
<rect x="438.6" y="254.6" width="2.80" height="2.80" fill="#e8e5f9"/>
<rect x="443.0" y="254.6" width="2.80" height="2.80" fill="#f3f2fc"/>
<rect x="447.4" y="254.6" width="2.80" height="2.80" fill="#f6f5fd"/>
<rect x="451.8" y="254.6" width="2.80" height="2.80" fill="#f3f2fc"/>
<rect x="454.0" y="254.6" width="2.80" height="2.80" fill="#ebe8fa"/>
<rect x="456.2" y="254.6" width="2.80" height="2.80" fill="#f4f3fc"/>
<rect x="458.4" y="254.6" width="2.80" height="2.80" fill="#ebe9fa"/>
<rect x="462.8" y="254.6" width="2.80" height="2.80" fill="#eae8fa"/>
<rect x="465.0" y="254.6" width="2.80" height="2.80" fill="#e5e2f8"/>
<rect x="469.4" y="254.6" width="2.80" height="2.80" fill="#ebe9fa"/>
<rect x="473.8" y="254.6" width="2.80" height="2.80" fill="#e6e3f9"/>
<rect x="476.0" y="254.6" width="2.80" height="2.80" fill="#e8e5f9"/>
<rect x="478.2" y="254.6" width="2.80" height="2.80" fill="#e9e7f9"/>
<rect x="484.8" y="254.6" width="2.80" height="2.80" fill="#e6e3f9"/>
<rect x="487.0" y="254.6" width="2.80" height="2.80" fill="#e5e1f8"/>
<rect x="489.2" y="254.6" width="2.80" height="2.80" fill="#e5e2f8"/>
<rect x="493.6" y="254.6" width="2.80" height="2.80" fill="#e8e5f9"/>
<rect x="498.0" y="254.6" width="2.80" height="2.80" fill="#e8e5f9"/>
<rect x="500.2" y="254.6" width="2.80" height="2.80" fill="#e8e6f9"/>
<rect x="506.8" y="254.6" width="2.80" height="2.80" fill="#e8e6f9"/>
<rect x="379.2" y="256.8" width="2.80" height="2.80" fill="#e7e4f9"/>
<rect x="381.4" y="256.8" width="2.80" height="2.80" fill="#f7f6fd"/>
<rect x="383.6" y="256.8" width="2.80" height="2.80" fill="#f7f6fd"/>
<rect x="388.0" y="256.8" width="2.80" height="2.80" fill="#f5f4fc"/>
<rect x="390.2" y="256.8" width="2.80" height="2.80" fill="#e7e4f9"/>
<rect x="392.4" y="256.8" width="2.80" height="2.80" fill="#f6f5fd"/>
<rect x="394.6" y="256.8" width="2.80" height="2.80" fill="#e7e3f9"/>
<rect x="396.8" y="256.8" width="2.80" height="2.80" fill="#f3f2fc"/>
<rect x="399.0" y="256.8" width="2.80" height="2.80" fill="#f5f4fc"/>
<rect x="401.2" y="256.8" width="2.80" height="2.80" fill="#e9e7f9"/>
<rect x="412.2" y="256.8" width="2.80" height="2.80" fill="#e5e2f8"/>
<rect x="423.2" y="256.8" width="2.80" height="2.80" fill="#ebe9fa"/>
<rect x="425.4" y="256.8" width="2.80" height="2.80" fill="#f5f4fc"/>
<rect x="427.6" y="256.8" width="2.80" height="2.80" fill="#ebe8fa"/>
<rect x="429.8" y="256.8" width="2.80" height="2.80" fill="#e6e2f9"/>
<rect x="432.0" y="256.8" width="2.80" height="2.80" fill="#e9e7f9"/>
<rect x="438.6" y="256.8" width="2.80" height="2.80" fill="#f5f4fc"/>
<rect x="440.8" y="256.8" width="2.80" height="2.80" fill="#f5f4fc"/>
<rect x="445.2" y="256.8" width="2.80" height="2.80" fill="#e7e3f9"/>
<rect x="447.4" y="256.8" width="2.80" height="2.80" fill="#e7e4f9"/>
<rect x="449.6" y="256.8" width="2.80" height="2.80" fill="#f4f3fc"/>
<rect x="451.8" y="256.8" width="2.80" height="2.80" fill="#eae7f9"/>
<rect x="454.0" y="256.8" width="2.80" height="2.80" fill="#e8e5f9"/>
<rect x="458.4" y="256.8" width="2.80" height="2.80" fill="#e7e4f9"/>
<rect x="460.6" y="256.8" width="2.80" height="2.80" fill="#f4f3fc"/>
<rect x="467.2" y="256.8" width="2.80" height="2.80" fill="#eae8fa"/>
<rect x="473.8" y="256.8" width="2.80" height="2.80" fill="#e7e4f9"/>
<rect x="480.4" y="256.8" width="2.80" height="2.80" fill="#f3f2fc"/>
<rect x="484.8" y="256.8" width="2.80" height="2.80" fill="#eae8fa"/>
<rect x="493.6" y="256.8" width="2.80" height="2.80" fill="#f7f6fd"/>
<rect x="495.8" y="256.8" width="2.80" height="2.80" fill="#e5e1f8"/>
<rect x="502.4" y="256.8" width="2.80" height="2.80" fill="#e5e1f8"/>
<rect x="504.6" y="256.8" width="2.80" height="2.80" fill="#f3f2fc"/>
<rect x="506.8" y="256.8" width="2.80" height="2.80" fill="#f6f5fd"/>
<rect x="509.0" y="256.8" width="2.80" height="2.80" fill="#f4f2fc"/>
<rect x="377.0" y="259.0" width="2.80" height="2.80" fill="#f4f3fc"/>
<rect x="379.2" y="259.0" width="2.80" height="2.80" fill="#e7e4f9"/>
<rect x="383.6" y="259.0" width="2.80" height="2.80" fill="#f6f5fd"/>
<rect x="390.2" y="259.0" width="2.80" height="2.80" fill="#f4f3fc"/>
<rect x="394.6" y="259.0" width="2.80" height="2.80" fill="#e6e3f9"/>
<rect x="403.4" y="259.0" width="2.80" height="2.80" fill="#f5f4fc"/>
<rect x="410.0" y="259.0" width="2.80" height="2.80" fill="#f6f5fd"/>
<rect x="416.6" y="259.0" width="2.80" height="2.80" fill="#eae7f9"/>
<rect x="421.0" y="259.0" width="2.80" height="2.80" fill="#e6e3f9"/>
<rect x="425.4" y="259.0" width="2.80" height="2.80" fill="#f4f3fc"/>
<rect x="427.6" y="259.0" width="2.80" height="2.80" fill="#f4f3fc"/>
<rect x="429.8" y="259.0" width="2.80" height="2.80" fill="#ebe8fa"/>
<rect x="432.0" y="259.0" width="2.80" height="2.80" fill="#e8e5f9"/>
<rect x="434.2" y="259.0" width="2.80" height="2.80" fill="#f6f5fd"/>
<rect x="443.0" y="259.0" width="2.80" height="2.80" fill="#e7e4f9"/>
<rect x="447.4" y="259.0" width="2.80" height="2.80" fill="#eae7f9"/>
<rect x="449.6" y="259.0" width="2.80" height="2.80" fill="#e9e7f9"/>
<rect x="465.0" y="259.0" width="2.80" height="2.80" fill="#f4f3fc"/>
<rect x="467.2" y="259.0" width="2.80" height="2.80" fill="#e8e5f9"/>
<rect x="469.4" y="259.0" width="2.80" height="2.80" fill="#f4f3fc"/>
<rect x="473.8" y="259.0" width="2.80" height="2.80" fill="#e7e4f9"/>
<rect x="476.0" y="259.0" width="2.80" height="2.80" fill="#e4e1f8"/>
<rect x="480.4" y="259.0" width="2.80" height="2.80" fill="#e5e2f8"/>
<rect x="482.6" y="259.0" width="2.80" height="2.80" fill="#f6f6fd"/>
<rect x="484.8" y="259.0" width="2.80" height="2.80" fill="#e5e1f8"/>
<rect x="487.0" y="259.0" width="2.80" height="2.80" fill="#f4f2fc"/>
<rect x="489.2" y="259.0" width="2.80" height="2.80" fill="#f6f6fd"/>
<rect x="491.4" y="259.0" width="2.80" height="2.80" fill="#e9e7f9"/>
<rect x="493.6" y="259.0" width="2.80" height="2.80" fill="#f4f3fc"/>
<rect x="495.8" y="259.0" width="2.80" height="2.80" fill="#e9e7f9"/>
<rect x="498.0" y="259.0" width="2.80" height="2.80" fill="#f7f6fd"/>
<rect x="500.2" y="259.0" width="2.80" height="2.80" fill="#f5f4fc"/>
<rect x="504.6" y="259.0" width="2.80" height="2.80" fill="#f6f5fd"/>
<rect x="377.0" y="261.2" width="2.80" height="2.80" fill="#eae7fa"/>
<rect x="381.4" y="261.2" width="2.80" height="2.80" fill="#e5e1f8"/>
<rect x="383.6" y="261.2" width="2.80" height="2.80" fill="#e7e4f9"/>
<rect x="385.8" y="261.2" width="2.80" height="2.80" fill="#f4f3fc"/>
<rect x="388.0" y="261.2" width="2.80" height="2.80" fill="#e6e2f9"/>
<rect x="390.2" y="261.2" width="2.80" height="2.80" fill="#e6e3f9"/>
<rect x="396.8" y="261.2" width="2.80" height="2.80" fill="#f4f3fc"/>
<rect x="401.2" y="261.2" width="2.80" height="2.80" fill="#f3f2fc"/>
<rect x="403.4" y="261.2" width="2.80" height="2.80" fill="#f4f2fc"/>
<rect x="410.0" y="261.2" width="2.80" height="2.80" fill="#e9e6f9"/>
<rect x="414.4" y="261.2" width="2.80" height="2.80" fill="#e8e5f9"/>
<rect x="416.6" y="261.2" width="2.80" height="2.80" fill="#f6f5fd"/>
<rect x="418.8" y="261.2" width="2.80" height="2.80" fill="#e7e4f9"/>
<rect x="427.6" y="261.2" width="2.80" height="2.80" fill="#ebe8fa"/>
<rect x="432.0" y="261.2" width="2.80" height="2.80" fill="#eae8fa"/>
<rect x="436.4" y="261.2" width="2.80" height="2.80" fill="#f5f4fc"/>
<rect x="440.8" y="261.2" width="2.80" height="2.80" fill="#e9e7f9"/>
<rect x="443.0" y="261.2" width="2.80" height="2.80" fill="#f7f6fd"/>
<rect x="449.6" y="261.2" width="2.80" height="2.80" fill="#eae8fa"/>
<rect x="458.4" y="261.2" width="2.80" height="2.80" fill="#eae7f9"/>
<rect x="460.6" y="261.2" width="2.80" height="2.80" fill="#f6f5fd"/>
<rect x="471.6" y="261.2" width="2.80" height="2.80" fill="#f3f2fc"/>
<rect x="476.0" y="261.2" width="2.80" height="2.80" fill="#e6e3f9"/>
<rect x="480.4" y="261.2" width="2.80" height="2.80" fill="#e7e3f9"/>
<rect x="482.6" y="261.2" width="2.80" height="2.80" fill="#eae7fa"/>
<rect x="489.2" y="261.2" width="2.80" height="2.80" fill="#f7f6fd"/>
<rect x="491.4" y="261.2" width="2.80" height="2.80" fill="#e5e2f9"/>
<rect x="495.8" y="261.2" width="2.80" height="2.80" fill="#f5f4fc"/>
<rect x="506.8" y="261.2" width="2.80" height="2.80" fill="#e6e3f9"/>
<rect x="377.0" y="263.4" width="2.80" height="2.80" fill="#f6f5fd"/>
<rect x="379.2" y="263.4" width="2.80" height="2.80" fill="#e8e5f9"/>
<rect x="381.4" y="263.4" width="2.80" height="2.80" fill="#e7e3f9"/>
<rect x="385.8" y="263.4" width="2.80" height="2.80" fill="#eae8fa"/>
<rect x="388.0" y="263.4" width="2.80" height="2.80" fill="#e7e4f9"/>
<rect x="390.2" y="263.4" width="2.80" height="2.80" fill="#e7e3f9"/>
<rect x="392.4" y="263.4" width="2.80" height="2.80" fill="#f6f5fd"/>
<rect x="394.6" y="263.4" width="2.80" height="2.80" fill="#e8e5f9"/>
<rect x="399.0" y="263.4" width="2.80" height="2.80" fill="#e8e6f9"/>
<rect x="401.2" y="263.4" width="2.80" height="2.80" fill="#ebe9fa"/>
<rect x="405.6" y="263.4" width="2.80" height="2.80" fill="#e6e3f9"/>
<rect x="407.8" y="263.4" width="2.80" height="2.80" fill="#e8e6f9"/>
<rect x="410.0" y="263.4" width="2.80" height="2.80" fill="#e4e0f8"/>
<rect x="412.2" y="263.4" width="2.80" height="2.80" fill="#e5e1f8"/>
<rect x="416.6" y="263.4" width="2.80" height="2.80" fill="#eae7fa"/>
<rect x="427.6" y="263.4" width="2.80" height="2.80" fill="#f3f2fc"/>
<rect x="432.0" y="263.4" width="2.80" height="2.80" fill="#e7e4f9"/>
<rect x="434.2" y="263.4" width="2.80" height="2.80" fill="#e7e4f9"/>
<rect x="436.4" y="263.4" width="2.80" height="2.80" fill="#ebe8fa"/>
<rect x="438.6" y="263.4" width="2.80" height="2.80" fill="#ebe9fa"/>
<rect x="447.4" y="263.4" width="2.80" height="2.80" fill="#f7f6fd"/>
<rect x="451.8" y="263.4" width="2.80" height="2.80" fill="#e5e1f8"/>
<rect x="454.0" y="263.4" width="2.80" height="2.80" fill="#f4f2fc"/>
<rect x="458.4" y="263.4" width="2.80" height="2.80" fill="#f6f5fd"/>
<rect x="462.8" y="263.4" width="2.80" height="2.80" fill="#e8e5f9"/>
<rect x="465.0" y="263.4" width="2.80" height="2.80" fill="#f7f6fd"/>
<rect x="467.2" y="263.4" width="2.80" height="2.80" fill="#e8e6f9"/>
<rect x="469.4" y="263.4" width="2.80" height="2.80" fill="#e8e6f9"/>
<rect x="471.6" y="263.4" width="2.80" height="2.80" fill="#e7e4f9"/>
<rect x="476.0" y="263.4" width="2.80" height="2.80" fill="#e6e2f9"/>
<rect x="482.6" y="263.4" width="2.80" height="2.80" fill="#e5e2f8"/>
<rect x="489.2" y="263.4" width="2.80" height="2.80" fill="#f5f4fc"/>
<rect x="491.4" y="263.4" width="2.80" height="2.80" fill="#f7f6fd"/>
<rect x="495.8" y="263.4" width="2.80" height="2.80" fill="#f5f4fc"/>
<rect x="498.0" y="263.4" width="2.80" height="2.80" fill="#e8e5f9"/>
<rect x="502.4" y="263.4" width="2.80" height="2.80" fill="#e5e1f8"/>
<rect x="506.8" y="263.4" width="2.80" height="2.80" fill="#f4f3fc"/>
<rect x="509.0" y="263.4" width="2.80" height="2.80" fill="#eae8fa"/>
<rect x="381.4" y="265.6" width="2.80" height="2.80" fill="#f6f5fd"/>
<rect x="383.6" y="265.6" width="2.80" height="2.80" fill="#e8e5f9"/>
<rect x="385.8" y="265.6" width="2.80" height="2.80" fill="#e9e6f9"/>
<rect x="390.2" y="265.6" width="2.80" height="2.80" fill="#ebe9fa"/>
<rect x="394.6" y="265.6" width="2.80" height="2.80" fill="#f5f4fc"/>
<rect x="399.0" y="265.6" width="2.80" height="2.80" fill="#eae7f9"/>
<rect x="403.4" y="265.6" width="2.80" height="2.80" fill="#f5f4fc"/>
<rect x="410.0" y="265.6" width="2.80" height="2.80" fill="#f7f6fd"/>
<rect x="412.2" y="265.6" width="2.80" height="2.80" fill="#f6f5fd"/>
<rect x="416.6" y="265.6" width="2.80" height="2.80" fill="#f5f4fc"/>
<rect x="418.8" y="265.6" width="2.80" height="2.80" fill="#e6e3f9"/>
<rect x="421.0" y="265.6" width="2.80" height="2.80" fill="#f5f4fc"/>
<rect x="423.2" y="265.6" width="2.80" height="2.80" fill="#eae7f9"/>
<rect x="425.4" y="265.6" width="2.80" height="2.80" fill="#e9e6f9"/>
<rect x="432.0" y="265.6" width="2.80" height="2.80" fill="#e4e0f8"/>
<rect x="438.6" y="265.6" width="2.80" height="2.80" fill="#e5e1f8"/>
<rect x="443.0" y="265.6" width="2.80" height="2.80" fill="#e5e1f8"/>
<rect x="454.0" y="265.6" width="2.80" height="2.80" fill="#e7e3f9"/>
<rect x="456.2" y="265.6" width="2.80" height="2.80" fill="#ebe9fa"/>
<rect x="458.4" y="265.6" width="2.80" height="2.80" fill="#f4f3fc"/>
<rect x="460.6" y="265.6" width="2.80" height="2.80" fill="#e4e0f8"/>
<rect x="462.8" y="265.6" width="2.80" height="2.80" fill="#eae8fa"/>
<rect x="467.2" y="265.6" width="2.80" height="2.80" fill="#e7e4f9"/>
<rect x="469.4" y="265.6" width="2.80" height="2.80" fill="#f5f4fc"/>
<rect x="473.8" y="265.6" width="2.80" height="2.80" fill="#e9e6f9"/>
<rect x="476.0" y="265.6" width="2.80" height="2.80" fill="#e9e6f9"/>
<rect x="480.4" y="265.6" width="2.80" height="2.80" fill="#f6f5fd"/>
<rect x="498.0" y="265.6" width="2.80" height="2.80" fill="#e6e3f9"/>
<rect x="504.6" y="265.6" width="2.80" height="2.80" fill="#f4f3fc"/>
<rect x="506.8" y="265.6" width="2.80" height="2.80" fill="#f5f4fc"/>
<rect x="509.0" y="265.6" width="2.80" height="2.80" fill="#e7e4f9"/>
<rect x="377.0" y="267.8" width="2.80" height="2.80" fill="#e6e2f9"/>
<rect x="379.2" y="267.8" width="2.80" height="2.80" fill="#f5f4fc"/>
<rect x="383.6" y="267.8" width="2.80" height="2.80" fill="#e6e3f9"/>
<rect x="385.8" y="267.8" width="2.80" height="2.80" fill="#e7e4f9"/>
<rect x="388.0" y="267.8" width="2.80" height="2.80" fill="#e4e1f8"/>
<rect x="390.2" y="267.8" width="2.80" height="2.80" fill="#e4e0f8"/>
<rect x="394.6" y="267.8" width="2.80" height="2.80" fill="#f6f5fd"/>
<rect x="401.2" y="267.8" width="2.80" height="2.80" fill="#f7f6fd"/>
<rect x="407.8" y="267.8" width="2.80" height="2.80" fill="#ebe9fa"/>
<rect x="410.0" y="267.8" width="2.80" height="2.80" fill="#f4f3fc"/>
<rect x="412.2" y="267.8" width="2.80" height="2.80" fill="#f5f4fc"/>
<rect x="416.6" y="267.8" width="2.80" height="2.80" fill="#f5f4fc"/>
<rect x="418.8" y="267.8" width="2.80" height="2.80" fill="#f5f4fc"/>
<rect x="421.0" y="267.8" width="2.80" height="2.80" fill="#f5f4fc"/>
<rect x="423.2" y="267.8" width="2.80" height="2.80" fill="#e8e6f9"/>
<rect x="425.4" y="267.8" width="2.80" height="2.80" fill="#e7e3f9"/>
<rect x="427.6" y="267.8" width="2.80" height="2.80" fill="#f6f5fd"/>
<rect x="429.8" y="267.8" width="2.80" height="2.80" fill="#e8e5f9"/>
<rect x="432.0" y="267.8" width="2.80" height="2.80" fill="#e7e4f9"/>
<rect x="438.6" y="267.8" width="2.80" height="2.80" fill="#e8e5f9"/>
<rect x="440.8" y="267.8" width="2.80" height="2.80" fill="#f6f5fd"/>
<rect x="443.0" y="267.8" width="2.80" height="2.80" fill="#f6f5fd"/>
<rect x="445.2" y="267.8" width="2.80" height="2.80" fill="#e5e1f8"/>
<rect x="447.4" y="267.8" width="2.80" height="2.80" fill="#f3f2fc"/>
<rect x="449.6" y="267.8" width="2.80" height="2.80" fill="#e6e2f9"/>
<rect x="451.8" y="267.8" width="2.80" height="2.80" fill="#e9e7f9"/>
<rect x="454.0" y="267.8" width="2.80" height="2.80" fill="#f6f5fd"/>
<rect x="456.2" y="267.8" width="2.80" height="2.80" fill="#f5f4fc"/>
<rect x="460.6" y="267.8" width="2.80" height="2.80" fill="#f5f3fc"/>
<rect x="471.6" y="267.8" width="2.80" height="2.80" fill="#f3f2fc"/>
<rect x="473.8" y="267.8" width="2.80" height="2.80" fill="#e7e4f9"/>
<rect x="478.2" y="267.8" width="2.80" height="2.80" fill="#ebe9fa"/>
<rect x="482.6" y="267.8" width="2.80" height="2.80" fill="#f6f5fd"/>
<rect x="484.8" y="267.8" width="2.80" height="2.80" fill="#e6e3f9"/>
<rect x="487.0" y="267.8" width="2.80" height="2.80" fill="#e9e6f9"/>
<rect x="495.8" y="267.8" width="2.80" height="2.80" fill="#e9e7f9"/>
<rect x="504.6" y="267.8" width="2.80" height="2.80" fill="#f3f2fc"/>
<rect x="506.8" y="267.8" width="2.80" height="2.80" fill="#f7f6fd"/>
<rect x="377.0" y="270.0" width="2.80" height="2.80" fill="#e7e4f9"/>
<rect x="379.2" y="270.0" width="2.80" height="2.80" fill="#eae8fa"/>
<rect x="381.4" y="270.0" width="2.80" height="2.80" fill="#f3f2fc"/>
<rect x="394.6" y="270.0" width="2.80" height="2.80" fill="#ebe9fa"/>
<rect x="396.8" y="270.0" width="2.80" height="2.80" fill="#e7e3f9"/>
<rect x="401.2" y="270.0" width="2.80" height="2.80" fill="#e9e6f9"/>
<rect x="403.4" y="270.0" width="2.80" height="2.80" fill="#ebe9fa"/>
<rect x="405.6" y="270.0" width="2.80" height="2.80" fill="#f5f4fc"/>
<rect x="418.8" y="270.0" width="2.80" height="2.80" fill="#e4e0f8"/>
<rect x="421.0" y="270.0" width="2.80" height="2.80" fill="#eae7fa"/>
<rect x="425.4" y="270.0" width="2.80" height="2.80" fill="#ebe8fa"/>
<rect x="427.6" y="270.0" width="2.80" height="2.80" fill="#e6e2f9"/>
<rect x="429.8" y="270.0" width="2.80" height="2.80" fill="#f4f3fc"/>
<rect x="434.2" y="270.0" width="2.80" height="2.80" fill="#e5e1f8"/>
<rect x="438.6" y="270.0" width="2.80" height="2.80" fill="#e7e3f9"/>
<rect x="440.8" y="270.0" width="2.80" height="2.80" fill="#e8e5f9"/>
<rect x="445.2" y="270.0" width="2.80" height="2.80" fill="#f5f3fc"/>
<rect x="447.4" y="270.0" width="2.80" height="2.80" fill="#e8e5f9"/>
<rect x="456.2" y="270.0" width="2.80" height="2.80" fill="#eae7fa"/>
<rect x="458.4" y="270.0" width="2.80" height="2.80" fill="#e6e3f9"/>
<rect x="460.6" y="270.0" width="2.80" height="2.80" fill="#e6e2f9"/>
<rect x="462.8" y="270.0" width="2.80" height="2.80" fill="#e9e6f9"/>
<rect x="465.0" y="270.0" width="2.80" height="2.80" fill="#f4f3fc"/>
<rect x="469.4" y="270.0" width="2.80" height="2.80" fill="#f7f6fd"/>
<rect x="471.6" y="270.0" width="2.80" height="2.80" fill="#f4f2fc"/>
<rect x="476.0" y="270.0" width="2.80" height="2.80" fill="#f4f3fc"/>
<rect x="480.4" y="270.0" width="2.80" height="2.80" fill="#f5f4fc"/>
<rect x="489.2" y="270.0" width="2.80" height="2.80" fill="#ebe9fa"/>
<rect x="493.6" y="270.0" width="2.80" height="2.80" fill="#f7f6fd"/>
<rect x="495.8" y="270.0" width="2.80" height="2.80" fill="#e7e4f9"/>
<rect x="498.0" y="270.0" width="2.80" height="2.80" fill="#e9e7f9"/>
<rect x="500.2" y="270.0" width="2.80" height="2.80" fill="#e7e3f9"/>
<rect x="506.8" y="270.0" width="2.80" height="2.80" fill="#ebe8fa"/>
<rect x="509.0" y="270.0" width="2.80" height="2.80" fill="#f4f3fc"/>
<rect x="377.0" y="272.2" width="2.80" height="2.80" fill="#e4e1f8"/>
<rect x="383.6" y="272.2" width="2.80" height="2.80" fill="#f6f5fd"/>
<rect x="390.2" y="272.2" width="2.80" height="2.80" fill="#e4e0f8"/>
<rect x="392.4" y="272.2" width="2.80" height="2.80" fill="#f4f3fc"/>
<rect x="396.8" y="272.2" width="2.80" height="2.80" fill="#f5f4fc"/>
<rect x="399.0" y="272.2" width="2.80" height="2.80" fill="#e4e0f8"/>
<rect x="401.2" y="272.2" width="2.80" height="2.80" fill="#e9e7f9"/>
<rect x="403.4" y="272.2" width="2.80" height="2.80" fill="#e8e5f9"/>
<rect x="405.6" y="272.2" width="2.80" height="2.80" fill="#e9e6f9"/>
<rect x="407.8" y="272.2" width="2.80" height="2.80" fill="#f4f2fc"/>
<rect x="412.2" y="272.2" width="2.80" height="2.80" fill="#f6f5fd"/>
<rect x="416.6" y="272.2" width="2.80" height="2.80" fill="#f5f4fc"/>
<rect x="418.8" y="272.2" width="2.80" height="2.80" fill="#f3f2fc"/>
<rect x="421.0" y="272.2" width="2.80" height="2.80" fill="#f4f3fc"/>
<rect x="423.2" y="272.2" width="2.80" height="2.80" fill="#e5e2f9"/>
<rect x="425.4" y="272.2" width="2.80" height="2.80" fill="#e8e5f9"/>
<rect x="429.8" y="272.2" width="2.80" height="2.80" fill="#e4e0f8"/>
<rect x="432.0" y="272.2" width="2.80" height="2.80" fill="#f4f3fc"/>
<rect x="434.2" y="272.2" width="2.80" height="2.80" fill="#f4f3fc"/>
<rect x="438.6" y="272.2" width="2.80" height="2.80" fill="#e8e5f9"/>
<rect x="440.8" y="272.2" width="2.80" height="2.80" fill="#f5f4fc"/>
<rect x="443.0" y="272.2" width="2.80" height="2.80" fill="#e8e5f9"/>
<rect x="447.4" y="272.2" width="2.80" height="2.80" fill="#e8e5f9"/>
<rect x="451.8" y="272.2" width="2.80" height="2.80" fill="#f6f5fd"/>
<rect x="454.0" y="272.2" width="2.80" height="2.80" fill="#f5f4fc"/>
<rect x="456.2" y="272.2" width="2.80" height="2.80" fill="#eae7f9"/>
<rect x="460.6" y="272.2" width="2.80" height="2.80" fill="#e9e6f9"/>
<rect x="462.8" y="272.2" width="2.80" height="2.80" fill="#f3f2fc"/>
<rect x="469.4" y="272.2" width="2.80" height="2.80" fill="#e7e4f9"/>
<rect x="471.6" y="272.2" width="2.80" height="2.80" fill="#eae7fa"/>
<rect x="473.8" y="272.2" width="2.80" height="2.80" fill="#f4f3fc"/>
<rect x="476.0" y="272.2" width="2.80" height="2.80" fill="#e9e7f9"/>
<rect x="478.2" y="272.2" width="2.80" height="2.80" fill="#f6f5fd"/>
<rect x="484.8" y="272.2" width="2.80" height="2.80" fill="#e9e6f9"/>
<rect x="487.0" y="272.2" width="2.80" height="2.80" fill="#eae7f9"/>
<rect x="489.2" y="272.2" width="2.80" height="2.80" fill="#eae8fa"/>
<rect x="491.4" y="272.2" width="2.80" height="2.80" fill="#f3f2fc"/>
<rect x="493.6" y="272.2" width="2.80" height="2.80" fill="#f6f5fd"/>
<rect x="498.0" y="272.2" width="2.80" height="2.80" fill="#eae8fa"/>
<rect x="500.2" y="272.2" width="2.80" height="2.80" fill="#f7f6fd"/>
<rect x="502.4" y="272.2" width="2.80" height="2.80" fill="#e7e4f9"/>
<rect x="504.6" y="272.2" width="2.80" height="2.80" fill="#e6e2f9"/>
<rect x="377.0" y="274.4" width="2.80" height="2.80" fill="#eae8fa"/>
<rect x="379.2" y="274.4" width="2.80" height="2.80" fill="#e4e0f8"/>
<rect x="381.4" y="274.4" width="2.80" height="2.80" fill="#eae8fa"/>
<rect x="385.8" y="274.4" width="2.80" height="2.80" fill="#e7e4f9"/>
<rect x="390.2" y="274.4" width="2.80" height="2.80" fill="#f5f4fc"/>
<rect x="405.6" y="274.4" width="2.80" height="2.80" fill="#e8e5f9"/>
<rect x="407.8" y="274.4" width="2.80" height="2.80" fill="#e5e1f8"/>
<rect x="412.2" y="274.4" width="2.80" height="2.80" fill="#e6e2f9"/>
<rect x="414.4" y="274.4" width="2.80" height="2.80" fill="#f4f2fc"/>
<rect x="418.8" y="274.4" width="2.80" height="2.80" fill="#e8e5f9"/>
<rect x="421.0" y="274.4" width="2.80" height="2.80" fill="#e7e4f9"/>
<rect x="427.6" y="274.4" width="2.80" height="2.80" fill="#e2def8"/>
<rect x="429.8" y="274.4" width="2.80" height="2.80" fill="#e9e7f9"/>
<rect x="432.0" y="274.4" width="2.80" height="2.80" fill="#e8e5f9"/>
<rect x="438.6" y="274.4" width="2.80" height="2.80" fill="#eae8fa"/>
<rect x="443.0" y="274.4" width="2.80" height="2.80" fill="#e3dff8"/>
<rect x="445.2" y="274.4" width="2.80" height="2.80" fill="#e8e5f9"/>
<rect x="447.4" y="274.4" width="2.80" height="2.80" fill="#e6e3f9"/>
<rect x="449.6" y="274.4" width="2.80" height="2.80" fill="#eae8fa"/>
<rect x="451.8" y="274.4" width="2.80" height="2.80" fill="#e6e3f9"/>
<rect x="456.2" y="274.4" width="2.80" height="2.80" fill="#e1dcf7"/>
<rect x="458.4" y="274.4" width="2.80" height="2.80" fill="#eae7fa"/>
<rect x="460.6" y="274.4" width="2.80" height="2.80" fill="#e9e7f9"/>
<rect x="467.2" y="274.4" width="2.80" height="2.80" fill="#e7e4f9"/>
<rect x="469.4" y="274.4" width="2.80" height="2.80" fill="#e7e3f9"/>
<rect x="471.6" y="274.4" width="2.80" height="2.80" fill="#e8e5f9"/>
<rect x="478.2" y="274.4" width="2.80" height="2.80" fill="#e6e2f9"/>
<rect x="480.4" y="274.4" width="2.80" height="2.80" fill="#e9e6f9"/>
<rect x="482.6" y="274.4" width="2.80" height="2.80" fill="#e3dff8"/>
<rect x="487.0" y="274.4" width="2.80" height="2.80" fill="#e6e2f9"/>
<rect x="489.2" y="274.4" width="2.80" height="2.80" fill="#f4f3fc"/>
<rect x="491.4" y="274.4" width="2.80" height="2.80" fill="#e9e7f9"/>
<rect x="495.8" y="274.4" width="2.80" height="2.80" fill="#f4f3fc"/>
<rect x="500.2" y="274.4" width="2.80" height="2.80" fill="#eae7f9"/>
<rect x="502.4" y="274.4" width="2.80" height="2.80" fill="#e5e2f8"/>
<rect x="504.6" y="274.4" width="2.80" height="2.80" fill="#f4f3fc"/>
<rect x="509.0" y="274.4" width="2.80" height="2.80" fill="#e7e4f9"/>
<rect x="379.2" y="276.6" width="2.80" height="2.80" fill="#e2ddf8"/>
<rect x="381.4" y="276.6" width="2.80" height="2.80" fill="#e1dcf7"/>
<rect x="394.6" y="276.6" width="2.80" height="2.80" fill="#e6e2f9"/>
<rect x="396.8" y="276.6" width="2.80" height="2.80" fill="#e1dcf7"/>
<rect x="399.0" y="276.6" width="2.80" height="2.80" fill="#e9e6f9"/>
<rect x="401.2" y="276.6" width="2.80" height="2.80" fill="#e0dcf7"/>
<rect x="405.6" y="276.6" width="2.80" height="2.80" fill="#e7e4f9"/>
<rect x="407.8" y="276.6" width="2.80" height="2.80" fill="#f3f2fc"/>
<rect x="416.6" y="276.6" width="2.80" height="2.80" fill="#e3e0f8"/>
<rect x="423.2" y="276.6" width="2.80" height="2.80" fill="#eae7f9"/>
<rect x="425.4" y="276.6" width="2.80" height="2.80" fill="#e9e6f9"/>
<rect x="429.8" y="276.6" width="2.80" height="2.80" fill="#ebe9fa"/>
<rect x="432.0" y="276.6" width="2.80" height="2.80" fill="#ded9f7"/>
<rect x="434.2" y="276.6" width="2.80" height="2.80" fill="#e4e0f8"/>
<rect x="436.4" y="276.6" width="2.80" height="2.80" fill="#ebe8fa"/>
<rect x="438.6" y="276.6" width="2.80" height="2.80" fill="#e2def8"/>
<rect x="440.8" y="276.6" width="2.80" height="2.80" fill="#e5e1f8"/>
<rect x="443.0" y="276.6" width="2.80" height="2.80" fill="#d7d0f5"/>
<rect x="447.4" y="276.6" width="2.80" height="2.80" fill="#e9e6f9"/>
<rect x="451.8" y="276.6" width="2.80" height="2.80" fill="#e1dcf7"/>
<rect x="454.0" y="276.6" width="2.80" height="2.80" fill="#d8d1f5"/>
<rect x="456.2" y="276.6" width="2.80" height="2.80" fill="#dcd6f6"/>
<rect x="458.4" y="276.6" width="2.80" height="2.80" fill="#eae8fa"/>
<rect x="460.6" y="276.6" width="2.80" height="2.80" fill="#e1dcf8"/>
<rect x="462.8" y="276.6" width="2.80" height="2.80" fill="#e5e1f8"/>
<rect x="465.0" y="276.6" width="2.80" height="2.80" fill="#d7d1f5"/>
<rect x="467.2" y="276.6" width="2.80" height="2.80" fill="#ddd8f7"/>
<rect x="469.4" y="276.6" width="2.80" height="2.80" fill="#dfdbf7"/>
<rect x="471.6" y="276.6" width="2.80" height="2.80" fill="#e7e4f9"/>
<rect x="473.8" y="276.6" width="2.80" height="2.80" fill="#e3dff8"/>
<rect x="476.0" y="276.6" width="2.80" height="2.80" fill="#e1ddf8"/>
<rect x="478.2" y="276.6" width="2.80" height="2.80" fill="#e4e1f8"/>
<rect x="480.4" y="276.6" width="2.80" height="2.80" fill="#e0dcf7"/>
<rect x="482.6" y="276.6" width="2.80" height="2.80" fill="#ebe8fa"/>
<rect x="484.8" y="276.6" width="2.80" height="2.80" fill="#e3e0f8"/>
<rect x="487.0" y="276.6" width="2.80" height="2.80" fill="#d7d0f5"/>
<rect x="489.2" y="276.6" width="2.80" height="2.80" fill="#e4e0f8"/>
<rect x="491.4" y="276.6" width="2.80" height="2.80" fill="#e3dff8"/>
<rect x="493.6" y="276.6" width="2.80" height="2.80" fill="#e0dbf7"/>
<rect x="495.8" y="276.6" width="2.80" height="2.80" fill="#e1ddf8"/>
<rect x="498.0" y="276.6" width="2.80" height="2.80" fill="#e5e1f8"/>
<rect x="502.4" y="276.6" width="2.80" height="2.80" fill="#e6e2f9"/>
<rect x="506.8" y="276.6" width="2.80" height="2.80" fill="#e8e5f9"/>
<rect x="381.4" y="278.8" width="2.80" height="2.80" fill="#e9e6f9"/>
<rect x="383.6" y="278.8" width="2.80" height="2.80" fill="#e1dcf7"/>
<rect x="388.0" y="278.8" width="2.80" height="2.80" fill="#ded8f7"/>
<rect x="392.4" y="278.8" width="2.80" height="2.80" fill="#dcd6f6"/>
<rect x="394.6" y="278.8" width="2.80" height="2.80" fill="#dcd6f6"/>
<rect x="396.8" y="278.8" width="2.80" height="2.80" fill="#e3dff8"/>
<rect x="399.0" y="278.8" width="2.80" height="2.80" fill="#ded9f7"/>
<rect x="401.2" y="278.8" width="2.80" height="2.80" fill="#dcd7f6"/>
<rect x="403.4" y="278.8" width="2.80" height="2.80" fill="#e7e4f9"/>
<rect x="405.6" y="278.8" width="2.80" height="2.80" fill="#ded9f7"/>
<rect x="410.0" y="278.8" width="2.80" height="2.80" fill="#e0dbf7"/>
<rect x="412.2" y="278.8" width="2.80" height="2.80" fill="#e3def8"/>
<rect x="414.4" y="278.8" width="2.80" height="2.80" fill="#e0dbf7"/>
<rect x="421.0" y="278.8" width="2.80" height="2.80" fill="#e5e2f9"/>
<rect x="423.2" y="278.8" width="2.80" height="2.80" fill="#e4e0f8"/>
<rect x="425.4" y="278.8" width="2.80" height="2.80" fill="#dfdaf7"/>
<rect x="427.6" y="278.8" width="2.80" height="2.80" fill="#e0dbf7"/>
<rect x="429.8" y="278.8" width="2.80" height="2.80" fill="#cec6f3"/>
<rect x="432.0" y="278.8" width="2.80" height="2.80" fill="#c0b6ef"/>
<rect x="434.2" y="278.8" width="2.80" height="2.80" fill="#d4ccf5"/>
<rect x="436.4" y="278.8" width="2.80" height="2.80" fill="#c6bcf1"/>
<rect x="438.6" y="278.8" width="2.80" height="2.80" fill="#c0b6ef"/>
<rect x="440.8" y="278.8" width="2.80" height="2.80" fill="#cac1f3"/>
<rect x="443.0" y="278.8" width="2.80" height="2.80" fill="#d0c7f4"/>
<rect x="445.2" y="278.8" width="2.80" height="2.80" fill="#d0c8f4"/>
<rect x="447.4" y="278.8" width="2.80" height="2.80" fill="#cfc7f4"/>
<rect x="449.6" y="278.8" width="2.80" height="2.80" fill="#d7d0f5"/>
<rect x="451.8" y="278.8" width="2.80" height="2.80" fill="#d8d1f5"/>
<rect x="454.0" y="278.8" width="2.80" height="2.80" fill="#d3ccf4"/>
<rect x="456.2" y="278.8" width="2.80" height="2.80" fill="#d5cef5"/>
<rect x="458.4" y="278.8" width="2.80" height="2.80" fill="#c3b9f0"/>
<rect x="460.6" y="278.8" width="2.80" height="2.80" fill="#d1c9f4"/>
<rect x="462.8" y="278.8" width="2.80" height="2.80" fill="#c4baf1"/>
<rect x="465.0" y="278.8" width="2.80" height="2.80" fill="#cdc4f3"/>
<rect x="467.2" y="278.8" width="2.80" height="2.80" fill="#c3b9f0"/>
<rect x="469.4" y="278.8" width="2.80" height="2.80" fill="#c3b9f0"/>
<rect x="471.6" y="278.8" width="2.80" height="2.80" fill="#cac0f2"/>
<rect x="473.8" y="278.8" width="2.80" height="2.80" fill="#cfc7f4"/>
<rect x="476.0" y="278.8" width="2.80" height="2.80" fill="#d4cdf5"/>
<rect x="478.2" y="278.8" width="2.80" height="2.80" fill="#cdc4f3"/>
<rect x="480.4" y="278.8" width="2.80" height="2.80" fill="#d2cbf4"/>
<rect x="482.6" y="278.8" width="2.80" height="2.80" fill="#c6bcf1"/>
<rect x="484.8" y="278.8" width="2.80" height="2.80" fill="#d8d2f6"/>
<rect x="487.0" y="278.8" width="2.80" height="2.80" fill="#cbc2f3"/>
<rect x="489.2" y="278.8" width="2.80" height="2.80" fill="#d2caf4"/>
<rect x="491.4" y="278.8" width="2.80" height="2.80" fill="#d4ccf5"/>
<rect x="493.6" y="278.8" width="2.80" height="2.80" fill="#d8d2f6"/>
<rect x="495.8" y="278.8" width="2.80" height="2.80" fill="#d6cff5"/>
<rect x="498.0" y="278.8" width="2.80" height="2.80" fill="#dad5f6"/>
<rect x="500.2" y="278.8" width="2.80" height="2.80" fill="#e9e6f9"/>
<rect x="502.4" y="278.8" width="2.80" height="2.80" fill="#dcd6f6"/>
<rect x="504.6" y="278.8" width="2.80" height="2.80" fill="#dcd6f6"/>
<rect x="506.8" y="278.8" width="2.80" height="2.80" fill="#e5e2f9"/>
<rect x="509.0" y="278.8" width="2.80" height="2.80" fill="#e4e1f8"/>
<rect x="377.0" y="281.0" width="2.80" height="2.80" fill="#eae7f9"/>
<rect x="379.2" y="281.0" width="2.80" height="2.80" fill="#ddd7f7"/>
<rect x="381.4" y="281.0" width="2.80" height="2.80" fill="#e3dff8"/>
<rect x="383.6" y="281.0" width="2.80" height="2.80" fill="#ddd8f7"/>
<rect x="385.8" y="281.0" width="2.80" height="2.80" fill="#dad4f6"/>
<rect x="388.0" y="281.0" width="2.80" height="2.80" fill="#e0dcf7"/>
<rect x="390.2" y="281.0" width="2.80" height="2.80" fill="#dfdaf7"/>
<rect x="392.4" y="281.0" width="2.80" height="2.80" fill="#e2def8"/>
<rect x="396.8" y="281.0" width="2.80" height="2.80" fill="#e4e0f8"/>
<rect x="401.2" y="281.0" width="2.80" height="2.80" fill="#eae8fa"/>
<rect x="403.4" y="281.0" width="2.80" height="2.80" fill="#d9d2f6"/>
<rect x="405.6" y="281.0" width="2.80" height="2.80" fill="#e6e2f9"/>
<rect x="410.0" y="281.0" width="2.80" height="2.80" fill="#e5e1f8"/>
<rect x="414.4" y="281.0" width="2.80" height="2.80" fill="#e1dcf7"/>
<rect x="416.6" y="281.0" width="2.80" height="2.80" fill="#e9e6f9"/>
<rect x="418.8" y="281.0" width="2.80" height="2.80" fill="#e9e7f9"/>
<rect x="421.0" y="281.0" width="2.80" height="2.80" fill="#e0dbf7"/>
<rect x="423.2" y="281.0" width="2.80" height="2.80" fill="#dad4f6"/>
<rect x="425.4" y="281.0" width="2.80" height="2.80" fill="#eae7f9"/>
<rect x="427.6" y="281.0" width="2.80" height="2.80" fill="#cbc2f3"/>
<rect x="429.8" y="281.0" width="2.80" height="2.80" fill="#b8aded"/>
<rect x="432.0" y="281.0" width="2.80" height="2.80" fill="#b7adec"/>
<rect x="434.2" y="281.0" width="2.80" height="2.80" fill="#bab0ed"/>
<rect x="436.4" y="281.0" width="2.80" height="2.80" fill="#cac1f2"/>
<rect x="438.6" y="281.0" width="2.80" height="2.80" fill="#bdb3ee"/>
<rect x="440.8" y="281.0" width="2.80" height="2.80" fill="#b6abec"/>
<rect x="443.0" y="281.0" width="2.80" height="2.80" fill="#beb4ef"/>
<rect x="445.2" y="281.0" width="2.80" height="2.80" fill="#a196e5"/>
<rect x="447.4" y="281.0" width="2.80" height="2.80" fill="#beb4ef"/>
<rect x="449.6" y="281.0" width="2.80" height="2.80" fill="#a89de7"/>
<rect x="451.8" y="281.0" width="2.80" height="2.80" fill="#a99ee8"/>
<rect x="454.0" y="281.0" width="2.80" height="2.80" fill="#aa9fe8"/>
<rect x="456.2" y="281.0" width="2.80" height="2.80" fill="#b7adec"/>
<rect x="458.4" y="281.0" width="2.80" height="2.80" fill="#b7acec"/>
<rect x="460.6" y="281.0" width="2.80" height="2.80" fill="#a89de7"/>
<rect x="462.8" y="281.0" width="2.80" height="2.80" fill="#c8bef2"/>
<rect x="465.0" y="281.0" width="2.80" height="2.80" fill="#c3b9f0"/>
<rect x="467.2" y="281.0" width="2.80" height="2.80" fill="#cac1f2"/>
<rect x="469.4" y="281.0" width="2.80" height="2.80" fill="#b7adec"/>
<rect x="471.6" y="281.0" width="2.80" height="2.80" fill="#b9aeed"/>
<rect x="473.8" y="281.0" width="2.80" height="2.80" fill="#a398e6"/>
<rect x="476.0" y="281.0" width="2.80" height="2.80" fill="#a499e6"/>
<rect x="478.2" y="281.0" width="2.80" height="2.80" fill="#bbb1ee"/>
<rect x="480.4" y="281.0" width="2.80" height="2.80" fill="#b7acec"/>
<rect x="482.6" y="281.0" width="2.80" height="2.80" fill="#c8bef2"/>
<rect x="484.8" y="281.0" width="2.80" height="2.80" fill="#aca1e9"/>
<rect x="487.0" y="281.0" width="2.80" height="2.80" fill="#b6abec"/>
<rect x="489.2" y="281.0" width="2.80" height="2.80" fill="#c6bcf1"/>
<rect x="491.4" y="281.0" width="2.80" height="2.80" fill="#b1a7ea"/>
<rect x="493.6" y="281.0" width="2.80" height="2.80" fill="#dad4f6"/>
<rect x="495.8" y="281.0" width="2.80" height="2.80" fill="#e2ddf8"/>
<rect x="498.0" y="281.0" width="2.80" height="2.80" fill="#e3dff8"/>
<rect x="500.2" y="281.0" width="2.80" height="2.80" fill="#d8d2f6"/>
<rect x="504.6" y="281.0" width="2.80" height="2.80" fill="#e8e5f9"/>
<rect x="506.8" y="281.0" width="2.80" height="2.80" fill="#ddd7f7"/>
<rect x="509.0" y="281.0" width="2.80" height="2.80" fill="#e7e3f9"/>
<rect x="377.0" y="283.2" width="2.80" height="2.80" fill="#dbd5f6"/>
<rect x="381.4" y="283.2" width="2.80" height="2.80" fill="#eae8fa"/>
<rect x="383.6" y="283.2" width="2.80" height="2.80" fill="#e9e6f9"/>
<rect x="385.8" y="283.2" width="2.80" height="2.80" fill="#ddd7f7"/>
<rect x="390.2" y="283.2" width="2.80" height="2.80" fill="#e1dcf7"/>
<rect x="392.4" y="283.2" width="2.80" height="2.80" fill="#dcd6f6"/>
<rect x="394.6" y="283.2" width="2.80" height="2.80" fill="#dad4f6"/>
<rect x="396.8" y="283.2" width="2.80" height="2.80" fill="#ded9f7"/>
<rect x="401.2" y="283.2" width="2.80" height="2.80" fill="#e5e1f8"/>
<rect x="403.4" y="283.2" width="2.80" height="2.80" fill="#ebe8fa"/>
<rect x="407.8" y="283.2" width="2.80" height="2.80" fill="#eae8fa"/>
<rect x="410.0" y="283.2" width="2.80" height="2.80" fill="#dfdaf7"/>
<rect x="412.2" y="283.2" width="2.80" height="2.80" fill="#e3dff8"/>
<rect x="416.6" y="283.2" width="2.80" height="2.80" fill="#e9e7f9"/>
<rect x="421.0" y="283.2" width="2.80" height="2.80" fill="#dbd5f6"/>
<rect x="423.2" y="283.2" width="2.80" height="2.80" fill="#dfdaf7"/>
<rect x="425.4" y="283.2" width="2.80" height="2.80" fill="#e2ddf8"/>
<rect x="427.6" y="283.2" width="2.80" height="2.80" fill="#cac1f3"/>
<rect x="429.8" y="283.2" width="2.80" height="2.80" fill="#b5aaec"/>
<rect x="432.0" y="283.2" width="2.80" height="2.80" fill="#cec5f3"/>
<rect x="434.2" y="283.2" width="2.80" height="2.80" fill="#ccc3f3"/>
<rect x="436.4" y="283.2" width="2.80" height="2.80" fill="#cec5f3"/>
<rect x="438.6" y="283.2" width="2.80" height="2.80" fill="#c0b6ef"/>
<rect x="440.8" y="283.2" width="2.80" height="2.80" fill="#c2b8f0"/>
<rect x="443.0" y="283.2" width="2.80" height="2.80" fill="#c5bbf1"/>
<rect x="445.2" y="283.2" width="2.80" height="2.80" fill="#bab0ed"/>
<rect x="447.4" y="283.2" width="2.80" height="2.80" fill="#c5bbf1"/>
<rect x="449.6" y="283.2" width="2.80" height="2.80" fill="#cbc2f3"/>
<rect x="451.8" y="283.2" width="2.80" height="2.80" fill="#bfb4ef"/>
<rect x="454.0" y="283.2" width="2.80" height="2.80" fill="#b2a8eb"/>
<rect x="456.2" y="283.2" width="2.80" height="2.80" fill="#d1c9f4"/>
<rect x="458.4" y="283.2" width="2.80" height="2.80" fill="#c7bdf2"/>
<rect x="460.6" y="283.2" width="2.80" height="2.80" fill="#cfc7f4"/>
<rect x="462.8" y="283.2" width="2.80" height="2.80" fill="#bbb1ee"/>
<rect x="465.0" y="283.2" width="2.80" height="2.80" fill="#c9bff2"/>
<rect x="467.2" y="283.2" width="2.80" height="2.80" fill="#b7adec"/>
<rect x="469.4" y="283.2" width="2.80" height="2.80" fill="#bfb4ef"/>
<rect x="471.6" y="283.2" width="2.80" height="2.80" fill="#b2a7eb"/>
<rect x="473.8" y="283.2" width="2.80" height="2.80" fill="#c3b8f0"/>
<rect x="476.0" y="283.2" width="2.80" height="2.80" fill="#c2b8f0"/>
<rect x="478.2" y="283.2" width="2.80" height="2.80" fill="#b1a6ea"/>
<rect x="480.4" y="283.2" width="2.80" height="2.80" fill="#b9aeed"/>
<rect x="482.6" y="283.2" width="2.80" height="2.80" fill="#cbc1f3"/>
<rect x="484.8" y="283.2" width="2.80" height="2.80" fill="#d0c8f4"/>
<rect x="487.0" y="283.2" width="2.80" height="2.80" fill="#b4a9eb"/>
<rect x="489.2" y="283.2" width="2.80" height="2.80" fill="#d1c9f4"/>
<rect x="491.4" y="283.2" width="2.80" height="2.80" fill="#bdb2ee"/>
<rect x="493.6" y="283.2" width="2.80" height="2.80" fill="#cbc2f3"/>
<rect x="495.8" y="283.2" width="2.80" height="2.80" fill="#dad4f6"/>
<rect x="498.0" y="283.2" width="2.80" height="2.80" fill="#dad4f6"/>
<rect x="500.2" y="283.2" width="2.80" height="2.80" fill="#e2def8"/>
<rect x="502.4" y="283.2" width="2.80" height="2.80" fill="#dfdaf7"/>
<rect x="504.6" y="283.2" width="2.80" height="2.80" fill="#e2def8"/>
<rect x="506.8" y="283.2" width="2.80" height="2.80" fill="#ebe8fa"/>
<rect x="377.0" y="285.4" width="2.80" height="2.80" fill="#e3dff8"/>
<rect x="379.2" y="285.4" width="2.80" height="2.80" fill="#eae7f9"/>
<rect x="383.6" y="285.4" width="2.80" height="2.80" fill="#e7e4f9"/>
<rect x="390.2" y="285.4" width="2.80" height="2.80" fill="#e0dcf7"/>
<rect x="392.4" y="285.4" width="2.80" height="2.80" fill="#e6e3f9"/>
<rect x="394.6" y="285.4" width="2.80" height="2.80" fill="#e3dff8"/>
<rect x="396.8" y="285.4" width="2.80" height="2.80" fill="#e2ddf8"/>
<rect x="399.0" y="285.4" width="2.80" height="2.80" fill="#eae8fa"/>
<rect x="401.2" y="285.4" width="2.80" height="2.80" fill="#eae7f9"/>
<rect x="403.4" y="285.4" width="2.80" height="2.80" fill="#eae8fa"/>
<rect x="407.8" y="285.4" width="2.80" height="2.80" fill="#e3def8"/>
<rect x="410.0" y="285.4" width="2.80" height="2.80" fill="#e0dcf7"/>
<rect x="414.4" y="285.4" width="2.80" height="2.80" fill="#e4e0f8"/>
<rect x="421.0" y="285.4" width="2.80" height="2.80" fill="#e5e1f8"/>
<rect x="423.2" y="285.4" width="2.80" height="2.80" fill="#e3dff8"/>
<rect x="425.4" y="285.4" width="2.80" height="2.80" fill="#ebe9fa"/>
<rect x="427.6" y="285.4" width="2.80" height="2.80" fill="#d7d0f5"/>
<rect x="429.8" y="285.4" width="2.80" height="2.80" fill="#d7d1f5"/>
<rect x="432.0" y="285.4" width="2.80" height="2.80" fill="#dfdbf7"/>
<rect x="434.2" y="285.4" width="2.80" height="2.80" fill="#d6cff5"/>
<rect x="436.4" y="285.4" width="2.80" height="2.80" fill="#d4cdf5"/>
<rect x="438.6" y="285.4" width="2.80" height="2.80" fill="#e3dff8"/>
<rect x="440.8" y="285.4" width="2.80" height="2.80" fill="#d2cbf4"/>
<rect x="443.0" y="285.4" width="2.80" height="2.80" fill="#ddd8f7"/>
<rect x="445.2" y="285.4" width="2.80" height="2.80" fill="#e0dcf7"/>
<rect x="447.4" y="285.4" width="2.80" height="2.80" fill="#ded9f7"/>
<rect x="449.6" y="285.4" width="2.80" height="2.80" fill="#dbd5f6"/>
<rect x="451.8" y="285.4" width="2.80" height="2.80" fill="#dbd5f6"/>
<rect x="454.0" y="285.4" width="2.80" height="2.80" fill="#e0dbf7"/>
<rect x="456.2" y="285.4" width="2.80" height="2.80" fill="#e5e2f8"/>
<rect x="458.4" y="285.4" width="2.80" height="2.80" fill="#d9d2f6"/>
<rect x="460.6" y="285.4" width="2.80" height="2.80" fill="#d7d0f5"/>
<rect x="462.8" y="285.4" width="2.80" height="2.80" fill="#d7d0f5"/>
<rect x="465.0" y="285.4" width="2.80" height="2.80" fill="#ded9f7"/>
<rect x="467.2" y="285.4" width="2.80" height="2.80" fill="#d4ccf5"/>
<rect x="469.4" y="285.4" width="2.80" height="2.80" fill="#e6e3f9"/>
<rect x="471.6" y="285.4" width="2.80" height="2.80" fill="#e4e0f8"/>
<rect x="473.8" y="285.4" width="2.80" height="2.80" fill="#e6e3f9"/>
<rect x="476.0" y="285.4" width="2.80" height="2.80" fill="#dad4f6"/>
<rect x="478.2" y="285.4" width="2.80" height="2.80" fill="#dbd5f6"/>
<rect x="480.4" y="285.4" width="2.80" height="2.80" fill="#e1ddf8"/>
<rect x="482.6" y="285.4" width="2.80" height="2.80" fill="#dbd5f6"/>
<rect x="484.8" y="285.4" width="2.80" height="2.80" fill="#e6e3f9"/>
<rect x="487.0" y="285.4" width="2.80" height="2.80" fill="#e6e2f9"/>
<rect x="489.2" y="285.4" width="2.80" height="2.80" fill="#d1c9f4"/>
<rect x="491.4" y="285.4" width="2.80" height="2.80" fill="#d5cef5"/>
<rect x="493.6" y="285.4" width="2.80" height="2.80" fill="#ebe9fa"/>
<rect x="495.8" y="285.4" width="2.80" height="2.80" fill="#e2def8"/>
<rect x="498.0" y="285.4" width="2.80" height="2.80" fill="#e8e5f9"/>
<rect x="500.2" y="285.4" width="2.80" height="2.80" fill="#e8e5f9"/>
<rect x="502.4" y="285.4" width="2.80" height="2.80" fill="#e1ddf8"/>
<rect x="504.6" y="285.4" width="2.80" height="2.80" fill="#e6e2f9"/>
<rect x="506.8" y="285.4" width="2.80" height="2.80" fill="#dfdaf7"/>
<rect x="509.0" y="285.4" width="2.80" height="2.80" fill="#e5e1f8"/>
<rect x="377.0" y="287.6" width="2.80" height="2.80" fill="#e3dff8"/>
<rect x="381.4" y="287.6" width="2.80" height="2.80" fill="#e5e2f9"/>
<rect x="385.8" y="287.6" width="2.80" height="2.80" fill="#e3dff8"/>
<rect x="388.0" y="287.6" width="2.80" height="2.80" fill="#e6e3f9"/>
<rect x="390.2" y="287.6" width="2.80" height="2.80" fill="#e2def8"/>
<rect x="392.4" y="287.6" width="2.80" height="2.80" fill="#e7e4f9"/>
<rect x="399.0" y="287.6" width="2.80" height="2.80" fill="#e6e3f9"/>
<rect x="401.2" y="287.6" width="2.80" height="2.80" fill="#f4f3fc"/>
<rect x="405.6" y="287.6" width="2.80" height="2.80" fill="#ebe9fa"/>
<rect x="407.8" y="287.6" width="2.80" height="2.80" fill="#e8e5f9"/>
<rect x="412.2" y="287.6" width="2.80" height="2.80" fill="#eae8fa"/>
<rect x="414.4" y="287.6" width="2.80" height="2.80" fill="#e7e4f9"/>
<rect x="418.8" y="287.6" width="2.80" height="2.80" fill="#e8e6f9"/>
<rect x="421.0" y="287.6" width="2.80" height="2.80" fill="#e4e0f8"/>
<rect x="429.8" y="287.6" width="2.80" height="2.80" fill="#e2def8"/>
<rect x="438.6" y="287.6" width="2.80" height="2.80" fill="#e6e2f9"/>
<rect x="443.0" y="287.6" width="2.80" height="2.80" fill="#dfdaf7"/>
<rect x="445.2" y="287.6" width="2.80" height="2.80" fill="#e9e6f9"/>
<rect x="447.4" y="287.6" width="2.80" height="2.80" fill="#e4e0f8"/>
<rect x="456.2" y="287.6" width="2.80" height="2.80" fill="#e8e5f9"/>
<rect x="460.6" y="287.6" width="2.80" height="2.80" fill="#dfdaf7"/>
<rect x="462.8" y="287.6" width="2.80" height="2.80" fill="#e7e4f9"/>
<rect x="465.0" y="287.6" width="2.80" height="2.80" fill="#eae8fa"/>
<rect x="473.8" y="287.6" width="2.80" height="2.80" fill="#e6e3f9"/>
<rect x="478.2" y="287.6" width="2.80" height="2.80" fill="#e9e7f9"/>
<rect x="482.6" y="287.6" width="2.80" height="2.80" fill="#e8e5f9"/>
<rect x="484.8" y="287.6" width="2.80" height="2.80" fill="#e5e1f8"/>
<rect x="487.0" y="287.6" width="2.80" height="2.80" fill="#e9e6f9"/>
<rect x="489.2" y="287.6" width="2.80" height="2.80" fill="#e4e0f8"/>
<rect x="491.4" y="287.6" width="2.80" height="2.80" fill="#e7e4f9"/>
<rect x="495.8" y="287.6" width="2.80" height="2.80" fill="#e8e5f9"/>
<rect x="500.2" y="287.6" width="2.80" height="2.80" fill="#e7e4f9"/>
<rect x="502.4" y="287.6" width="2.80" height="2.80" fill="#e3dff8"/>
<rect x="506.8" y="287.6" width="2.80" height="2.80" fill="#e5e1f8"/>
<rect x="377.0" y="289.8" width="2.80" height="2.80" fill="#ebe9fa"/>
<rect x="379.2" y="289.8" width="2.80" height="2.80" fill="#f6f6fd"/>
<rect x="381.4" y="289.8" width="2.80" height="2.80" fill="#e7e4f9"/>
<rect x="394.6" y="289.8" width="2.80" height="2.80" fill="#eae8fa"/>
<rect x="399.0" y="289.8" width="2.80" height="2.80" fill="#f6f5fd"/>
<rect x="403.4" y="289.8" width="2.80" height="2.80" fill="#e5e1f8"/>
<rect x="414.4" y="289.8" width="2.80" height="2.80" fill="#e4e1f8"/>
<rect x="416.6" y="289.8" width="2.80" height="2.80" fill="#e4e0f8"/>
<rect x="418.8" y="289.8" width="2.80" height="2.80" fill="#f4f3fc"/>
<rect x="423.2" y="289.8" width="2.80" height="2.80" fill="#f4f2fc"/>
<rect x="429.8" y="289.8" width="2.80" height="2.80" fill="#eae8fa"/>
<rect x="432.0" y="289.8" width="2.80" height="2.80" fill="#e5e2f9"/>
<rect x="434.2" y="289.8" width="2.80" height="2.80" fill="#f5f4fc"/>
<rect x="436.4" y="289.8" width="2.80" height="2.80" fill="#f6f5fd"/>
<rect x="438.6" y="289.8" width="2.80" height="2.80" fill="#f4f3fc"/>
<rect x="443.0" y="289.8" width="2.80" height="2.80" fill="#f4f3fc"/>
<rect x="449.6" y="289.8" width="2.80" height="2.80" fill="#e9e6f9"/>
<rect x="451.8" y="289.8" width="2.80" height="2.80" fill="#e4e0f8"/>
<rect x="454.0" y="289.8" width="2.80" height="2.80" fill="#e3dff8"/>
<rect x="458.4" y="289.8" width="2.80" height="2.80" fill="#ebe8fa"/>
<rect x="460.6" y="289.8" width="2.80" height="2.80" fill="#f4f3fc"/>
<rect x="465.0" y="289.8" width="2.80" height="2.80" fill="#e5e2f9"/>
<rect x="467.2" y="289.8" width="2.80" height="2.80" fill="#e5e2f9"/>
<rect x="469.4" y="289.8" width="2.80" height="2.80" fill="#f4f3fc"/>
<rect x="471.6" y="289.8" width="2.80" height="2.80" fill="#f3f2fc"/>
<rect x="473.8" y="289.8" width="2.80" height="2.80" fill="#e5e1f8"/>
<rect x="476.0" y="289.8" width="2.80" height="2.80" fill="#eae7f9"/>
<rect x="478.2" y="289.8" width="2.80" height="2.80" fill="#e8e5f9"/>
<rect x="480.4" y="289.8" width="2.80" height="2.80" fill="#f5f4fc"/>
<rect x="484.8" y="289.8" width="2.80" height="2.80" fill="#f6f5fd"/>
<rect x="487.0" y="289.8" width="2.80" height="2.80" fill="#e9e6f9"/>
<rect x="489.2" y="289.8" width="2.80" height="2.80" fill="#e7e4f9"/>
<rect x="493.6" y="289.8" width="2.80" height="2.80" fill="#f6f5fd"/>
<rect x="495.8" y="289.8" width="2.80" height="2.80" fill="#e9e6f9"/>
<rect x="498.0" y="289.8" width="2.80" height="2.80" fill="#e3dff8"/>
<rect x="506.8" y="289.8" width="2.80" height="2.80" fill="#e7e4f9"/>
<rect x="509.0" y="289.8" width="2.80" height="2.80" fill="#e4e0f8"/>
<rect x="379.2" y="292.0" width="2.80" height="2.80" fill="#f3f2fc"/>
<rect x="381.4" y="292.0" width="2.80" height="2.80" fill="#e4e0f8"/>
<rect x="390.2" y="292.0" width="2.80" height="2.80" fill="#eae7fa"/>
<rect x="392.4" y="292.0" width="2.80" height="2.80" fill="#e4e1f8"/>
<rect x="396.8" y="292.0" width="2.80" height="2.80" fill="#e7e4f9"/>
<rect x="403.4" y="292.0" width="2.80" height="2.80" fill="#e8e5f9"/>
<rect x="405.6" y="292.0" width="2.80" height="2.80" fill="#e5e1f8"/>
<rect x="407.8" y="292.0" width="2.80" height="2.80" fill="#e9e7f9"/>
<rect x="410.0" y="292.0" width="2.80" height="2.80" fill="#eae8fa"/>
<rect x="412.2" y="292.0" width="2.80" height="2.80" fill="#e8e5f9"/>
<rect x="414.4" y="292.0" width="2.80" height="2.80" fill="#e6e2f9"/>
<rect x="416.6" y="292.0" width="2.80" height="2.80" fill="#e5e1f8"/>
<rect x="423.2" y="292.0" width="2.80" height="2.80" fill="#f7f6fd"/>
<rect x="429.8" y="292.0" width="2.80" height="2.80" fill="#f7f6fd"/>
<rect x="432.0" y="292.0" width="2.80" height="2.80" fill="#e4e0f8"/>
<rect x="436.4" y="292.0" width="2.80" height="2.80" fill="#e5e2f9"/>
<rect x="438.6" y="292.0" width="2.80" height="2.80" fill="#f7f6fd"/>
<rect x="443.0" y="292.0" width="2.80" height="2.80" fill="#e9e6f9"/>
<rect x="451.8" y="292.0" width="2.80" height="2.80" fill="#f5f4fc"/>
<rect x="454.0" y="292.0" width="2.80" height="2.80" fill="#e8e5f9"/>
<rect x="456.2" y="292.0" width="2.80" height="2.80" fill="#e9e6f9"/>
<rect x="462.8" y="292.0" width="2.80" height="2.80" fill="#e8e5f9"/>
<rect x="471.6" y="292.0" width="2.80" height="2.80" fill="#eae7f9"/>
<rect x="473.8" y="292.0" width="2.80" height="2.80" fill="#eae7f9"/>
<rect x="478.2" y="292.0" width="2.80" height="2.80" fill="#e9e6f9"/>
<rect x="487.0" y="292.0" width="2.80" height="2.80" fill="#e6e3f9"/>
<rect x="489.2" y="292.0" width="2.80" height="2.80" fill="#e5e2f8"/>
<rect x="491.4" y="292.0" width="2.80" height="2.80" fill="#e9e6f9"/>
<rect x="502.4" y="292.0" width="2.80" height="2.80" fill="#f6f5fd"/>
<rect x="506.8" y="292.0" width="2.80" height="2.80" fill="#e5e2f9"/>
<rect x="509.0" y="292.0" width="2.80" height="2.80" fill="#f6f5fd"/>
<rect x="377.0" y="294.2" width="2.80" height="2.80" fill="#e6e3f9"/>
<rect x="381.4" y="294.2" width="2.80" height="2.80" fill="#e4e0f8"/>
<rect x="383.6" y="294.2" width="2.80" height="2.80" fill="#eae8fa"/>
<rect x="385.8" y="294.2" width="2.80" height="2.80" fill="#eae8fa"/>
<rect x="388.0" y="294.2" width="2.80" height="2.80" fill="#e9e7f9"/>
<rect x="392.4" y="294.2" width="2.80" height="2.80" fill="#f5f4fc"/>
<rect x="394.6" y="294.2" width="2.80" height="2.80" fill="#e7e4f9"/>
<rect x="396.8" y="294.2" width="2.80" height="2.80" fill="#e7e4f9"/>
<rect x="399.0" y="294.2" width="2.80" height="2.80" fill="#eae8fa"/>
<rect x="401.2" y="294.2" width="2.80" height="2.80" fill="#f3f2fc"/>
<rect x="414.4" y="294.2" width="2.80" height="2.80" fill="#e4e1f8"/>
<rect x="418.8" y="294.2" width="2.80" height="2.80" fill="#e5e1f8"/>
<rect x="421.0" y="294.2" width="2.80" height="2.80" fill="#e6e3f9"/>
<rect x="423.2" y="294.2" width="2.80" height="2.80" fill="#f4f3fc"/>
<rect x="425.4" y="294.2" width="2.80" height="2.80" fill="#e9e6f9"/>
<rect x="434.2" y="294.2" width="2.80" height="2.80" fill="#eae7f9"/>
<rect x="443.0" y="294.2" width="2.80" height="2.80" fill="#e9e6f9"/>
<rect x="449.6" y="294.2" width="2.80" height="2.80" fill="#e4e0f8"/>
<rect x="454.0" y="294.2" width="2.80" height="2.80" fill="#f7f6fd"/>
<rect x="456.2" y="294.2" width="2.80" height="2.80" fill="#e6e3f9"/>
<rect x="462.8" y="294.2" width="2.80" height="2.80" fill="#e8e5f9"/>
<rect x="465.0" y="294.2" width="2.80" height="2.80" fill="#e6e3f9"/>
<rect x="469.4" y="294.2" width="2.80" height="2.80" fill="#e4e1f8"/>
<rect x="473.8" y="294.2" width="2.80" height="2.80" fill="#eae8fa"/>
<rect x="476.0" y="294.2" width="2.80" height="2.80" fill="#e8e5f9"/>
<rect x="489.2" y="294.2" width="2.80" height="2.80" fill="#e7e4f9"/>
<rect x="491.4" y="294.2" width="2.80" height="2.80" fill="#f6f5fd"/>
<rect x="493.6" y="294.2" width="2.80" height="2.80" fill="#e4e0f8"/>
<rect x="495.8" y="294.2" width="2.80" height="2.80" fill="#e9e6f9"/>
<rect x="504.6" y="294.2" width="2.80" height="2.80" fill="#e9e7f9"/>
<rect x="506.8" y="294.2" width="2.80" height="2.80" fill="#e7e4f9"/>
<rect x="379.2" y="296.4" width="2.80" height="2.80" fill="#f3f2fc"/>
<rect x="383.6" y="296.4" width="2.80" height="2.80" fill="#e7e4f9"/>
<rect x="392.4" y="296.4" width="2.80" height="2.80" fill="#f4f3fc"/>
<rect x="394.6" y="296.4" width="2.80" height="2.80" fill="#f7f6fd"/>
<rect x="401.2" y="296.4" width="2.80" height="2.80" fill="#f4f3fc"/>
<rect x="410.0" y="296.4" width="2.80" height="2.80" fill="#eae7f9"/>
<rect x="414.4" y="296.4" width="2.80" height="2.80" fill="#eae7f9"/>
<rect x="416.6" y="296.4" width="2.80" height="2.80" fill="#eae7f9"/>
<rect x="421.0" y="296.4" width="2.80" height="2.80" fill="#f7f6fd"/>
<rect x="423.2" y="296.4" width="2.80" height="2.80" fill="#e7e4f9"/>
<rect x="429.8" y="296.4" width="2.80" height="2.80" fill="#ebe9fa"/>
<rect x="434.2" y="296.4" width="2.80" height="2.80" fill="#e6e3f9"/>
<rect x="436.4" y="296.4" width="2.80" height="2.80" fill="#f7f6fd"/>
<rect x="438.6" y="296.4" width="2.80" height="2.80" fill="#e5e1f8"/>
<rect x="445.2" y="296.4" width="2.80" height="2.80" fill="#e6e3f9"/>
<rect x="447.4" y="296.4" width="2.80" height="2.80" fill="#e6e3f9"/>
<rect x="451.8" y="296.4" width="2.80" height="2.80" fill="#f7f6fd"/>
<rect x="460.6" y="296.4" width="2.80" height="2.80" fill="#e8e5f9"/>
<rect x="462.8" y="296.4" width="2.80" height="2.80" fill="#f5f4fc"/>
<rect x="465.0" y="296.4" width="2.80" height="2.80" fill="#e7e4f9"/>
<rect x="471.6" y="296.4" width="2.80" height="2.80" fill="#f6f6fd"/>
<rect x="473.8" y="296.4" width="2.80" height="2.80" fill="#f5f4fc"/>
<rect x="480.4" y="296.4" width="2.80" height="2.80" fill="#e5e2f9"/>
<rect x="482.6" y="296.4" width="2.80" height="2.80" fill="#f4f3fc"/>
<rect x="495.8" y="296.4" width="2.80" height="2.80" fill="#f4f3fc"/>
<rect x="498.0" y="296.4" width="2.80" height="2.80" fill="#f6f5fd"/>
<rect x="502.4" y="296.4" width="2.80" height="2.80" fill="#eae8fa"/>
<rect x="504.6" y="296.4" width="2.80" height="2.80" fill="#f5f4fc"/>
<rect x="506.8" y="296.4" width="2.80" height="2.80" fill="#f6f5fd"/>
<rect x="377.0" y="298.6" width="2.80" height="2.80" fill="#f6f5fd"/>
<rect x="379.2" y="298.6" width="2.80" height="2.80" fill="#e6e2f9"/>
<rect x="381.4" y="298.6" width="2.80" height="2.80" fill="#ebe9fa"/>
<rect x="383.6" y="298.6" width="2.80" height="2.80" fill="#f4f3fc"/>
<rect x="388.0" y="298.6" width="2.80" height="2.80" fill="#f6f5fd"/>
<rect x="390.2" y="298.6" width="2.80" height="2.80" fill="#f6f5fd"/>
<rect x="394.6" y="298.6" width="2.80" height="2.80" fill="#e7e4f9"/>
<rect x="396.8" y="298.6" width="2.80" height="2.80" fill="#e6e3f9"/>
<rect x="399.0" y="298.6" width="2.80" height="2.80" fill="#e9e7f9"/>
<rect x="414.4" y="298.6" width="2.80" height="2.80" fill="#e8e5f9"/>
<rect x="423.2" y="298.6" width="2.80" height="2.80" fill="#e5e1f8"/>
<rect x="432.0" y="298.6" width="2.80" height="2.80" fill="#f3f2fc"/>
<rect x="436.4" y="298.6" width="2.80" height="2.80" fill="#e9e6f9"/>
<rect x="438.6" y="298.6" width="2.80" height="2.80" fill="#f4f3fc"/>
<rect x="447.4" y="298.6" width="2.80" height="2.80" fill="#e9e6f9"/>
<rect x="449.6" y="298.6" width="2.80" height="2.80" fill="#f5f4fc"/>
<rect x="454.0" y="298.6" width="2.80" height="2.80" fill="#f4f3fc"/>
<rect x="460.6" y="298.6" width="2.80" height="2.80" fill="#f3f2fc"/>
<rect x="469.4" y="298.6" width="2.80" height="2.80" fill="#e6e3f9"/>
<rect x="471.6" y="298.6" width="2.80" height="2.80" fill="#e7e4f9"/>
<rect x="473.8" y="298.6" width="2.80" height="2.80" fill="#e9e6f9"/>
<rect x="480.4" y="298.6" width="2.80" height="2.80" fill="#f4f2fc"/>
<rect x="484.8" y="298.6" width="2.80" height="2.80" fill="#e5e2f8"/>
<rect x="487.0" y="298.6" width="2.80" height="2.80" fill="#f5f4fc"/>
<rect x="491.4" y="298.6" width="2.80" height="2.80" fill="#f4f2fc"/>
<rect x="493.6" y="298.6" width="2.80" height="2.80" fill="#e7e4f9"/>
<rect x="500.2" y="298.6" width="2.80" height="2.80" fill="#f6f5fd"/>
<rect x="502.4" y="298.6" width="2.80" height="2.80" fill="#ebe9fa"/>
<rect x="506.8" y="298.6" width="2.80" height="2.80" fill="#e8e6f9"/>
<rect x="509.0" y="298.6" width="2.80" height="2.80" fill="#eae8fa"/>
<rect x="377.0" y="300.8" width="2.80" height="2.80" fill="#eae7f9"/>
<rect x="385.8" y="300.8" width="2.80" height="2.80" fill="#f6f5fd"/>
<rect x="388.0" y="300.8" width="2.80" height="2.80" fill="#e5e2f9"/>
<rect x="390.2" y="300.8" width="2.80" height="2.80" fill="#eae8fa"/>
<rect x="396.8" y="300.8" width="2.80" height="2.80" fill="#f6f5fd"/>
<rect x="401.2" y="300.8" width="2.80" height="2.80" fill="#e9e6f9"/>
<rect x="403.4" y="300.8" width="2.80" height="2.80" fill="#f5f4fc"/>
<rect x="405.6" y="300.8" width="2.80" height="2.80" fill="#f5f4fc"/>
<rect x="407.8" y="300.8" width="2.80" height="2.80" fill="#ebe9fa"/>
<rect x="412.2" y="300.8" width="2.80" height="2.80" fill="#e9e6f9"/>
<rect x="416.6" y="300.8" width="2.80" height="2.80" fill="#e4e1f8"/>
<rect x="418.8" y="300.8" width="2.80" height="2.80" fill="#e7e4f9"/>
<rect x="429.8" y="300.8" width="2.80" height="2.80" fill="#e8e5f9"/>
<rect x="432.0" y="300.8" width="2.80" height="2.80" fill="#eae8fa"/>
<rect x="434.2" y="300.8" width="2.80" height="2.80" fill="#e8e5f9"/>
<rect x="445.2" y="300.8" width="2.80" height="2.80" fill="#f7f6fd"/>
<rect x="447.4" y="300.8" width="2.80" height="2.80" fill="#e8e5f9"/>
<rect x="451.8" y="300.8" width="2.80" height="2.80" fill="#f4f3fc"/>
<rect x="454.0" y="300.8" width="2.80" height="2.80" fill="#e7e4f9"/>
<rect x="458.4" y="300.8" width="2.80" height="2.80" fill="#eae7f9"/>
<rect x="460.6" y="300.8" width="2.80" height="2.80" fill="#eae7f9"/>
<rect x="465.0" y="300.8" width="2.80" height="2.80" fill="#e6e3f9"/>
<rect x="467.2" y="300.8" width="2.80" height="2.80" fill="#f6f5fd"/>
<rect x="471.6" y="300.8" width="2.80" height="2.80" fill="#f4f3fc"/>
<rect x="476.0" y="300.8" width="2.80" height="2.80" fill="#f3f2fc"/>
<rect x="478.2" y="300.8" width="2.80" height="2.80" fill="#f7f6fd"/>
<rect x="480.4" y="300.8" width="2.80" height="2.80" fill="#f5f4fc"/>
<rect x="482.6" y="300.8" width="2.80" height="2.80" fill="#f4f3fc"/>
<rect x="491.4" y="300.8" width="2.80" height="2.80" fill="#f7f6fd"/>
<rect x="498.0" y="300.8" width="2.80" height="2.80" fill="#f5f4fc"/>
<rect x="500.2" y="300.8" width="2.80" height="2.80" fill="#f6f5fd"/>
<rect x="502.4" y="300.8" width="2.80" height="2.80" fill="#f4f3fc"/>
<rect x="506.8" y="300.8" width="2.80" height="2.80" fill="#f4f3fc"/>
<rect x="377.0" y="303.0" width="2.80" height="2.80" fill="#f4f3fc"/>
<rect x="379.2" y="303.0" width="2.80" height="2.80" fill="#eae7fa"/>
<rect x="381.4" y="303.0" width="2.80" height="2.80" fill="#e7e4f9"/>
<rect x="385.8" y="303.0" width="2.80" height="2.80" fill="#f6f5fd"/>
<rect x="388.0" y="303.0" width="2.80" height="2.80" fill="#e5e1f8"/>
<rect x="390.2" y="303.0" width="2.80" height="2.80" fill="#f6f5fd"/>
<rect x="394.6" y="303.0" width="2.80" height="2.80" fill="#e9e7f9"/>
<rect x="399.0" y="303.0" width="2.80" height="2.80" fill="#e6e3f9"/>
<rect x="401.2" y="303.0" width="2.80" height="2.80" fill="#f5f3fc"/>
<rect x="403.4" y="303.0" width="2.80" height="2.80" fill="#eae8fa"/>
<rect x="405.6" y="303.0" width="2.80" height="2.80" fill="#e6e3f9"/>
<rect x="407.8" y="303.0" width="2.80" height="2.80" fill="#e6e3f9"/>
<rect x="410.0" y="303.0" width="2.80" height="2.80" fill="#e7e4f9"/>
<rect x="416.6" y="303.0" width="2.80" height="2.80" fill="#e7e4f9"/>
<rect x="423.2" y="303.0" width="2.80" height="2.80" fill="#f7f6fd"/>
<rect x="425.4" y="303.0" width="2.80" height="2.80" fill="#f4f2fc"/>
<rect x="427.6" y="303.0" width="2.80" height="2.80" fill="#f5f4fc"/>
<rect x="429.8" y="303.0" width="2.80" height="2.80" fill="#e6e2f9"/>
<rect x="436.4" y="303.0" width="2.80" height="2.80" fill="#e5e1f8"/>
<rect x="438.6" y="303.0" width="2.80" height="2.80" fill="#ebe9fa"/>
<rect x="443.0" y="303.0" width="2.80" height="2.80" fill="#f5f4fc"/>
<rect x="449.6" y="303.0" width="2.80" height="2.80" fill="#e5e2f8"/>
<rect x="454.0" y="303.0" width="2.80" height="2.80" fill="#e5e1f8"/>
<rect x="458.4" y="303.0" width="2.80" height="2.80" fill="#f6f5fd"/>
<rect x="460.6" y="303.0" width="2.80" height="2.80" fill="#e6e3f9"/>
<rect x="462.8" y="303.0" width="2.80" height="2.80" fill="#f6f5fd"/>
<rect x="465.0" y="303.0" width="2.80" height="2.80" fill="#e9e6f9"/>
<rect x="471.6" y="303.0" width="2.80" height="2.80" fill="#e8e5f9"/>
<rect x="476.0" y="303.0" width="2.80" height="2.80" fill="#e4e1f8"/>
<rect x="480.4" y="303.0" width="2.80" height="2.80" fill="#e5e2f8"/>
<rect x="482.6" y="303.0" width="2.80" height="2.80" fill="#e6e2f9"/>
<rect x="487.0" y="303.0" width="2.80" height="2.80" fill="#ebe9fa"/>
<rect x="489.2" y="303.0" width="2.80" height="2.80" fill="#eae8fa"/>
<rect x="493.6" y="303.0" width="2.80" height="2.80" fill="#f7f6fd"/>
<rect x="495.8" y="303.0" width="2.80" height="2.80" fill="#ebe9fa"/>
<rect x="498.0" y="303.0" width="2.80" height="2.80" fill="#e9e7f9"/>
<rect x="500.2" y="303.0" width="2.80" height="2.80" fill="#f4f3fc"/>
<rect x="502.4" y="303.0" width="2.80" height="2.80" fill="#f5f4fc"/>
<rect x="504.6" y="303.0" width="2.80" height="2.80" fill="#f6f5fd"/>
<rect x="509.0" y="303.0" width="2.80" height="2.80" fill="#f5f4fc"/>
<rect x="377.0" y="305.2" width="2.80" height="2.80" fill="#e7e4f9"/>
<rect x="381.4" y="305.2" width="2.80" height="2.80" fill="#e4e0f8"/>
<rect x="383.6" y="305.2" width="2.80" height="2.80" fill="#eae7fa"/>
<rect x="388.0" y="305.2" width="2.80" height="2.80" fill="#f4f3fc"/>
<rect x="394.6" y="305.2" width="2.80" height="2.80" fill="#e7e4f9"/>
<rect x="396.8" y="305.2" width="2.80" height="2.80" fill="#e6e3f9"/>
<rect x="401.2" y="305.2" width="2.80" height="2.80" fill="#f7f6fd"/>
<rect x="405.6" y="305.2" width="2.80" height="2.80" fill="#ebe9fa"/>
<rect x="410.0" y="305.2" width="2.80" height="2.80" fill="#e8e6f9"/>
<rect x="412.2" y="305.2" width="2.80" height="2.80" fill="#e8e5f9"/>
<rect x="416.6" y="305.2" width="2.80" height="2.80" fill="#e8e5f9"/>
<rect x="418.8" y="305.2" width="2.80" height="2.80" fill="#f5f4fc"/>
<rect x="421.0" y="305.2" width="2.80" height="2.80" fill="#e5e2f8"/>
<rect x="425.4" y="305.2" width="2.80" height="2.80" fill="#f5f4fc"/>
<rect x="427.6" y="305.2" width="2.80" height="2.80" fill="#f4f3fc"/>
<rect x="434.2" y="305.2" width="2.80" height="2.80" fill="#e5e2f9"/>
<rect x="443.0" y="305.2" width="2.80" height="2.80" fill="#e5e2f9"/>
<rect x="447.4" y="305.2" width="2.80" height="2.80" fill="#e6e3f9"/>
<rect x="449.6" y="305.2" width="2.80" height="2.80" fill="#eae8fa"/>
<rect x="454.0" y="305.2" width="2.80" height="2.80" fill="#e5e2f8"/>
<rect x="456.2" y="305.2" width="2.80" height="2.80" fill="#e7e3f9"/>
<rect x="458.4" y="305.2" width="2.80" height="2.80" fill="#eae7f9"/>
<rect x="462.8" y="305.2" width="2.80" height="2.80" fill="#f6f5fd"/>
<rect x="465.0" y="305.2" width="2.80" height="2.80" fill="#f3f2fc"/>
<rect x="469.4" y="305.2" width="2.80" height="2.80" fill="#f5f4fc"/>
<rect x="478.2" y="305.2" width="2.80" height="2.80" fill="#e8e5f9"/>
<rect x="480.4" y="305.2" width="2.80" height="2.80" fill="#e8e5f9"/>
<rect x="482.6" y="305.2" width="2.80" height="2.80" fill="#eae7f9"/>
<rect x="489.2" y="305.2" width="2.80" height="2.80" fill="#e4e1f8"/>
<rect x="491.4" y="305.2" width="2.80" height="2.80" fill="#e6e2f9"/>
<rect x="495.8" y="305.2" width="2.80" height="2.80" fill="#f6f5fd"/>
<rect x="498.0" y="305.2" width="2.80" height="2.80" fill="#e6e3f9"/>
<rect x="500.2" y="305.2" width="2.80" height="2.80" fill="#f6f5fd"/>
<rect x="502.4" y="305.2" width="2.80" height="2.80" fill="#f5f4fc"/>
<rect x="506.8" y="305.2" width="2.80" height="2.80" fill="#f4f2fc"/>
<rect x="509.0" y="305.2" width="2.80" height="2.80" fill="#e9e7f9"/>
<rect x="377.0" y="307.4" width="2.80" height="2.80" fill="#ebe9fa"/>
<rect x="379.2" y="307.4" width="2.80" height="2.80" fill="#f4f3fc"/>
<rect x="381.4" y="307.4" width="2.80" height="2.80" fill="#e6e3f9"/>
<rect x="383.6" y="307.4" width="2.80" height="2.80" fill="#e4e0f8"/>
<rect x="388.0" y="307.4" width="2.80" height="2.80" fill="#e4e1f8"/>
<rect x="390.2" y="307.4" width="2.80" height="2.80" fill="#e8e6f9"/>
<rect x="394.6" y="307.4" width="2.80" height="2.80" fill="#e8e5f9"/>
<rect x="396.8" y="307.4" width="2.80" height="2.80" fill="#e5e2f9"/>
<rect x="399.0" y="307.4" width="2.80" height="2.80" fill="#ebe8fa"/>
<rect x="401.2" y="307.4" width="2.80" height="2.80" fill="#f6f5fd"/>
<rect x="405.6" y="307.4" width="2.80" height="2.80" fill="#ebe8fa"/>
<rect x="410.0" y="307.4" width="2.80" height="2.80" fill="#f4f3fc"/>
<rect x="414.4" y="307.4" width="2.80" height="2.80" fill="#f5f4fc"/>
<rect x="418.8" y="307.4" width="2.80" height="2.80" fill="#f5f4fc"/>
<rect x="421.0" y="307.4" width="2.80" height="2.80" fill="#eae8fa"/>
<rect x="423.2" y="307.4" width="2.80" height="2.80" fill="#f3f2fc"/>
<rect x="425.4" y="307.4" width="2.80" height="2.80" fill="#e5e2f9"/>
<rect x="427.6" y="307.4" width="2.80" height="2.80" fill="#f5f4fc"/>
<rect x="434.2" y="307.4" width="2.80" height="2.80" fill="#f4f2fc"/>
<rect x="443.0" y="307.4" width="2.80" height="2.80" fill="#f4f3fc"/>
<rect x="447.4" y="307.4" width="2.80" height="2.80" fill="#e8e5f9"/>
<rect x="456.2" y="307.4" width="2.80" height="2.80" fill="#e7e3f9"/>
<rect x="458.4" y="307.4" width="2.80" height="2.80" fill="#f6f5fd"/>
<rect x="467.2" y="307.4" width="2.80" height="2.80" fill="#f7f6fd"/>
<rect x="469.4" y="307.4" width="2.80" height="2.80" fill="#f5f4fc"/>
<rect x="471.6" y="307.4" width="2.80" height="2.80" fill="#e7e4f9"/>
<rect x="480.4" y="307.4" width="2.80" height="2.80" fill="#f6f5fd"/>
<rect x="482.6" y="307.4" width="2.80" height="2.80" fill="#f6f5fd"/>
<rect x="484.8" y="307.4" width="2.80" height="2.80" fill="#e8e5f9"/>
<rect x="487.0" y="307.4" width="2.80" height="2.80" fill="#e9e7f9"/>
<rect x="489.2" y="307.4" width="2.80" height="2.80" fill="#f4f2fc"/>
<rect x="493.6" y="307.4" width="2.80" height="2.80" fill="#f6f5fd"/>
<rect x="500.2" y="307.4" width="2.80" height="2.80" fill="#e9e7f9"/>
<rect x="504.6" y="307.4" width="2.80" height="2.80" fill="#e7e4f9"/>
<rect x="506.8" y="307.4" width="2.80" height="2.80" fill="#e4e0f8"/>
<rect x="377.0" y="309.6" width="2.80" height="2.80" fill="#f6f5fd"/>
<rect x="379.2" y="309.6" width="2.80" height="2.80" fill="#f5f4fc"/>
<rect x="383.6" y="309.6" width="2.80" height="2.80" fill="#f5f4fc"/>
<rect x="385.8" y="309.6" width="2.80" height="2.80" fill="#e6e3f9"/>
<rect x="388.0" y="309.6" width="2.80" height="2.80" fill="#f6f5fd"/>
<rect x="390.2" y="309.6" width="2.80" height="2.80" fill="#f6f5fd"/>
<rect x="392.4" y="309.6" width="2.80" height="2.80" fill="#e4e0f8"/>
<rect x="401.2" y="309.6" width="2.80" height="2.80" fill="#f5f4fc"/>
<rect x="407.8" y="309.6" width="2.80" height="2.80" fill="#eae7fa"/>
<rect x="410.0" y="309.6" width="2.80" height="2.80" fill="#e9e6f9"/>
<rect x="412.2" y="309.6" width="2.80" height="2.80" fill="#ebe8fa"/>
<rect x="414.4" y="309.6" width="2.80" height="2.80" fill="#f4f3fc"/>
<rect x="418.8" y="309.6" width="2.80" height="2.80" fill="#e6e2f9"/>
<rect x="421.0" y="309.6" width="2.80" height="2.80" fill="#f4f3fc"/>
<rect x="427.6" y="309.6" width="2.80" height="2.80" fill="#e4e0f8"/>
<rect x="429.8" y="309.6" width="2.80" height="2.80" fill="#f7f6fd"/>
<rect x="432.0" y="309.6" width="2.80" height="2.80" fill="#ebe9fa"/>
<rect x="438.6" y="309.6" width="2.80" height="2.80" fill="#e8e5f9"/>
<rect x="440.8" y="309.6" width="2.80" height="2.80" fill="#f5f4fc"/>
<rect x="447.4" y="309.6" width="2.80" height="2.80" fill="#e9e7f9"/>
<rect x="449.6" y="309.6" width="2.80" height="2.80" fill="#eae8fa"/>
<rect x="454.0" y="309.6" width="2.80" height="2.80" fill="#f4f3fc"/>
<rect x="456.2" y="309.6" width="2.80" height="2.80" fill="#e9e7f9"/>
<rect x="458.4" y="309.6" width="2.80" height="2.80" fill="#ebe8fa"/>
<rect x="462.8" y="309.6" width="2.80" height="2.80" fill="#eae7f9"/>
<rect x="465.0" y="309.6" width="2.80" height="2.80" fill="#e5e2f8"/>
<rect x="469.4" y="309.6" width="2.80" height="2.80" fill="#ebe9fa"/>
<rect x="471.6" y="309.6" width="2.80" height="2.80" fill="#e8e5f9"/>
<rect x="476.0" y="309.6" width="2.80" height="2.80" fill="#e6e3f9"/>
<rect x="480.4" y="309.6" width="2.80" height="2.80" fill="#e5e1f8"/>
<rect x="484.8" y="309.6" width="2.80" height="2.80" fill="#e5e1f8"/>
<rect x="487.0" y="309.6" width="2.80" height="2.80" fill="#e7e3f9"/>
<rect x="489.2" y="309.6" width="2.80" height="2.80" fill="#e9e6f9"/>
<rect x="498.0" y="309.6" width="2.80" height="2.80" fill="#e8e5f9"/>
<rect x="502.4" y="309.6" width="2.80" height="2.80" fill="#e6e3f9"/>
<rect x="504.6" y="309.6" width="2.80" height="2.80" fill="#f3f2fc"/>
<rect x="509.0" y="309.6" width="2.80" height="2.80" fill="#f5f3fc"/>
<rect x="377.0" y="311.8" width="2.80" height="2.80" fill="#f4f3fc"/>
<rect x="381.4" y="311.8" width="2.80" height="2.80" fill="#f6f5fd"/>
<rect x="390.2" y="311.8" width="2.80" height="2.80" fill="#e8e6f9"/>
<rect x="394.6" y="311.8" width="2.80" height="2.80" fill="#ebe9fa"/>
<rect x="396.8" y="311.8" width="2.80" height="2.80" fill="#f6f5fd"/>
<rect x="401.2" y="311.8" width="2.80" height="2.80" fill="#f7f6fd"/>
<rect x="403.4" y="311.8" width="2.80" height="2.80" fill="#f4f3fc"/>
<rect x="405.6" y="311.8" width="2.80" height="2.80" fill="#e7e4f9"/>
<rect x="407.8" y="311.8" width="2.80" height="2.80" fill="#f5f4fc"/>
<rect x="416.6" y="311.8" width="2.80" height="2.80" fill="#e7e4f9"/>
<rect x="418.8" y="311.8" width="2.80" height="2.80" fill="#e8e5f9"/>
<rect x="421.0" y="311.8" width="2.80" height="2.80" fill="#e5e1f8"/>
<rect x="423.2" y="311.8" width="2.80" height="2.80" fill="#e5e1f8"/>
<rect x="427.6" y="311.8" width="2.80" height="2.80" fill="#e4e1f8"/>
<rect x="429.8" y="311.8" width="2.80" height="2.80" fill="#e9e7f9"/>
<rect x="438.6" y="311.8" width="2.80" height="2.80" fill="#e7e4f9"/>
<rect x="440.8" y="311.8" width="2.80" height="2.80" fill="#f5f4fc"/>
<rect x="443.0" y="311.8" width="2.80" height="2.80" fill="#e6e3f9"/>
<rect x="456.2" y="311.8" width="2.80" height="2.80" fill="#eae8fa"/>
<rect x="460.6" y="311.8" width="2.80" height="2.80" fill="#eae8fa"/>
<rect x="462.8" y="311.8" width="2.80" height="2.80" fill="#e7e4f9"/>
<rect x="465.0" y="311.8" width="2.80" height="2.80" fill="#f6f5fd"/>
<rect x="467.2" y="311.8" width="2.80" height="2.80" fill="#f7f6fd"/>
<rect x="469.4" y="311.8" width="2.80" height="2.80" fill="#e5e2f9"/>
<rect x="471.6" y="311.8" width="2.80" height="2.80" fill="#f4f3fc"/>
<rect x="473.8" y="311.8" width="2.80" height="2.80" fill="#e8e5f9"/>
<rect x="478.2" y="311.8" width="2.80" height="2.80" fill="#f3f2fc"/>
<rect x="480.4" y="311.8" width="2.80" height="2.80" fill="#f7f6fd"/>
<rect x="487.0" y="311.8" width="2.80" height="2.80" fill="#f6f5fd"/>
<rect x="489.2" y="311.8" width="2.80" height="2.80" fill="#f7f6fd"/>
<rect x="493.6" y="311.8" width="2.80" height="2.80" fill="#e7e3f9"/>
<rect x="495.8" y="311.8" width="2.80" height="2.80" fill="#e9e7f9"/>
<rect x="504.6" y="311.8" width="2.80" height="2.80" fill="#eae8fa"/>
</g></g>
<defs><filter id="bl1" x="-0.2" y="-1" width="1.4" height="3"><feGaussianBlur stdDeviation="0.9"/></filter></defs>
<path d="M430,282.6 L434.5,279 L470,279.5 L484,280.3 L497,281.6 L497,283.4 L484,284.8 L470,285.8 L434.5,286.6 Z" fill="#8c80de" filter="url(#bl1)"/>
<path d="M434.8,279.9 L470,280.4 L482.7,280.9 L482.7,283.8 L470,284.6 L434.8,285.7 Z" fill="#3a64b6"/>
<path d="M434.8,280.8 L482.7,281.3 L482.7,283.5 L434.8,284.9 Z" fill="#1e103c"/>
<path d="M482.7,281.4 L494.2,281.6 L494.2,282.8 L482.7,283.4 Z" fill="#2a5e96"/>
<rect x="478" y="281.5" width="8" height="2" fill="#4a1848" opacity="0.5"/>
<rect x="431.2" y="281.9" width="3.6" height="1.3" fill="#4a80c8"/>
<rect x="376.5" y="182.5" width="133.0" height="131.0" fill="none" stroke="#959595" stroke-width="1.1"/>
<line x1="376.5" y1="247.5" x2="509.5" y2="247.5" stroke="#959595" stroke-width="1"/>
<line x1="425.2" y1="313.5" x2="425.2" y2="311.0" stroke="#959595" stroke-width="0.8"/>
<line x1="425.2" y1="182.5" x2="425.2" y2="185.0" stroke="#959595" stroke-width="0.8"/>
<line x1="473.7" y1="313.5" x2="473.7" y2="311.0" stroke="#959595" stroke-width="0.8"/>
<line x1="473.7" y1="182.5" x2="473.7" y2="185.0" stroke="#959595" stroke-width="0.8"/>
<text x="372.4" y="195.7" font-size="12" text-anchor="end" fill="#0c0c0c" font-weight="normal" font-style="normal" >1.6</text>
<line x1="376.5" y1="191.7" x2="379.0" y2="191.7" stroke="#959595" stroke-width="0.8"/>
<line x1="509.5" y1="191.7" x2="507.0" y2="191.7" stroke="#959595" stroke-width="0.8"/>
<text x="372.4" y="216.4" font-size="12" text-anchor="end" fill="#0c0c0c" font-weight="normal" font-style="normal" >1.58</text>
<line x1="376.5" y1="212.4" x2="379.0" y2="212.4" stroke="#959595" stroke-width="0.8"/>
<line x1="509.5" y1="212.4" x2="507.0" y2="212.4" stroke="#959595" stroke-width="0.8"/>
<text x="372.4" y="236.3" font-size="12" text-anchor="end" fill="#0c0c0c" font-weight="normal" font-style="normal" >1.56</text>
<line x1="376.5" y1="232.3" x2="379.0" y2="232.3" stroke="#959595" stroke-width="0.8"/>
<line x1="509.5" y1="232.3" x2="507.0" y2="232.3" stroke="#959595" stroke-width="0.8"/>
<text x="372.4" y="264.7" font-size="12" text-anchor="end" fill="#0c0c0c" font-weight="normal" font-style="normal" >1.52</text>
<line x1="376.5" y1="260.7" x2="379.0" y2="260.7" stroke="#959595" stroke-width="0.8"/>
<line x1="509.5" y1="260.7" x2="507.0" y2="260.7" stroke="#959595" stroke-width="0.8"/>
<text x="372.4" y="285.9" font-size="12" text-anchor="end" fill="#0c0c0c" font-weight="normal" font-style="normal" >1.5</text>
<line x1="376.5" y1="281.9" x2="379.0" y2="281.9" stroke="#959595" stroke-width="0.8"/>
<line x1="509.5" y1="281.9" x2="507.0" y2="281.9" stroke="#959595" stroke-width="0.8"/>
<text x="372.4" y="305.5" font-size="12" text-anchor="end" fill="#0c0c0c" font-weight="normal" font-style="normal" >1.48</text>
<line x1="376.5" y1="301.5" x2="379.0" y2="301.5" stroke="#959595" stroke-width="0.8"/>
<line x1="509.5" y1="301.5" x2="507.0" y2="301.5" stroke="#959595" stroke-width="0.8"/>
<text x="376.7" y="328.6" font-size="12" text-anchor="middle" fill="#0c0c0c" font-weight="normal" font-style="normal" >0</text>
<text x="425.2" y="328.6" font-size="12" text-anchor="middle" fill="#0c0c0c" font-weight="normal" font-style="normal" >0.1</text>
<text x="473.7" y="328.6" font-size="12" text-anchor="middle" fill="#0c0c0c" font-weight="normal" font-style="normal" >0.2</text>
<text x="443.1" y="347.5" font-size="14" text-anchor="middle" fill="#0c0c0c" textLength="60.4" lengthAdjust="spacing"><tspan font-style="italic">B</tspan> ⊥ <tspan font-style="italic">c</tspan> (T)</text>
<text x="347.5" y="247.3" font-size="12.5" text-anchor="middle" fill="#0c0c0c" transform="rotate(-90 347.5 247.3)" textLength="59.4" lengthAdjust="spacingAndGlyphs">00<tspan font-style="italic">L</tspan> (r.l.u.)</text>
<text x="380.3" y="191.7" font-size="12" text-anchor="start" fill="#111" font-weight="bold" font-style="normal" >g</text>
<text x="504.9" y="194.4" font-size="13" text-anchor="end" fill="#0c0c0c" font-weight="normal" font-style="normal" >REXS</text>
<text x="503.9" y="205.9" font-size="13" text-anchor="end" fill="#0c0c0c" font-weight="normal" font-style="normal" >8 K</text>
<clipPath id="ch"><rect x="552.5" y="182.5" width="130" height="132"/></clipPath>
<g clip-path="url(#ch)">
<path d="M552.50,203.50 L552.60,204.00 L556.00,206.00 L559.90,209.50 L563.00,214.00 L565.50,219.50 L567.50,226.00 L569.50,236.00 L571.50,248.00 L573.50,261.00 L576.00,274.00 L578.50,282.00 L581.50,288.00 L585.00,293.00 L588.50,297.00 L592.00,299.50 L596.00,301.50 L600.00,304.00 L603.00,306.50 L606.50,309.50 L610.00,311.50 L617.00,312.00 L682.50,312.30 L682.50,314.50 L552.50,314.50" stroke="none" stroke-width="0" fill="#fdf0f0" stroke-linejoin="round" stroke-linecap="round" />
<path d="M552.60,204.00 L556.00,206.00 L559.90,209.50 L563.00,214.00 L565.50,219.50 L567.50,226.00 L569.50,236.00 L571.50,248.00 L573.50,261.00 L576.00,274.00 L578.50,282.00 L581.50,288.00 L585.00,293.00 L588.50,297.00 L592.00,299.50 L596.00,301.50 L600.00,304.00 L603.00,306.50 L606.50,309.50 L610.00,311.50 L617.00,312.00 L682.50,312.30" stroke="#c87880" stroke-width="5" fill="none" stroke-linejoin="round" stroke-linecap="round" stroke-opacity="0.85"/>
<path d="M552.60,313.30 L560.00,312.80 L566.00,311.00 L574.00,305.00 L581.60,294.50 L588.40,284.00 L595.70,274.00 L602.90,264.00 L610.20,254.50 L617.00,245.00 L624.20,238.70 L631.50,234.00 L638.80,231.00 L646.00,228.00 L653.30,226.00 L660.60,224.80 L667.80,224.00 L675.10,223.60" stroke="#8c8cd8" stroke-width="6.5" fill="none" stroke-linejoin="round" stroke-linecap="round" stroke-opacity="0.75"/>
<line x1="552.6" y1="195.8" x2="552.6" y2="209.8" stroke="#b04850" stroke-width="0.8"/>
<line x1="552.6" y1="200" x2="552.6" y2="214" stroke="#b04850" stroke-width="0.8"/>
<line x1="559.9" y1="201.5" x2="559.9" y2="218.7" stroke="#b04850" stroke-width="0.8"/>
<line x1="567.1" y1="216.4" x2="567.1" y2="230.4" stroke="#b04850" stroke-width="0.8"/>
</g>
<rect x="552.5" y="182.5" width="130.0" height="132.0" fill="none" stroke="#959595" stroke-width="1.1"/>
<circle cx="552.6" cy="202.8" r="2.5" fill="#f4d4d4" fill-opacity="0.6" stroke="#b04048" stroke-width="1.1"/>
<circle cx="552.6" cy="207" r="2.5" fill="#f4d4d4" fill-opacity="0.6" stroke="#b04048" stroke-width="1.1"/>
<circle cx="559.9" cy="210.1" r="2.5" fill="#f4d4d4" fill-opacity="0.6" stroke="#b04048" stroke-width="1.1"/>
<circle cx="567.1" cy="223.4" r="2.5" fill="#f4d4d4" fill-opacity="0.6" stroke="#b04048" stroke-width="1.1"/>
<circle cx="573.9" cy="269.2" r="2.5" fill="#f4d4d4" fill-opacity="0.6" stroke="#b04048" stroke-width="1.1"/>
<circle cx="581.2" cy="287.6" r="2.5" fill="#f4d4d4" fill-opacity="0.6" stroke="#b04048" stroke-width="1.1"/>
<circle cx="588.4" cy="299" r="2.5" fill="#f4d4d4" fill-opacity="0.6" stroke="#b04048" stroke-width="1.1"/>
<circle cx="595.7" cy="300.2" r="2.5" fill="#f4d4d4" fill-opacity="0.6" stroke="#b04048" stroke-width="1.1"/>
<circle cx="602.9" cy="307" r="2.5" fill="#f4d4d4" fill-opacity="0.6" stroke="#b04048" stroke-width="1.1"/>
<circle cx="610.2" cy="312.3" r="2.5" fill="#f4d4d4" fill-opacity="0.6" stroke="#b04048" stroke-width="1.1"/>
<circle cx="617.5" cy="311.8" r="2.5" fill="#f4d4d4" fill-opacity="0.6" stroke="#b04048" stroke-width="1.1"/>
<circle cx="624.7" cy="311.8" r="2.5" fill="#f4d4d4" fill-opacity="0.6" stroke="#b04048" stroke-width="1.1"/>
<circle cx="631.9" cy="311.6" r="2.5" fill="#f4d4d4" fill-opacity="0.6" stroke="#b04048" stroke-width="1.1"/>
<circle cx="639.1" cy="312.4" r="2.5" fill="#f4d4d4" fill-opacity="0.6" stroke="#b04048" stroke-width="1.1"/>
<circle cx="646.3" cy="311.8" r="2.5" fill="#f4d4d4" fill-opacity="0.6" stroke="#b04048" stroke-width="1.1"/>
<circle cx="653.5" cy="312.3" r="2.5" fill="#f4d4d4" fill-opacity="0.6" stroke="#b04048" stroke-width="1.1"/>
<circle cx="660.7" cy="312.6" r="2.5" fill="#f4d4d4" fill-opacity="0.6" stroke="#b04048" stroke-width="1.1"/>
<circle cx="667.9" cy="312.4" r="2.5" fill="#f4d4d4" fill-opacity="0.6" stroke="#b04048" stroke-width="1.1"/>
<circle cx="675.1" cy="312.6" r="2.5" fill="#f4d4d4" fill-opacity="0.6" stroke="#b04048" stroke-width="1.1"/>
<circle cx="682.3" cy="312.6" r="2.5" fill="#f4d4d4" fill-opacity="0.6" stroke="#b04048" stroke-width="1.1"/>
<line x1="617" y1="240.7" x2="617" y2="248.3" stroke="#3c3cb0" stroke-width="0.9"/>
<line x1="624.2" y1="235.39999999999998" x2="624.2" y2="243.0" stroke="#3c3cb0" stroke-width="0.9"/>
<line x1="631.5" y1="229.1" x2="631.5" y2="236.70000000000002" stroke="#3c3cb0" stroke-width="0.9"/>
<line x1="638.8" y1="228.6" x2="638.8" y2="236.20000000000002" stroke="#3c3cb0" stroke-width="0.9"/>
<line x1="646" y1="223.2" x2="646" y2="230.8" stroke="#3c3cb0" stroke-width="0.9"/>
<line x1="653.3" y1="222.0" x2="653.3" y2="229.60000000000002" stroke="#3c3cb0" stroke-width="0.9"/>
<line x1="660.6" y1="221.29999999999998" x2="660.6" y2="228.9" stroke="#3c3cb0" stroke-width="0.9"/>
<line x1="667.8" y1="219.6" x2="667.8" y2="227.20000000000002" stroke="#3c3cb0" stroke-width="0.9"/>
<line x1="675.1" y1="219.6" x2="675.1" y2="227.20000000000002" stroke="#3c3cb0" stroke-width="0.9"/>
<circle cx="552.6" cy="313.5" r="2.5" fill="#d8d8f4" fill-opacity="0.6" stroke="#3c3cb0" stroke-width="1.1"/>
<circle cx="559.9" cy="312.8" r="2.5" fill="#d8d8f4" fill-opacity="0.6" stroke="#3c3cb0" stroke-width="1.1"/>
<circle cx="567.1" cy="311.8" r="2.5" fill="#d8d8f4" fill-opacity="0.6" stroke="#3c3cb0" stroke-width="1.1"/>
<circle cx="573.9" cy="305.8" r="2.5" fill="#d8d8f4" fill-opacity="0.6" stroke="#3c3cb0" stroke-width="1.1"/>
<circle cx="581.6" cy="294.1" r="2.5" fill="#d8d8f4" fill-opacity="0.6" stroke="#3c3cb0" stroke-width="1.1"/>
<circle cx="588.4" cy="283.3" r="2.5" fill="#d8d8f4" fill-opacity="0.6" stroke="#3c3cb0" stroke-width="1.1"/>
<circle cx="595.7" cy="274.1" r="2.5" fill="#d8d8f4" fill-opacity="0.6" stroke="#3c3cb0" stroke-width="1.1"/>
<circle cx="602.9" cy="263.9" r="2.5" fill="#d8d8f4" fill-opacity="0.6" stroke="#3c3cb0" stroke-width="1.1"/>
<circle cx="610.2" cy="254.9" r="2.5" fill="#d8d8f4" fill-opacity="0.6" stroke="#3c3cb0" stroke-width="1.1"/>
<circle cx="617" cy="244.5" r="2.5" fill="#d8d8f4" fill-opacity="0.6" stroke="#3c3cb0" stroke-width="1.1"/>
<circle cx="624.2" cy="239.2" r="2.5" fill="#d8d8f4" fill-opacity="0.6" stroke="#3c3cb0" stroke-width="1.1"/>
<circle cx="631.5" cy="232.9" r="2.5" fill="#d8d8f4" fill-opacity="0.6" stroke="#3c3cb0" stroke-width="1.1"/>
<circle cx="638.8" cy="232.4" r="2.5" fill="#d8d8f4" fill-opacity="0.6" stroke="#3c3cb0" stroke-width="1.1"/>
<circle cx="646" cy="227" r="2.5" fill="#d8d8f4" fill-opacity="0.6" stroke="#3c3cb0" stroke-width="1.1"/>
<circle cx="653.3" cy="225.8" r="2.5" fill="#d8d8f4" fill-opacity="0.6" stroke="#3c3cb0" stroke-width="1.1"/>
<circle cx="660.6" cy="225.1" r="2.5" fill="#d8d8f4" fill-opacity="0.6" stroke="#3c3cb0" stroke-width="1.1"/>
<circle cx="667.8" cy="223.4" r="2.5" fill="#d8d8f4" fill-opacity="0.6" stroke="#3c3cb0" stroke-width="1.1"/>
<circle cx="675.1" cy="223.4" r="2.5" fill="#d8d8f4" fill-opacity="0.6" stroke="#3c3cb0" stroke-width="1.1"/>
<line x1="588.7" y1="314.5" x2="588.7" y2="312.0" stroke="#959595" stroke-width="0.8"/>
<line x1="588.7" y1="182.5" x2="588.7" y2="185.0" stroke="#959595" stroke-width="0.8"/>
<line x1="624.7" y1="314.5" x2="624.7" y2="312.0" stroke="#959595" stroke-width="0.8"/>
<line x1="624.7" y1="182.5" x2="624.7" y2="185.0" stroke="#959595" stroke-width="0.8"/>
<line x1="660.7" y1="314.5" x2="660.7" y2="312.0" stroke="#959595" stroke-width="0.8"/>
<line x1="660.7" y1="182.5" x2="660.7" y2="185.0" stroke="#959595" stroke-width="0.8"/>
<line x1="552.5" y1="276.8" x2="555.0" y2="276.8" stroke="#959595" stroke-width="0.8"/>
<line x1="682.5" y1="276.8" x2="680.0" y2="276.8" stroke="#959595" stroke-width="0.8"/>
<line x1="552.5" y1="240.39999999999998" x2="555.0" y2="240.39999999999998" stroke="#959595" stroke-width="0.8"/>
<line x1="682.5" y1="240.39999999999998" x2="680.0" y2="240.39999999999998" stroke="#959595" stroke-width="0.8"/>
<line x1="552.5" y1="204.0" x2="555.0" y2="204.0" stroke="#959595" stroke-width="0.8"/>
<line x1="682.5" y1="204.0" x2="680.0" y2="204.0" stroke="#959595" stroke-width="0.8"/>
<text x="548" y="317.2" font-size="12" text-anchor="end" fill="#0c0c0c" font-weight="normal" font-style="normal" >0</text>
<text x="548" y="280.8" font-size="12" text-anchor="end" fill="#0c0c0c" font-weight="normal" font-style="normal" >5</text>
<text x="548" y="244.39999999999998" font-size="12" text-anchor="end" fill="#0c0c0c" font-weight="normal" font-style="normal" >10</text>
<text x="548" y="208.0" font-size="12" text-anchor="end" fill="#0c0c0c" font-weight="normal" font-style="normal" >15</text>
<text x="552.7" y="328.6" font-size="12" text-anchor="middle" fill="#0c0c0c" font-weight="normal" font-style="normal" >0</text>
<text x="588.7" y="328.6" font-size="12" text-anchor="middle" fill="#0c0c0c" font-weight="normal" font-style="normal" >0.5</text>
<text x="624.7" y="328.6" font-size="12" text-anchor="middle" fill="#0c0c0c" font-weight="normal" font-style="normal" >1</text>
<text x="660.7" y="328.6" font-size="12" text-anchor="middle" fill="#0c0c0c" font-weight="normal" font-style="normal" >1.5</text>
<text x="616.7" y="347" font-size="14" text-anchor="middle" fill="#0c0c0c" textLength="60.3" lengthAdjust="spacing"><tspan font-style="italic">B</tspan> ⊥ <tspan font-style="italic">c</tspan> (T)</text>
<text x="527.3" y="249.7" font-size="14" text-anchor="middle" fill="#222" transform="rotate(-90 527.3 249.7)" textLength="131.1" lengthAdjust="spacing">Intensity (arb. units)</text>
<text x="555.7" y="193.9" font-size="12" text-anchor="start" fill="#111" font-weight="bold" font-style="normal" >h</text>
<text x="680.2" y="194.8" font-size="13" text-anchor="end" fill="#0c0c0c" font-weight="normal" font-style="normal" >ND</text>
<text x="680.2" y="208.9" font-size="13" text-anchor="end" fill="#0c0c0c" font-weight="normal" font-style="normal" >2 K</text>
<text x="675.6" y="247" font-size="13" text-anchor="end" fill="#0c0c0c" font-weight="normal" font-style="normal" textLength="37.6" lengthAdjust="spacingAndGlyphs" >(1, 0, 4)</text>
<text x="673.1" y="306.8" font-size="13" text-anchor="end" fill="#0c0c0c" font-weight="normal" font-style="normal" textLength="48.4" lengthAdjust="spacingAndGlyphs" >(1, 0, 1.5)</text></svg></body></html>
